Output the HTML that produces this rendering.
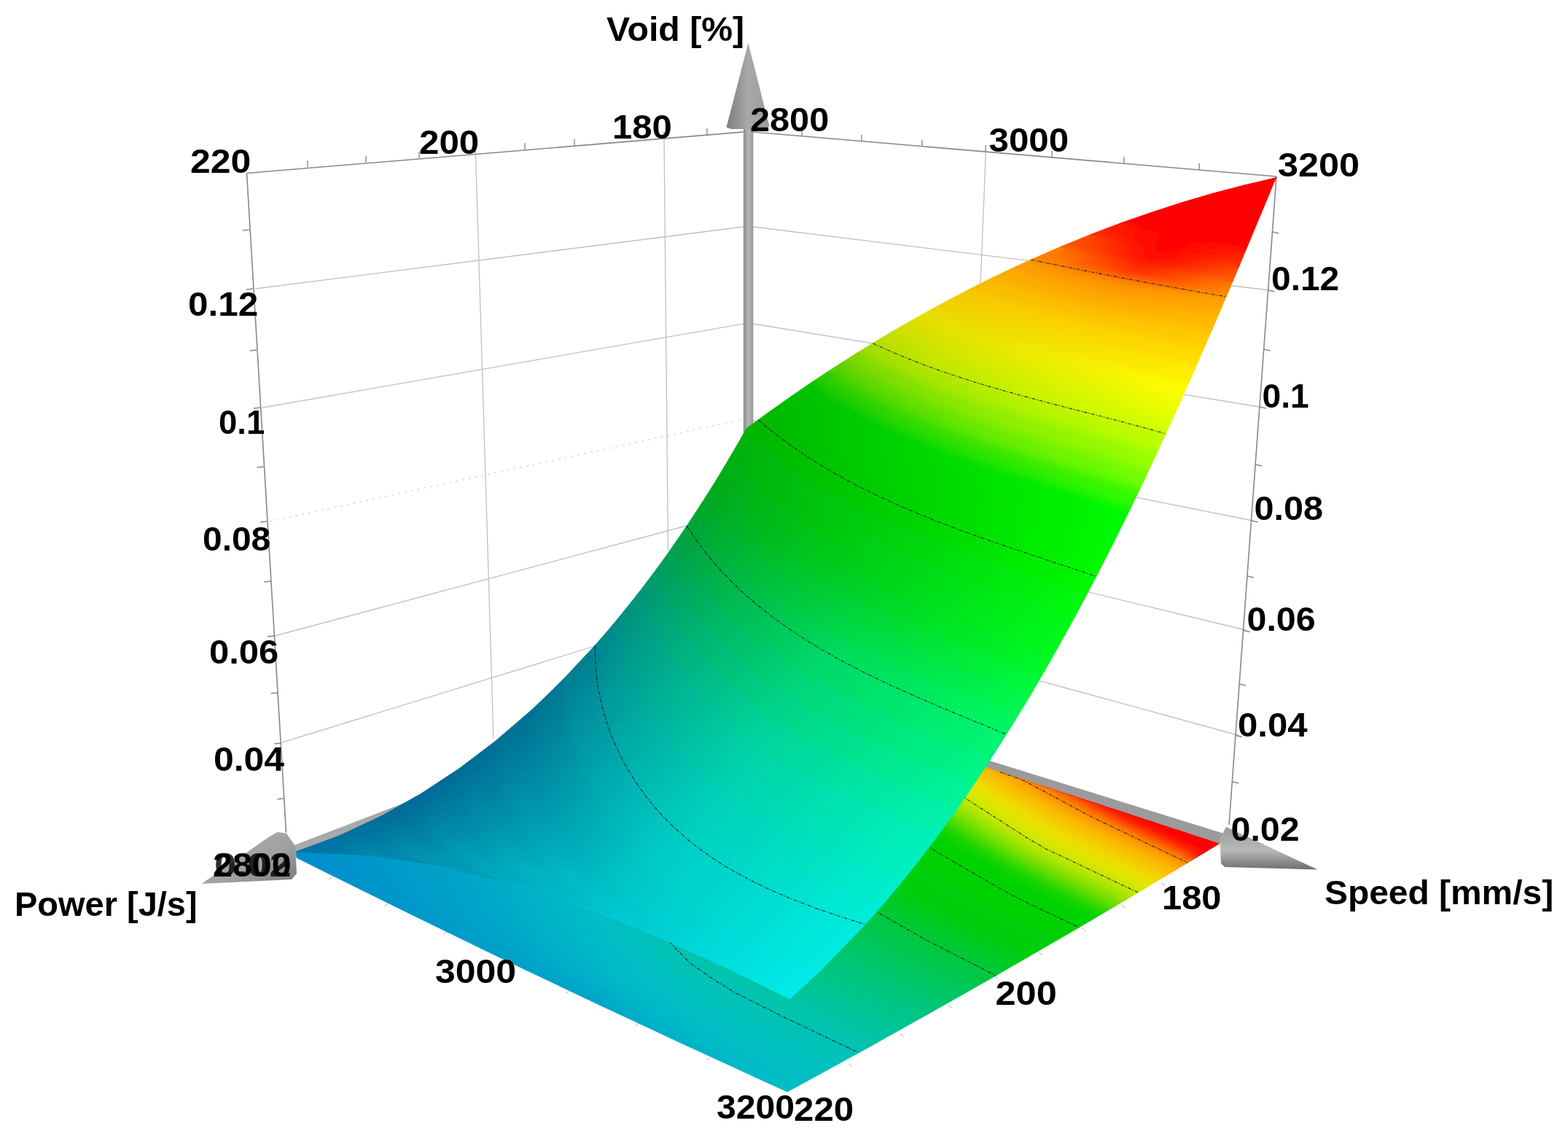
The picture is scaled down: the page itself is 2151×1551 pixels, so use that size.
<!DOCTYPE html>
<html lang="en"><head><meta charset="utf-8"><title>Void surface plot</title>
<style>html,body{margin:0;padding:0;background:#fff;overflow:hidden}svg{display:block}</style></head>
<body>
<svg width="2151" height="1551" viewBox="0 0 2151 1551">
<defs>
<linearGradient id="gsh" x1="0" x2="1" y1="0" y2="0"><stop offset="0" stop-color="#8c8c8c"/><stop offset="0.5" stop-color="#b4b4b4"/><stop offset="1" stop-color="#9a9a9a"/></linearGradient>
<linearGradient id="gcz" x1="0" x2="1" y1="0" y2="0"><stop offset="0" stop-color="#7d7d7d"/><stop offset="0.5" stop-color="#a8a8a8"/><stop offset="1" stop-color="#9c9c9c"/></linearGradient>
<linearGradient id="gcr" x1="0" x2="0" y1="0" y2="1"><stop offset="0" stop-color="#9a9a9a"/><stop offset="0.55" stop-color="#b8b8b8"/><stop offset="1" stop-color="#6e6e6e"/></linearGradient>
<linearGradient id="gcl" x1="0" x2="1" y1="0" y2="1"><stop offset="0" stop-color="#b4b4b4"/><stop offset="0.6" stop-color="#a0a0a0"/><stop offset="1" stop-color="#7a7a7a"/></linearGradient>
<filter id="bl" x="-5%" y="-5%" width="110%" height="110%"><feGaussianBlur stdDeviation="7"/></filter>
<clipPath id="cs"><polygon points="407.0,1168.0 410.9,1166.7 414.8,1165.4 418.6,1164.1 422.5,1162.7 426.3,1161.3 430.2,1160.0 434.0,1158.6 437.8,1157.1 441.6,1155.7 445.4,1154.2 449.2,1152.8 453.0,1151.3 456.8,1149.7 460.5,1148.2 464.3,1146.7 468.0,1145.1 471.7,1143.5 475.4,1141.9 479.1,1140.3 482.8,1138.6 486.5,1137.0 490.2,1135.3 493.8,1133.6 497.5,1131.9 501.1,1130.2 504.8,1128.4 508.4,1126.7 512.0,1124.9 515.6,1123.1 519.2,1121.3 522.8,1119.5 526.4,1117.6 529.9,1115.7 533.5,1113.9 537.0,1112.0 540.5,1110.1 544.1,1108.1 547.6,1106.2 551.1,1104.2 554.6,1102.3 558.0,1100.3 561.5,1098.3 565.0,1096.2 568.4,1094.2 571.9,1092.2 575.3,1090.1 578.7,1088.0 582.1,1085.9 585.5,1083.8 588.9,1081.7 592.3,1079.5 595.7,1077.4 599.1,1075.2 602.4,1073.0 605.7,1070.8 609.1,1068.6 612.4,1066.4 615.7,1064.1 619.0,1061.9 622.3,1059.6 625.6,1057.3 628.9,1055.0 632.1,1052.7 635.4,1050.3 638.7,1048.0 641.9,1045.6 645.1,1043.3 648.3,1040.9 651.5,1038.5 654.7,1036.1 657.9,1033.6 661.1,1031.2 664.3,1028.8 667.4,1026.3 670.6,1023.8 673.7,1021.3 676.9,1018.8 680.0,1016.3 683.1,1013.8 686.2,1011.2 689.3,1008.7 692.4,1006.1 695.5,1003.5 698.5,1000.9 701.6,998.3 704.6,995.7 707.7,993.1 710.7,990.5 713.7,987.8 716.7,985.2 719.7,982.5 722.7,979.8 725.7,977.1 728.7,974.4 731.6,971.7 734.6,968.9 737.5,966.2 740.5,963.4 743.4,960.7 746.3,957.9 749.2,955.1 752.1,952.3 755.0,949.5 757.9,946.7 760.8,943.9 763.6,941.0 766.5,938.2 769.3,935.3 772.2,932.5 775.0,929.6 777.8,926.7 780.6,923.8 783.4,920.9 786.2,918.0 789.0,915.0 791.8,912.1 794.5,909.2 797.3,906.2 800.0,903.2 802.8,900.3 805.5,897.3 808.2,894.3 810.9,891.3 813.6,888.3 816.3,885.3 819.0,882.2 821.7,879.2 824.3,876.1 827.0,873.1 829.6,870.0 832.3,867.0 834.9,863.9 837.5,860.8 840.1,857.7 842.8,854.6 845.3,851.5 847.9,848.4 850.5,845.2 853.1,842.1 855.6,839.0 858.2,835.8 860.7,832.7 863.3,829.5 865.8,826.3 868.3,823.1 870.8,820.0 873.3,816.8 875.8,813.6 878.3,810.4 880.8,807.2 883.2,803.9 885.7,800.7 888.2,797.5 890.6,794.2 893.0,791.0 895.5,787.7 897.9,784.5 900.3,781.2 902.7,778.0 905.1,774.7 907.5,771.4 909.8,768.1 912.2,764.8 914.5,761.5 916.9,758.2 919.2,754.9 921.6,751.6 923.9,748.3 926.2,745.0 928.5,741.6 930.8,738.3 933.1,735.0 935.4,731.6 937.7,728.3 939.9,724.9 942.2,721.6 944.4,718.2 946.7,714.8 948.9,711.5 951.1,708.1 953.4,704.7 955.6,701.3 957.8,697.9 960.0,694.6 962.1,691.2 964.3,687.8 966.5,684.4 968.6,681.0 970.8,677.6 972.9,674.1 975.1,670.7 977.2,667.3 979.3,663.9 981.4,660.5 983.6,657.0 985.6,653.6 987.7,650.2 989.8,646.7 991.9,643.3 994.0,639.9 996.0,636.4 998.1,633.0 1000.1,629.5 1002.1,626.1 1004.2,622.6 1006.2,619.2 1008.2,615.7 1010.2,612.3 1012.2,608.8 1014.2,605.3 1016.2,601.9 1018.1,598.4 1020.1,594.9 1022.1,591.5 1024.0,588.0 1027.2,585.6 1030.5,583.2 1033.7,580.8 1036.9,578.4 1040.2,576.1 1043.4,573.7 1046.7,571.3 1049.9,568.9 1053.2,566.6 1056.5,564.2 1059.7,561.9 1063.0,559.6 1066.3,557.2 1069.6,554.9 1072.9,552.6 1076.2,550.3 1079.5,547.9 1082.8,545.6 1086.1,543.3 1089.4,541.0 1092.7,538.8 1096.0,536.5 1099.3,534.2 1102.7,531.9 1106.0,529.7 1109.3,527.4 1112.7,525.2 1116.0,522.9 1119.3,520.7 1122.7,518.4 1126.1,516.2 1129.4,514.0 1132.8,511.8 1136.1,509.6 1139.5,507.4 1142.9,505.2 1146.3,503.0 1149.7,500.8 1153.0,498.6 1156.4,496.4 1159.8,494.3 1163.2,492.1 1166.6,489.9 1170.0,487.8 1173.5,485.7 1176.9,483.5 1180.3,481.4 1183.7,479.3 1187.1,477.2 1190.6,475.0 1194.0,472.9 1197.5,470.8 1200.9,468.8 1204.3,466.7 1207.8,464.6 1211.3,462.5 1214.7,460.5 1218.2,458.4 1221.6,456.4 1225.1,454.3 1228.6,452.3 1232.1,450.3 1235.6,448.2 1239.0,446.2 1242.5,444.2 1246.0,442.2 1249.5,440.2 1253.0,438.2 1256.5,436.2 1260.0,434.3 1263.6,432.3 1267.1,430.3 1270.6,428.4 1274.1,426.4 1277.7,424.5 1281.2,422.6 1284.7,420.6 1288.3,418.7 1291.8,416.8 1295.4,414.9 1298.9,413.0 1302.5,411.1 1306.0,409.2 1309.6,407.4 1313.2,405.5 1316.7,403.6 1320.3,401.8 1323.9,399.9 1327.5,398.1 1331.0,396.3 1334.6,394.4 1338.2,392.6 1341.8,390.8 1345.4,389.0 1349.0,387.2 1352.6,385.4 1356.2,383.6 1359.9,381.9 1363.5,380.1 1367.1,378.4 1370.7,376.6 1374.4,374.9 1378.0,373.1 1381.6,371.4 1385.3,369.7 1388.9,368.0 1392.6,366.3 1396.2,364.6 1399.9,362.9 1403.5,361.2 1407.2,359.5 1410.8,357.9 1414.5,356.2 1418.2,354.6 1421.9,352.9 1425.5,351.3 1429.2,349.7 1432.9,348.1 1436.6,346.4 1440.3,344.8 1444.0,343.3 1447.7,341.7 1451.4,340.1 1455.1,338.5 1458.8,337.0 1462.5,335.4 1466.2,333.9 1469.9,332.3 1473.7,330.8 1477.4,329.3 1481.1,327.8 1484.8,326.3 1488.6,324.8 1492.3,323.3 1496.1,321.8 1499.8,320.4 1503.6,318.9 1507.3,317.4 1511.1,316.0 1514.8,314.6 1518.6,313.1 1522.4,311.7 1526.1,310.3 1529.9,308.9 1533.7,307.5 1537.4,306.1 1541.2,304.8 1545.0,303.4 1548.8,302.0 1552.6,300.7 1556.4,299.4 1560.2,298.0 1564.0,296.7 1567.8,295.4 1571.6,294.1 1575.4,292.8 1579.2,291.5 1583.0,290.2 1586.9,289.0 1590.7,287.7 1594.5,286.4 1598.3,285.2 1602.2,284.0 1606.0,282.7 1609.8,281.5 1613.7,280.3 1617.5,279.1 1621.4,277.9 1625.2,276.8 1629.1,275.6 1632.9,274.4 1636.8,273.3 1640.7,272.1 1644.5,271.0 1648.4,269.9 1652.3,268.8 1656.1,267.7 1660.0,266.6 1663.9,265.5 1667.8,264.4 1671.7,263.3 1675.6,262.3 1679.4,261.2 1683.3,260.2 1687.2,259.2 1691.1,258.1 1695.0,257.1 1699.0,256.1 1702.9,255.1 1706.8,254.2 1710.7,253.2 1714.6,252.2 1718.5,251.3 1722.5,250.3 1726.4,249.4 1730.3,248.5 1734.2,247.6 1738.2,246.7 1742.1,245.8 1746.1,244.9 1750.0,244.0 1750.0,244.0 1748.5,247.7 1746.9,251.4 1745.4,255.1 1743.9,258.8 1742.4,262.5 1740.8,266.2 1739.3,269.9 1737.8,273.6 1736.2,277.3 1734.7,281.0 1733.2,284.7 1731.6,288.4 1730.1,292.1 1728.5,295.8 1727.0,299.5 1725.5,303.2 1723.9,306.9 1722.4,310.6 1720.8,314.3 1719.3,318.0 1717.7,321.7 1716.2,325.4 1714.7,329.1 1713.1,332.8 1711.6,336.5 1710.0,340.2 1708.4,343.9 1706.9,347.6 1705.3,351.3 1703.8,355.0 1702.2,358.7 1700.7,362.4 1699.1,366.1 1697.6,369.8 1696.0,373.5 1694.4,377.2 1692.9,380.9 1691.3,384.6 1689.7,388.3 1688.2,392.0 1686.6,395.7 1685.0,399.4 1683.4,403.1 1681.9,406.8 1680.3,410.5 1678.7,414.2 1677.1,417.9 1675.5,421.6 1674.0,425.3 1672.4,429.0 1670.8,432.7 1669.2,436.4 1667.6,440.1 1666.0,443.8 1664.4,447.5 1662.8,451.2 1661.2,454.9 1659.6,458.5 1658.0,462.2 1656.4,465.9 1654.8,469.6 1653.2,473.3 1651.6,477.0 1650.0,480.7 1648.4,484.4 1646.8,488.1 1645.1,491.8 1643.5,495.5 1641.9,499.2 1640.3,502.8 1638.7,506.5 1637.0,510.2 1635.4,513.9 1633.8,517.6 1632.1,521.3 1630.5,525.0 1628.9,528.6 1627.2,532.3 1625.6,536.0 1623.9,539.7 1622.3,543.4 1620.6,547.0 1619.0,550.7 1617.3,554.4 1615.7,558.1 1614.0,561.7 1612.3,565.4 1610.7,569.1 1609.0,572.8 1607.3,576.4 1605.7,580.1 1604.0,583.8 1602.3,587.4 1600.6,591.1 1599.0,594.8 1597.3,598.4 1595.6,602.1 1593.9,605.7 1592.2,609.4 1590.5,613.1 1588.8,616.7 1587.1,620.4 1585.4,624.0 1583.7,627.7 1582.0,631.3 1580.3,635.0 1578.6,638.6 1576.8,642.3 1575.1,645.9 1573.4,649.6 1571.7,653.2 1569.9,656.9 1568.2,660.5 1566.5,664.1 1564.7,667.8 1563.0,671.4 1561.2,675.0 1559.5,678.7 1557.7,682.3 1556.0,685.9 1554.2,689.6 1552.5,693.2 1550.7,696.8 1548.9,700.4 1547.2,704.1 1545.4,707.7 1543.6,711.3 1541.8,714.9 1540.0,718.5 1538.3,722.1 1536.5,725.7 1534.7,729.4 1532.9,733.0 1531.1,736.6 1529.3,740.2 1527.5,743.8 1525.6,747.4 1523.8,751.0 1522.0,754.6 1520.2,758.2 1518.4,761.7 1516.5,765.3 1514.7,768.9 1512.9,772.5 1511.0,776.1 1509.2,779.7 1507.3,783.2 1505.5,786.8 1503.6,790.4 1501.8,794.0 1499.9,797.5 1498.0,801.1 1496.2,804.7 1494.3,808.2 1492.4,811.8 1490.5,815.4 1488.6,818.9 1486.7,822.5 1484.8,826.0 1482.9,829.6 1481.0,833.1 1479.1,836.7 1477.2,840.2 1475.3,843.7 1473.4,847.3 1471.5,850.8 1469.5,854.3 1467.6,857.9 1465.7,861.4 1463.7,864.9 1461.8,868.5 1459.8,872.0 1457.9,875.5 1455.9,879.0 1454.0,882.5 1452.0,886.0 1450.0,889.5 1448.1,893.0 1446.1,896.5 1444.1,900.0 1442.1,903.5 1440.1,907.0 1438.1,910.5 1436.1,914.0 1434.1,917.5 1432.1,921.0 1430.1,924.4 1428.1,927.9 1426.1,931.4 1424.0,934.9 1422.0,938.3 1420.0,941.8 1417.9,945.3 1415.9,948.7 1413.8,952.2 1411.8,955.6 1409.7,959.1 1407.6,962.5 1405.6,966.0 1403.5,969.4 1401.4,972.8 1399.3,976.3 1397.2,979.7 1395.1,983.1 1393.0,986.6 1390.9,990.0 1388.8,993.4 1386.7,996.8 1384.6,1000.2 1382.4,1003.6 1380.3,1007.0 1378.2,1010.4 1376.0,1013.8 1373.9,1017.2 1371.7,1020.6 1369.6,1024.0 1367.4,1027.4 1365.3,1030.8 1363.1,1034.2 1360.9,1037.5 1358.7,1040.9 1356.5,1044.3 1354.3,1047.6 1352.1,1051.0 1349.9,1054.4 1347.7,1057.7 1345.5,1061.1 1343.3,1064.4 1341.0,1067.7 1338.8,1071.1 1336.6,1074.4 1334.3,1077.7 1332.1,1081.0 1329.8,1084.4 1327.5,1087.7 1325.3,1091.0 1323.0,1094.3 1320.7,1097.6 1318.4,1100.9 1316.1,1104.2 1313.8,1107.5 1311.5,1110.7 1309.2,1114.0 1306.9,1117.3 1304.5,1120.5 1302.2,1123.8 1299.9,1127.1 1297.5,1130.3 1295.1,1133.6 1292.8,1136.8 1290.4,1140.0 1288.0,1143.3 1285.7,1146.5 1283.3,1149.7 1280.9,1152.9 1278.5,1156.1 1276.0,1159.3 1273.6,1162.5 1271.2,1165.7 1268.8,1168.9 1266.3,1172.1 1263.9,1175.2 1261.4,1178.4 1258.9,1181.6 1256.5,1184.7 1254.0,1187.9 1251.5,1191.0 1249.0,1194.2 1246.5,1197.3 1244.0,1200.4 1241.5,1203.5 1239.0,1206.7 1236.4,1209.8 1233.9,1212.9 1231.3,1216.0 1228.8,1219.1 1226.2,1222.1 1223.6,1225.2 1221.0,1228.3 1218.5,1231.3 1215.9,1234.4 1213.2,1237.4 1210.6,1240.5 1208.0,1243.5 1205.4,1246.5 1202.7,1249.6 1200.1,1252.6 1197.4,1255.6 1194.8,1258.6 1192.1,1261.6 1189.4,1264.6 1186.7,1267.5 1184.0,1270.5 1181.3,1273.5 1178.6,1276.4 1175.8,1279.4 1173.1,1282.3 1170.4,1285.3 1167.6,1288.2 1164.8,1291.1 1162.1,1294.0 1159.3,1296.9 1156.5,1299.8 1153.7,1302.7 1150.9,1305.6 1148.0,1308.4 1145.2,1311.3 1142.4,1314.2 1139.5,1317.0 1136.7,1319.8 1133.8,1322.7 1130.9,1325.5 1128.0,1328.3 1125.1,1331.1 1122.2,1333.9 1119.3,1336.7 1116.4,1339.5 1113.4,1342.3 1110.5,1345.0 1107.5,1347.8 1104.6,1350.5 1101.6,1353.3 1098.6,1356.0 1095.6,1358.7 1092.6,1361.4 1089.6,1364.1 1086.5,1366.8 1083.5,1369.5 1079.9,1367.7 1076.4,1365.9 1072.8,1364.1 1069.2,1362.3 1065.7,1360.5 1062.1,1358.7 1058.5,1356.9 1054.9,1355.1 1051.3,1353.3 1047.7,1351.5 1044.2,1349.7 1040.6,1347.9 1037.0,1346.1 1033.4,1344.3 1029.8,1342.5 1026.2,1340.7 1022.5,1339.0 1018.9,1337.2 1015.3,1335.4 1011.7,1333.7 1008.1,1331.9 1004.5,1330.1 1000.8,1328.4 997.2,1326.6 993.6,1324.9 989.9,1323.1 986.3,1321.4 982.6,1319.6 979.0,1317.9 975.4,1316.2 971.7,1314.4 968.1,1312.7 964.4,1311.0 960.7,1309.3 957.1,1307.6 953.4,1305.9 949.7,1304.2 946.1,1302.5 942.4,1300.8 938.7,1299.1 935.0,1297.4 931.4,1295.8 927.7,1294.1 924.0,1292.4 920.3,1290.8 916.6,1289.1 912.9,1287.5 909.2,1285.9 905.5,1284.2 901.8,1282.6 898.1,1281.0 894.4,1279.4 890.6,1277.8 886.9,1276.2 883.2,1274.6 879.5,1273.0 875.8,1271.4 872.0,1269.9 868.3,1268.3 864.6,1266.8 860.8,1265.2 857.1,1263.7 853.3,1262.1 849.6,1260.6 845.8,1259.1 842.1,1257.6 838.3,1256.1 834.6,1254.6 830.8,1253.1 827.0,1251.7 823.3,1250.2 819.5,1248.8 815.7,1247.3 811.9,1245.9 808.2,1244.5 804.4,1243.0 800.6,1241.6 796.8,1240.2 793.0,1238.8 789.2,1237.5 785.4,1236.1 781.6,1234.7 777.8,1233.4 774.0,1232.1 770.2,1230.7 766.4,1229.4 762.6,1228.1 758.7,1226.8 754.9,1225.5 751.1,1224.3 747.3,1223.0 743.4,1221.8 739.6,1220.5 735.8,1219.3 731.9,1218.1 728.1,1216.9 724.2,1215.7 720.4,1214.5 716.5,1213.3 712.7,1212.2 708.8,1211.0 705.0,1209.9 701.1,1208.8 697.2,1207.7 693.4,1206.6 689.5,1205.5 685.6,1204.4 681.7,1203.4 677.9,1202.3 674.0,1201.3 670.1,1200.3 666.2,1199.3 662.3,1198.3 658.4,1197.3 654.5,1196.3 650.6,1195.4 646.7,1194.4 642.8,1193.5 638.9,1192.6 635.0,1191.7 631.1,1190.8 627.1,1190.0 623.2,1189.1 619.3,1188.3 615.4,1187.5 611.4,1186.7 607.5,1185.9 603.6,1185.1 599.6,1184.3 595.7,1183.6 591.7,1182.9 587.8,1182.2 583.8,1181.5 579.9,1180.8 575.9,1180.1 572.0,1179.5 568.0,1178.8 564.0,1178.2 560.1,1177.6 556.1,1177.0 552.1,1176.5 548.1,1175.9 544.1,1175.4 540.2,1174.8 536.2,1174.3 532.2,1173.9 528.2,1173.4 524.2,1172.9 520.2,1172.5 516.2,1172.1 512.2,1171.7 508.2,1171.3 504.2,1171.0 500.2,1170.6 496.1,1170.3 492.1,1170.0 488.1,1169.7 484.1,1169.4 480.0,1169.2 476.0,1169.0 472.0,1168.7 467.9,1168.6 463.9,1168.4 459.8,1168.2 455.8,1168.1 451.7,1168.0 447.7,1167.9 443.6,1167.8 439.6,1167.7 435.5,1167.7 431.5,1167.7 427.4,1167.7 423.3,1167.7 419.2,1167.8 415.2,1167.8 411.1,1167.9 407.0,1168.0"/></clipPath>
<clipPath id="cf"><polygon points="407.0,1168.0 815.0,1020.0 941.0,975.0 1025.0,946.0 1038.0,950.0 1179.0,996.0 1372.0,1059.0 1672.0,1157.0 1672.0,1157.0 1629.0,1183.0 1561.0,1223.8 1480.0,1271.7 1366.0,1337.7 1272.0,1391.1 1178.0,1443.5 1080.0,1497.0 945.4,1435.4 810.8,1372.4 676.2,1308.2 541.6,1242.8 407.0,1176.0"/></clipPath>
</defs>
<rect width="2151" height="1551" fill="#fff"/>
<g fill="none"><line x1="350.0" y1="396.0" x2="1020.0" y2="311.0" stroke="#c0c0c0" stroke-width="1.30" /><line x1="360.0" y1="559.0" x2="1020.0" y2="444.0" stroke="#c0c0c0" stroke-width="1.30" /><line x1="370.0" y1="715.0" x2="1020.0" y2="575.0" stroke="#dedede" stroke-width="1.60" stroke-dasharray="3 6"/><line x1="377.0" y1="872.0" x2="942.0" y2="721.0" stroke="#c0c0c0" stroke-width="1.30" /><line x1="384.0" y1="1019.0" x2="816.0" y2="886.0" stroke="#c0c0c0" stroke-width="1.30" /><line x1="652.5" y1="212.0" x2="677.0" y2="1013.0" stroke="#c0c0c0" stroke-width="1.30" /><line x1="911.0" y1="190.0" x2="916.5" y2="755.0" stroke="#c0c0c0" stroke-width="1.30" /><line x1="1033.0" y1="311.0" x2="1741.0" y2="398.0" stroke="#c0c0c0" stroke-width="1.30" /><line x1="1033.0" y1="444.0" x2="1728.0" y2="558.0" stroke="#c0c0c0" stroke-width="1.30" /><line x1="1033.0" y1="577.0" x2="1718.0" y2="714.0" stroke="#c0c0c0" stroke-width="1.30" /><line x1="1033.0" y1="700.5" x2="1710.5" y2="864.5" stroke="#c0c0c0" stroke-width="1.30" /><line x1="1033.0" y1="826.0" x2="1699.5" y2="1008.5" stroke="#c0c0c0" stroke-width="1.30" /><line x1="1352.5" y1="205.0" x2="1345.0" y2="390.0" stroke="#c0c0c0" stroke-width="1.30" /><line x1="338.5" y1="237.5" x2="1020.0" y2="181.0" stroke="#888888" stroke-width="1.60" /><line x1="1033.0" y1="181.0" x2="1751.0" y2="242.0" stroke="#888888" stroke-width="1.60" /><line x1="338.5" y1="237.5" x2="392.5" y2="1142.0" stroke="#888888" stroke-width="1.60" /><line x1="1751.0" y1="242.0" x2="1686.0" y2="1131.0" stroke="#888888" stroke-width="1.60" /><line x1="422.0" y1="229.2" x2="422.0" y2="220.2" stroke="#888888" stroke-width="1.40" /><line x1="502.0" y1="222.7" x2="502.0" y2="213.7" stroke="#888888" stroke-width="1.40" /><line x1="575.0" y1="216.8" x2="575.0" y2="207.8" stroke="#888888" stroke-width="1.40" /><line x1="652.0" y1="210.6" x2="652.0" y2="201.6" stroke="#888888" stroke-width="1.40" /><line x1="720.0" y1="205.2" x2="720.0" y2="196.2" stroke="#888888" stroke-width="1.40" /><line x1="788.0" y1="199.7" x2="788.0" y2="190.7" stroke="#888888" stroke-width="1.40" /><line x1="911.0" y1="189.8" x2="911.0" y2="180.8" stroke="#888888" stroke-width="1.40" /><line x1="970.0" y1="185.0" x2="970.0" y2="176.0" stroke="#888888" stroke-width="1.40" /><line x1="1100.0" y1="186.7" x2="1100.0" y2="177.7" stroke="#888888" stroke-width="1.40" /><line x1="1182.0" y1="193.7" x2="1182.0" y2="184.7" stroke="#888888" stroke-width="1.40" /><line x1="1265.0" y1="200.7" x2="1265.0" y2="191.7" stroke="#888888" stroke-width="1.40" /><line x1="1352.0" y1="208.1" x2="1352.0" y2="199.1" stroke="#888888" stroke-width="1.40" /><line x1="1443.0" y1="215.8" x2="1443.0" y2="206.8" stroke="#888888" stroke-width="1.40" /><line x1="1542.0" y1="224.2" x2="1542.0" y2="215.2" stroke="#888888" stroke-width="1.40" /><line x1="1645.0" y1="233.0" x2="1645.0" y2="224.0" stroke="#888888" stroke-width="1.40" /><line x1="341.8" y1="315.0" x2="332.8" y2="316.0" stroke="#888888" stroke-width="1.40" /><line x1="346.8" y1="396.0" x2="337.8" y2="397.0" stroke="#888888" stroke-width="1.40" /><line x1="351.9" y1="480.0" x2="342.9" y2="481.0" stroke="#888888" stroke-width="1.40" /><line x1="356.8" y1="559.0" x2="347.8" y2="560.0" stroke="#888888" stroke-width="1.40" /><line x1="361.7" y1="640.0" x2="352.7" y2="641.0" stroke="#888888" stroke-width="1.40" /><line x1="366.3" y1="715.0" x2="357.3" y2="716.0" stroke="#888888" stroke-width="1.40" /><line x1="371.4" y1="797.0" x2="362.4" y2="798.0" stroke="#888888" stroke-width="1.40" /><line x1="376.0" y1="872.0" x2="367.0" y2="873.0" stroke="#888888" stroke-width="1.40" /><line x1="380.7" y1="950.0" x2="371.7" y2="951.0" stroke="#888888" stroke-width="1.40" /><line x1="385.0" y1="1019.0" x2="376.0" y2="1020.0" stroke="#888888" stroke-width="1.40" /><line x1="389.6" y1="1095.0" x2="380.6" y2="1096.0" stroke="#888888" stroke-width="1.40" /><line x1="1745.4" y1="318.0" x2="1754.4" y2="320.0" stroke="#888888" stroke-width="1.40" /><line x1="1739.6" y1="398.0" x2="1748.6" y2="400.0" stroke="#888888" stroke-width="1.40" /><line x1="1733.7" y1="479.0" x2="1742.7" y2="481.0" stroke="#888888" stroke-width="1.40" /><line x1="1727.9" y1="558.0" x2="1736.9" y2="560.0" stroke="#888888" stroke-width="1.40" /><line x1="1722.1" y1="637.0" x2="1731.1" y2="639.0" stroke="#888888" stroke-width="1.40" /><line x1="1716.5" y1="714.0" x2="1725.5" y2="716.0" stroke="#888888" stroke-width="1.40" /><line x1="1710.9" y1="790.0" x2="1719.9" y2="792.0" stroke="#888888" stroke-width="1.40" /><line x1="1705.5" y1="864.5" x2="1714.5" y2="866.5" stroke="#888888" stroke-width="1.40" /><line x1="1700.1" y1="938.0" x2="1709.1" y2="940.0" stroke="#888888" stroke-width="1.40" /><line x1="1695.0" y1="1008.5" x2="1704.0" y2="1010.5" stroke="#888888" stroke-width="1.40" /><line x1="1690.3" y1="1072.0" x2="1699.3" y2="1074.0" stroke="#888888" stroke-width="1.40" /></g>
<rect x="1019.8" y="170" width="13.6" height="440" fill="url(#gsh)"/>
<polygon points="1026.4,59 1055.5,173 1050,177 1003,177 996.5,174.5" fill="url(#gcz)"/>
<polygon points="1025,940 1682,1144 1682,1150 1672,1158 1025,953" fill="#9b9b9b"/>
<polygon points="1025,920 1025,940 400,1176 396,1162" fill="#a9a9a9"/>
<g id="fl" stroke-width="1.2" stroke-linejoin="round">
<polygon points="407.0,1168.0 407.0,1168.5 407.0,1169.0 407.0,1169.5 407.0,1170.0 407.0,1170.5 407.0,1171.0 407.0,1171.5 407.0,1172.0 407.0,1172.5 407.0,1173.0 407.0,1173.5 407.0,1174.0 407.0,1174.5 407.0,1175.0 407.0,1175.5 407.0,1176.0 459.2,1201.9 456.8,1199.8 454.5,1197.8 452.1,1195.8 449.8,1193.7 447.4,1191.6 445.2,1189.3 443.0,1187.0 441.1,1184.2 439.5,1181.3 438.1,1178.3 436.7,1175.2 435.5,1172.0 434.8,1168.7 434.0,1165.4 433.3,1162.1 432.5,1158.8" fill="#008ecd" stroke="#008ecd"/>
<polygon points="432.5,1158.8 433.3,1162.1 434.0,1165.4 434.8,1168.7 435.5,1172.0 436.7,1175.2 438.1,1178.3 439.5,1181.3 441.1,1184.2 443.0,1187.0 445.2,1189.3 447.4,1191.6 449.8,1193.7 452.1,1195.8 454.5,1197.8 456.8,1199.8 459.2,1201.9 511.4,1227.8 506.7,1224.2 501.9,1220.6 497.2,1217.0 492.5,1213.3 487.8,1209.7 483.3,1205.7 479.0,1201.4 475.3,1196.5 472.1,1191.1 469.2,1185.5 466.3,1179.9 464.0,1174.1 462.5,1167.9 461.0,1161.8 459.5,1155.6 458.0,1149.5" fill="#0091cc" stroke="#0091cc"/>
<polygon points="458.0,1149.5 459.5,1155.6 461.0,1161.8 462.5,1167.9 464.0,1174.1 466.3,1179.9 469.2,1185.5 472.1,1191.1 475.3,1196.5 479.0,1201.4 483.3,1205.7 487.8,1209.7 492.5,1213.3 497.2,1217.0 501.9,1220.6 506.7,1224.2 511.4,1227.8 563.7,1253.5 556.6,1248.4 549.5,1243.3 542.4,1238.1 535.3,1232.9 528.3,1227.6 521.6,1221.9 515.1,1215.8 509.4,1208.6 504.6,1200.9 500.3,1192.7 496.0,1184.5 492.5,1176.1 490.3,1167.1 488.0,1158.2 485.8,1149.2 483.5,1140.2" fill="#0094cb" stroke="#0094cb"/>
<polygon points="483.5,1140.2 485.8,1149.2 488.0,1158.2 490.3,1167.1 492.5,1176.1 496.0,1184.5 500.3,1192.7 504.6,1200.9 509.4,1208.6 515.1,1215.8 521.6,1221.9 528.3,1227.6 535.3,1232.9 542.4,1238.1 549.5,1243.3 556.6,1248.4 563.7,1253.5 616.0,1279.0 606.6,1272.3 597.1,1265.7 587.6,1259.1 578.2,1252.3 568.9,1245.4 559.9,1237.9 551.2,1230.0 543.7,1220.7 537.2,1210.5 531.5,1199.8 525.8,1189.1 521.1,1178.0 518.1,1166.3 515.0,1154.5 512.0,1142.8 509.0,1131.0" fill="#0097cb" stroke="#0097cb"/>
<polygon points="509.0,1131.0 512.0,1142.8 515.0,1154.5 518.1,1166.3 521.1,1178.0 525.8,1189.1 531.5,1199.8 537.2,1210.5 543.7,1220.7 551.2,1230.0 559.9,1237.9 568.9,1245.4 578.2,1252.3 587.6,1259.1 597.1,1265.7 606.6,1272.3 616.0,1279.0 668.4,1304.5 656.6,1296.3 644.7,1288.1 632.9,1280.0 621.2,1271.6 609.4,1263.2 598.2,1254.0 587.3,1244.2 577.9,1232.7 569.8,1220.2 562.7,1206.9 555.5,1193.7 549.6,1180.0 545.8,1165.4 542.1,1150.9 538.3,1136.3 534.5,1121.8" fill="#009aca" stroke="#009aca"/>
<polygon points="534.5,1121.8 538.3,1136.3 542.1,1150.9 545.8,1165.4 549.6,1180.0 555.5,1193.7 562.7,1206.9 569.8,1220.2 577.9,1232.7 587.3,1244.2 598.2,1254.0 609.4,1263.2 621.2,1271.6 632.9,1280.0 644.7,1288.1 656.6,1296.3 668.4,1304.5 721.0,1329.6 706.7,1319.9 692.5,1310.3 678.3,1300.6 664.2,1290.7 650.1,1280.8 636.6,1269.9 623.5,1258.3 612.2,1244.6 602.5,1229.6 593.9,1213.9 585.3,1198.1 578.2,1181.8 573.7,1164.5 569.1,1147.2 564.6,1129.8 560.0,1112.5" fill="#009dca" stroke="#009dca"/>
<polygon points="560.0,1112.5 564.6,1129.8 569.1,1147.2 573.7,1164.5 578.2,1181.8 585.3,1198.1 593.9,1213.9 602.5,1229.6 612.2,1244.6 623.5,1258.3 636.6,1269.9 650.1,1280.8 664.2,1290.7 678.3,1300.6 692.5,1310.3 706.7,1319.9 721.0,1329.6 773.6,1354.7 756.9,1343.5 740.3,1332.4 723.7,1321.2 707.2,1309.8 690.8,1298.3 675.0,1285.7 659.8,1272.2 646.5,1256.4 635.2,1239.1 625.2,1220.8 615.1,1202.6 606.8,1183.6 601.5,1163.5 596.2,1143.4 590.8,1123.3 585.5,1103.2" fill="#00a0c9" stroke="#00a0c9"/>
<polygon points="585.5,1103.2 590.8,1123.3 596.2,1143.4 601.5,1163.5 606.8,1183.6 615.1,1202.6 625.2,1220.8 635.2,1239.1 646.5,1256.4 659.8,1272.2 675.0,1285.7 690.8,1298.3 707.2,1309.8 723.7,1321.2 740.3,1332.4 756.9,1343.5 773.6,1354.7 826.2,1379.6 807.2,1367.0 788.2,1354.4 769.2,1341.8 750.3,1328.8 731.5,1315.7 713.4,1301.5 696.0,1286.2 680.9,1268.2 667.9,1248.5 656.4,1227.8 644.9,1207.0 635.4,1185.4 629.3,1162.6 623.2,1139.7 617.1,1116.9 611.0,1094.0" fill="#00a3c8" stroke="#00a3c8"/>
<polygon points="611.0,1094.0 617.1,1116.9 623.2,1139.7 629.3,1162.6 635.4,1185.4 644.9,1207.0 656.4,1227.8 667.9,1248.5 680.9,1268.2 696.0,1286.2 713.4,1301.5 731.5,1315.7 750.3,1328.8 769.2,1341.8 788.2,1354.4 807.2,1367.0 826.2,1379.6 879.0,1404.3 857.6,1390.2 836.2,1376.1 814.7,1362.0 793.5,1347.5 772.4,1333.0 752.0,1317.0 732.4,1300.0 715.3,1279.8 700.7,1257.8 687.8,1234.6 674.8,1211.3 664.1,1187.2 657.2,1161.6 650.3,1136.0 643.4,1110.4 636.5,1084.8" fill="#00a7c8" stroke="#00a7c8"/>
<polygon points="636.5,1084.8 643.4,1110.4 650.3,1136.0 657.2,1161.6 664.1,1187.2 674.8,1211.3 687.8,1234.6 700.7,1257.8 715.3,1279.8 732.4,1300.0 752.0,1317.0 772.4,1333.0 793.5,1347.5 814.7,1362.0 836.2,1376.1 857.6,1390.2 879.0,1404.3 931.7,1429.0 907.9,1413.4 884.1,1397.9 860.3,1382.3 836.7,1366.3 813.2,1350.2 790.5,1332.6 768.7,1313.7 749.7,1291.5 733.5,1267.1 719.1,1241.4 704.6,1215.6 692.7,1188.9 685.0,1160.6 677.4,1132.2 669.7,1103.9 662.0,1075.5" fill="#00acc8" stroke="#00acc8"/>
<polygon points="662.0,1075.5 669.7,1103.9 677.4,1132.2 685.0,1160.6 692.7,1188.9 704.6,1215.6 719.1,1241.4 733.5,1267.1 749.7,1291.5 768.7,1313.7 790.5,1332.6 813.2,1350.2 836.7,1366.3 860.3,1382.3 884.1,1397.9 907.9,1413.4 931.7,1429.0 984.7,1453.3 958.4,1436.3 932.2,1419.3 906.0,1402.3 880.0,1384.8 854.1,1367.3 829.2,1348.0 805.1,1327.3 784.2,1303.0 766.4,1276.2 750.4,1248.0 734.5,1219.8 721.4,1190.6 712.9,1159.5 704.5,1128.4 696.0,1097.3 687.5,1066.2" fill="#00b1c8" stroke="#00b1c8"/>
<polygon points="687.5,1066.2 696.0,1097.3 704.5,1128.4 712.9,1159.5 721.4,1190.6 734.5,1219.8 750.4,1248.0 766.4,1276.2 784.2,1303.0 805.1,1327.3 829.2,1348.0 854.1,1367.3 880.0,1384.8 906.0,1402.3 932.2,1419.3 958.4,1436.3 984.7,1453.3 1037.6,1477.6 1009.0,1459.1 980.4,1440.7 951.7,1422.2 923.4,1403.3 895.1,1384.2 867.8,1363.3 841.6,1340.9 818.7,1314.4 799.2,1285.3 781.8,1254.7 764.5,1224.0 750.1,1192.2 740.8,1158.4 731.6,1124.6 722.3,1090.8 713.0,1057.0" fill="#00b6c8" stroke="#00b6c8"/>
<polygon points="713.0,1057.0 722.3,1090.8 731.6,1124.6 740.8,1158.4 750.1,1192.2 764.5,1224.0 781.8,1254.7 799.2,1285.3 818.7,1314.4 841.6,1340.9 867.8,1363.3 895.1,1384.2 923.4,1403.3 951.7,1422.2 980.4,1440.7 1009.0,1459.1 1037.6,1477.6 1080.0,1497.0 1049.4,1477.4 1018.9,1457.8 988.3,1438.2 958.0,1418.0 927.8,1397.8 898.7,1375.5 870.8,1351.7 846.3,1323.5 825.5,1292.6 806.9,1260.0 788.4,1227.4 773.1,1193.5 763.1,1157.5 753.2,1121.6 743.3,1085.6 733.4,1049.6" fill="#00bac8" stroke="#00bac8"/>
<polygon points="733.4,1049.6 743.3,1085.6 753.2,1121.6 763.1,1157.5 773.1,1193.5 788.4,1227.4 806.9,1260.0 825.5,1292.6 846.3,1323.5 870.8,1351.7 898.7,1375.5 927.8,1397.8 958.0,1418.0 988.3,1438.2 1018.9,1457.8 1049.4,1477.4 1080.0,1497.0 1086.1,1493.7 1055.4,1474.3 1024.6,1454.9 993.8,1435.5 963.4,1415.6 932.9,1395.5 903.7,1373.5 875.5,1349.8 851.0,1321.7 830.1,1290.9 811.6,1258.3 793.0,1225.7 777.7,1191.8 767.9,1155.8 758.1,1119.8 748.3,1083.8 738.5,1047.8" fill="#00bcc7" stroke="#00bcc7"/>
<polygon points="738.5,1047.8 748.3,1083.8 758.1,1119.8 767.9,1155.8 777.7,1191.8 793.0,1225.7 811.6,1258.3 830.1,1290.9 851.0,1321.7 875.5,1349.8 903.7,1373.5 932.9,1395.5 963.4,1415.6 993.8,1435.5 1024.6,1454.9 1055.4,1474.3 1086.1,1493.7 1116.8,1476.9 1085.0,1458.7 1053.2,1440.4 1021.4,1422.2 990.0,1403.3 958.5,1384.3 928.4,1363.1 899.4,1340.3 874.3,1312.6 853.2,1282.0 834.6,1249.5 815.9,1217.0 800.8,1183.2 791.6,1147.0 782.4,1110.8 773.2,1074.7 764.0,1038.5" fill="#00bec4" stroke="#00bec4"/>
<polygon points="764.0,1038.5 773.2,1074.7 782.4,1110.8 791.6,1147.0 800.8,1183.2 815.9,1217.0 834.6,1249.5 853.2,1282.0 874.3,1312.6 899.4,1340.3 928.4,1363.1 958.5,1384.3 990.0,1403.3 1021.4,1422.2 1053.2,1440.4 1085.0,1458.7 1116.8,1476.9 1147.4,1460.2 1114.6,1443.1 1081.8,1425.9 1049.0,1408.8 1016.5,1391.0 984.1,1373.1 953.1,1352.8 923.3,1330.7 897.7,1303.6 876.3,1273.2 857.6,1240.8 838.8,1208.4 823.9,1174.6 815.3,1138.2 806.7,1101.9 798.1,1065.6 789.5,1029.2" fill="#00c0bd" stroke="#00c0bd"/>
<polygon points="789.5,1029.2 798.1,1065.6 806.7,1101.9 815.3,1138.2 823.9,1174.6 838.8,1208.4 857.6,1240.8 876.3,1273.2 897.7,1303.6 923.3,1330.7 953.1,1352.8 984.1,1373.1 1016.5,1391.0 1049.0,1408.8 1081.8,1425.9 1114.6,1443.1 1147.4,1460.2 1178.0,1443.5 1144.2,1427.5 1110.4,1411.4 1076.6,1395.4 1043.1,1378.7 1009.7,1361.9 977.8,1342.5 947.2,1321.2 921.0,1294.5 899.4,1264.4 880.6,1232.1 861.8,1199.8 847.0,1165.9 839.0,1129.5 831.0,1093.0 823.0,1056.5 815.0,1020.0" fill="#00c2b7" stroke="#00c2b7"/>
<polygon points="815.0,1020.0 823.0,1056.5 831.0,1093.0 839.0,1129.5 847.0,1165.9 861.8,1199.8 880.6,1232.1 899.4,1264.4 921.0,1294.5 947.2,1321.2 977.8,1342.5 1009.7,1361.9 1043.1,1378.7 1076.6,1395.4 1110.4,1411.4 1144.2,1427.5 1178.0,1443.5 1189.8,1436.9 1156.1,1420.9 1122.4,1404.9 1088.8,1388.8 1055.4,1372.1 1022.2,1355.2 990.4,1335.8 959.9,1314.6 933.5,1288.3 911.6,1258.6 892.6,1226.6 873.6,1194.6 858.3,1161.1 849.5,1125.1 840.6,1089.1 831.7,1053.2 822.9,1017.2" fill="#00c3b1" stroke="#00c3b1"/>
<polygon points="822.9,1017.2 831.7,1053.2 840.6,1089.1 849.5,1125.1 858.3,1161.1 873.6,1194.6 892.6,1226.6 911.6,1258.6 933.5,1288.3 959.9,1314.6 990.4,1335.8 1022.2,1355.2 1055.4,1372.1 1088.8,1388.8 1122.4,1404.9 1156.1,1420.9 1189.8,1436.9 1201.6,1430.4 1168.0,1414.3 1134.5,1398.3 1100.9,1382.2 1067.8,1365.4 1034.7,1348.5 1003.0,1329.1 972.6,1307.9 946.0,1282.0 923.7,1252.8 904.5,1221.1 885.3,1189.3 869.7,1156.2 859.9,1120.7 850.2,1085.3 840.5,1049.8 830.8,1014.4" fill="#00c4ab" stroke="#00c4ab"/>
<polygon points="830.8,1014.4 840.5,1049.8 850.2,1085.3 859.9,1120.7 869.7,1156.2 885.3,1189.3 904.5,1221.1 923.7,1252.8 946.0,1282.0 972.6,1307.9 1003.0,1329.1 1034.7,1348.5 1067.8,1365.4 1100.9,1382.2 1134.5,1398.3 1168.0,1414.3 1201.6,1430.4 1213.3,1423.8 1179.9,1407.8 1146.5,1391.7 1113.1,1375.6 1080.1,1358.8 1047.2,1341.8 1015.6,1322.4 985.3,1301.3 958.5,1275.8 935.9,1247.1 916.5,1215.6 897.1,1184.0 881.0,1151.3 870.4,1116.3 859.8,1081.4 849.2,1046.5 838.6,1011.6" fill="#00c4a4" stroke="#00c4a4"/>
<polygon points="838.6,1011.6 849.2,1046.5 859.8,1081.4 870.4,1116.3 881.0,1151.3 897.1,1184.0 916.5,1215.6 935.9,1247.1 958.5,1275.8 985.3,1301.3 1015.6,1322.4 1047.2,1341.8 1080.1,1358.8 1113.1,1375.6 1146.5,1391.7 1179.9,1407.8 1213.3,1423.8 1225.1,1417.2 1191.8,1401.2 1158.5,1385.1 1125.3,1369.0 1092.4,1352.1 1059.6,1335.1 1028.3,1315.6 998.0,1294.6 971.0,1269.5 948.0,1241.3 928.4,1210.0 908.9,1178.8 892.3,1146.4 880.9,1112.0 869.4,1077.6 858.0,1043.2 846.5,1008.8" fill="#00c49e" stroke="#00c49e"/>
<polygon points="846.5,1008.8 858.0,1043.2 869.4,1077.6 880.9,1112.0 892.3,1146.4 908.9,1178.8 928.4,1210.0 948.0,1241.3 971.0,1269.5 998.0,1294.6 1028.3,1315.6 1059.6,1335.1 1092.4,1352.1 1125.3,1369.0 1158.5,1385.1 1191.8,1401.2 1225.1,1417.2 1236.9,1410.7 1203.7,1394.6 1170.6,1378.5 1137.4,1362.4 1104.7,1345.4 1072.1,1328.4 1040.9,1308.9 1010.7,1288.0 983.5,1263.3 960.2,1235.5 940.4,1204.5 920.7,1173.5 903.7,1141.5 891.4,1107.6 879.0,1073.7 866.7,1039.8 854.4,1005.9" fill="#00c598" stroke="#00c598"/>
<polygon points="854.4,1005.9 866.7,1039.8 879.0,1073.7 891.4,1107.6 903.7,1141.5 920.7,1173.5 940.4,1204.5 960.2,1235.5 983.5,1263.3 1010.7,1288.0 1040.9,1308.9 1072.1,1328.4 1104.7,1345.4 1137.4,1362.4 1170.6,1378.5 1203.7,1394.6 1236.9,1410.7 1248.7,1404.1 1215.6,1388.0 1182.6,1372.0 1149.6,1355.8 1117.1,1338.8 1084.6,1321.7 1053.5,1302.2 1023.4,1281.3 996.0,1257.0 972.3,1229.7 952.4,1199.0 932.4,1168.3 915.0,1136.6 901.8,1103.2 888.6,1069.8 875.4,1036.5 862.2,1003.1" fill="#00c592" stroke="#00c592"/>
<polygon points="862.2,1003.1 875.4,1036.5 888.6,1069.8 901.8,1103.2 915.0,1136.6 932.4,1168.3 952.4,1199.0 972.3,1229.7 996.0,1257.0 1023.4,1281.3 1053.5,1302.2 1084.6,1321.7 1117.1,1338.8 1149.6,1355.8 1182.6,1372.0 1215.6,1388.0 1248.7,1404.1 1260.4,1397.6 1227.5,1381.5 1194.6,1365.4 1161.8,1349.3 1129.4,1332.1 1097.1,1314.9 1066.1,1295.5 1036.1,1274.6 1008.5,1250.8 984.5,1224.0 964.3,1193.5 944.2,1163.0 926.3,1131.7 912.3,1098.8 898.2,1066.0 884.2,1033.2 870.1,1000.3" fill="#00c58b" stroke="#00c58b"/>
<polygon points="870.1,1000.3 884.2,1033.2 898.2,1066.0 912.3,1098.8 926.3,1131.7 944.2,1163.0 964.3,1193.5 984.5,1224.0 1008.5,1250.8 1036.1,1274.6 1066.1,1295.5 1097.1,1314.9 1129.4,1332.1 1161.8,1349.3 1194.6,1365.4 1227.5,1381.5 1260.4,1397.6 1272.2,1391.0 1239.4,1374.9 1206.7,1358.8 1173.9,1342.7 1141.7,1325.5 1109.6,1308.2 1078.7,1288.7 1048.8,1268.0 1021.0,1244.5 996.6,1218.2 976.3,1188.0 956.0,1157.8 937.7,1126.8 922.8,1094.5 907.8,1062.1 892.9,1029.8 878.0,997.5" fill="#00c685" stroke="#00c685"/>
<polygon points="878.0,997.5 892.9,1029.8 907.8,1062.1 922.8,1094.5 937.7,1126.8 956.0,1157.8 976.3,1188.0 996.6,1218.2 1021.0,1244.5 1048.8,1268.0 1078.7,1288.7 1109.6,1308.2 1141.7,1325.5 1173.9,1342.7 1206.7,1358.8 1239.4,1374.9 1272.2,1391.0 1283.9,1384.3 1251.3,1368.2 1218.7,1352.1 1186.1,1336.0 1154.0,1318.8 1122.0,1301.5 1091.3,1282.0 1061.4,1261.3 1033.5,1238.2 1008.8,1212.4 988.2,1182.4 967.7,1152.5 949.0,1121.9 933.2,1090.1 917.4,1058.3 901.7,1026.5 885.9,994.7" fill="#00c67e" stroke="#00c67e"/>
<polygon points="885.9,994.7 901.7,1026.5 917.4,1058.3 933.2,1090.1 949.0,1121.9 967.7,1152.5 988.2,1182.4 1008.8,1212.4 1033.5,1238.2 1061.4,1261.3 1091.3,1282.0 1122.0,1301.5 1154.0,1318.8 1186.1,1336.0 1218.7,1352.1 1251.3,1368.2 1283.9,1384.3 1295.7,1377.7 1263.2,1361.6 1230.6,1345.5 1198.2,1329.3 1166.3,1312.0 1134.4,1294.7 1103.9,1275.2 1074.1,1254.6 1046.0,1231.9 1020.9,1206.6 1000.2,1176.9 979.5,1147.2 960.3,1116.9 943.7,1085.7 927.0,1054.4 910.4,1023.1 893.8,991.9" fill="#00c675" stroke="#00c675"/>
<polygon points="893.8,991.9 910.4,1023.1 927.0,1054.4 943.7,1085.7 960.3,1116.9 979.5,1147.2 1000.2,1176.9 1020.9,1206.6 1046.0,1231.9 1074.1,1254.6 1103.9,1275.2 1134.4,1294.7 1166.3,1312.0 1198.2,1329.3 1230.6,1345.5 1263.2,1361.6 1295.7,1377.7 1307.4,1371.0 1275.0,1354.9 1242.6,1338.8 1210.3,1322.6 1178.6,1305.3 1146.9,1287.9 1116.5,1268.4 1086.8,1247.9 1058.4,1225.6 1033.0,1200.8 1012.1,1171.3 991.3,1141.9 971.6,1112.0 954.1,1081.3 936.6,1050.5 919.1,1019.8 901.6,989.1" fill="#00c76c" stroke="#00c76c"/>
<polygon points="901.6,989.1 919.1,1019.8 936.6,1050.5 954.1,1081.3 971.6,1112.0 991.3,1141.9 1012.1,1171.3 1033.0,1200.8 1058.4,1225.6 1086.8,1247.9 1116.5,1268.4 1146.9,1287.9 1178.6,1305.3 1210.3,1322.6 1242.6,1338.8 1275.0,1354.9 1307.4,1371.0 1319.1,1364.4 1286.9,1348.3 1254.6,1332.2 1222.4,1316.0 1190.9,1298.6 1159.3,1281.2 1129.1,1261.6 1099.4,1241.2 1070.9,1219.4 1045.1,1195.0 1024.1,1165.8 1003.0,1136.6 983.0,1107.1 964.6,1076.9 946.2,1046.7 927.9,1016.5 909.5,986.2" fill="#00c763" stroke="#00c763"/>
<polygon points="909.5,986.2 927.9,1016.5 946.2,1046.7 964.6,1076.9 983.0,1107.1 1003.0,1136.6 1024.1,1165.8 1045.1,1195.0 1070.9,1219.4 1099.4,1241.2 1129.1,1261.6 1159.3,1281.2 1190.9,1298.6 1222.4,1316.0 1254.6,1332.2 1286.9,1348.3 1319.1,1364.4 1330.8,1357.7 1298.7,1341.6 1266.6,1325.5 1234.5,1309.3 1203.1,1291.8 1171.8,1274.4 1141.7,1254.8 1112.1,1234.4 1083.4,1213.1 1057.3,1189.1 1036.0,1160.2 1014.8,1131.4 994.3,1102.2 975.0,1072.5 955.8,1042.8 936.6,1013.1 917.4,983.4" fill="#00c75b" stroke="#00c75b"/>
<polygon points="917.4,983.4 936.6,1013.1 955.8,1042.8 975.0,1072.5 994.3,1102.2 1014.8,1131.4 1036.0,1160.2 1057.3,1189.1 1083.4,1213.1 1112.1,1234.4 1141.7,1254.8 1171.8,1274.4 1203.1,1291.8 1234.5,1309.3 1266.6,1325.5 1298.7,1341.6 1330.8,1357.7 1342.6,1351.1 1310.6,1334.9 1278.6,1318.8 1246.7,1302.6 1215.4,1285.1 1184.2,1267.6 1154.3,1248.0 1124.8,1227.7 1095.8,1206.8 1069.4,1183.3 1048.0,1154.7 1026.5,1126.1 1005.6,1097.2 985.5,1068.1 965.4,1038.9 945.3,1009.8 925.2,980.6" fill="#00c752" stroke="#00c752"/>
<polygon points="925.2,980.6 945.3,1009.8 965.4,1038.9 985.5,1068.1 1005.6,1097.2 1026.5,1126.1 1048.0,1154.7 1069.4,1183.3 1095.8,1206.8 1124.8,1227.7 1154.3,1248.0 1184.2,1267.6 1215.4,1285.1 1246.7,1302.6 1278.6,1318.8 1310.6,1334.9 1342.6,1351.1 1354.3,1344.4 1322.4,1328.3 1290.6,1312.2 1258.8,1295.9 1227.7,1278.4 1196.6,1260.8 1166.8,1241.2 1137.4,1221.0 1108.3,1200.5 1081.5,1177.5 1059.9,1149.2 1038.3,1120.8 1016.9,1092.3 996.0,1063.7 975.0,1035.1 954.1,1006.4 933.1,977.8" fill="#00c849" stroke="#00c849"/>
<polygon points="933.1,977.8 954.1,1006.4 975.0,1035.1 996.0,1063.7 1016.9,1092.3 1038.3,1120.8 1059.9,1149.2 1081.5,1177.5 1108.3,1200.5 1137.4,1221.0 1166.8,1241.2 1196.6,1260.8 1227.7,1278.4 1258.8,1295.9 1290.6,1312.2 1322.4,1328.3 1354.3,1344.4 1366.0,1337.7 1334.3,1321.6 1302.6,1305.5 1270.9,1289.3 1240.0,1271.7 1209.1,1254.1 1179.4,1234.5 1150.1,1214.3 1120.8,1194.2 1093.7,1171.7 1071.8,1143.6 1050.0,1115.5 1028.2,1087.4 1006.4,1059.3 984.6,1031.2 962.8,1003.1 941.0,975.0" fill="#00c840" stroke="#00c840"/>
<polygon points="941.0,975.0 962.8,1003.1 984.6,1031.2 1006.4,1059.3 1028.2,1087.4 1050.0,1115.5 1071.8,1143.6 1093.7,1171.7 1120.8,1194.2 1150.1,1214.3 1179.4,1234.5 1209.1,1254.1 1240.0,1271.7 1270.9,1289.3 1302.6,1305.5 1334.3,1321.6 1366.0,1337.7 1373.1,1333.6 1341.4,1317.5 1309.7,1301.5 1278.1,1285.3 1247.2,1267.7 1216.3,1250.1 1186.6,1230.6 1157.3,1210.5 1128.0,1190.4 1100.7,1168.1 1078.5,1140.6 1056.2,1113.0 1034.3,1085.0 1012.5,1057.0 990.6,1029.0 968.7,1001.0 946.8,973.0" fill="#00c838" stroke="#00c838"/>
<polygon points="946.8,973.0 968.7,1001.0 990.6,1029.0 1012.5,1057.0 1034.3,1085.0 1056.2,1113.0 1078.5,1140.6 1100.7,1168.1 1128.0,1190.4 1157.3,1210.5 1186.6,1230.6 1216.3,1250.1 1247.2,1267.7 1278.1,1285.3 1309.7,1301.5 1341.4,1317.5 1373.1,1333.6 1380.2,1329.5 1348.6,1313.5 1316.9,1297.4 1285.3,1281.3 1254.4,1263.7 1223.6,1246.1 1193.9,1226.7 1164.5,1206.8 1135.2,1186.7 1107.8,1164.6 1085.1,1137.5 1062.4,1110.5 1040.4,1082.6 1018.5,1054.7 996.5,1026.8 974.6,998.9 952.7,971.0" fill="#00c931" stroke="#00c931"/>
<polygon points="952.7,971.0 974.6,998.9 996.5,1026.8 1018.5,1054.7 1040.4,1082.6 1062.4,1110.5 1085.1,1137.5 1107.8,1164.6 1135.2,1186.7 1164.5,1206.8 1193.9,1226.7 1223.6,1246.1 1254.4,1263.7 1285.3,1281.3 1316.9,1297.4 1348.6,1313.5 1380.2,1329.5 1387.4,1325.3 1355.7,1309.4 1324.0,1293.4 1292.4,1277.3 1261.6,1259.7 1230.9,1242.1 1201.1,1222.8 1171.7,1203.0 1142.4,1182.9 1114.9,1161.0 1091.8,1134.5 1068.6,1108.0 1046.5,1080.2 1024.5,1052.4 1002.5,1024.6 980.5,996.8 958.5,969.0" fill="#00ca2a" stroke="#00ca2a"/>
<polygon points="958.5,969.0 980.5,996.8 1002.5,1024.6 1024.5,1052.4 1046.5,1080.2 1068.6,1108.0 1091.8,1134.5 1114.9,1161.0 1142.4,1182.9 1171.7,1203.0 1201.1,1222.8 1230.9,1242.1 1261.6,1259.7 1292.4,1277.3 1324.0,1293.4 1355.7,1309.4 1387.4,1325.3 1394.5,1321.2 1362.8,1305.3 1331.2,1289.4 1299.6,1273.3 1268.9,1255.7 1238.1,1238.0 1208.3,1218.9 1178.9,1199.2 1149.6,1179.2 1122.0,1157.4 1098.4,1131.5 1074.8,1105.5 1052.6,1077.8 1030.5,1050.1 1008.5,1022.4 986.4,994.7 964.3,966.9" fill="#00cb23" stroke="#00cb23"/>
<polygon points="964.3,966.9 986.4,994.7 1008.5,1022.4 1030.5,1050.1 1052.6,1077.8 1074.8,1105.5 1098.4,1131.5 1122.0,1157.4 1149.6,1179.2 1178.9,1199.2 1208.3,1218.9 1238.1,1238.0 1268.9,1255.7 1299.6,1273.3 1331.2,1289.4 1362.8,1305.3 1394.5,1321.2 1401.6,1317.1 1370.0,1301.2 1338.3,1285.4 1306.8,1269.3 1276.1,1251.7 1245.4,1234.0 1215.5,1215.0 1186.1,1195.4 1156.8,1175.4 1129.1,1153.9 1105.0,1128.4 1081.0,1103.0 1058.7,1075.5 1036.6,1047.8 1014.4,1020.2 992.3,992.6 970.2,964.9" fill="#00cc1c" stroke="#00cc1c"/>
<polygon points="970.2,964.9 992.3,992.6 1014.4,1020.2 1036.6,1047.8 1058.7,1075.5 1081.0,1103.0 1105.0,1128.4 1129.1,1153.9 1156.8,1175.4 1186.1,1195.4 1215.5,1215.0 1245.4,1234.0 1276.1,1251.7 1306.8,1269.3 1338.3,1285.4 1370.0,1301.2 1401.6,1317.1 1408.8,1313.0 1377.1,1297.1 1345.5,1281.3 1314.0,1265.3 1283.3,1247.7 1252.6,1230.0 1222.8,1211.1 1193.2,1191.7 1164.0,1171.7 1136.2,1150.3 1111.7,1125.4 1087.1,1100.5 1064.8,1073.1 1042.6,1045.5 1020.4,1018.0 998.2,990.5 976.0,962.9" fill="#00cc15" stroke="#00cc15"/>
<polygon points="976.0,962.9 998.2,990.5 1020.4,1018.0 1042.6,1045.5 1064.8,1073.1 1087.1,1100.5 1111.7,1125.4 1136.2,1150.3 1164.0,1171.7 1193.2,1191.7 1222.8,1211.1 1252.6,1230.0 1283.3,1247.7 1314.0,1265.3 1345.5,1281.3 1377.1,1297.1 1408.8,1313.0 1415.9,1308.8 1384.3,1293.1 1352.6,1277.3 1321.1,1261.3 1290.5,1243.7 1259.9,1226.0 1230.0,1207.3 1200.4,1187.9 1171.2,1168.0 1143.3,1146.7 1118.3,1122.4 1093.3,1098.0 1070.9,1070.7 1048.6,1043.2 1026.4,1015.8 1004.1,988.3 981.8,960.9" fill="#00cd0f" stroke="#00cd0f"/>
<polygon points="981.8,960.9 1004.1,988.3 1026.4,1015.8 1048.6,1043.2 1070.9,1070.7 1093.3,1098.0 1118.3,1122.4 1143.3,1146.7 1171.2,1168.0 1200.4,1187.9 1230.0,1207.3 1259.9,1226.0 1290.5,1243.7 1321.1,1261.3 1352.6,1277.3 1384.3,1293.1 1415.9,1308.8 1423.0,1304.7 1391.4,1289.0 1359.8,1273.3 1328.3,1257.3 1297.7,1239.7 1267.1,1222.0 1237.2,1203.4 1207.6,1184.1 1178.4,1164.2 1150.4,1143.2 1124.9,1119.3 1099.5,1095.5 1077.0,1068.3 1054.7,1040.9 1032.3,1013.6 1010.0,986.2 987.7,958.9" fill="#00ce0d" stroke="#00ce0d"/>
<polygon points="987.7,958.9 1010.0,986.2 1032.3,1013.6 1054.7,1040.9 1077.0,1068.3 1099.5,1095.5 1124.9,1119.3 1150.4,1143.2 1178.4,1164.2 1207.6,1184.1 1237.2,1203.4 1267.1,1222.0 1297.7,1239.7 1328.3,1257.3 1359.8,1273.3 1391.4,1289.0 1423.0,1304.7 1430.1,1300.6 1398.5,1284.9 1366.9,1269.3 1335.5,1253.3 1304.9,1235.7 1274.4,1218.0 1244.4,1199.5 1214.8,1180.3 1185.7,1160.5 1157.4,1139.6 1131.6,1116.3 1105.7,1093.0 1083.1,1065.9 1060.7,1038.6 1038.3,1011.4 1015.9,984.1 993.5,956.9" fill="#00ce0c" stroke="#00ce0c"/>
<polygon points="993.5,956.9 1015.9,984.1 1038.3,1011.4 1060.7,1038.6 1083.1,1065.9 1105.7,1093.0 1131.6,1116.3 1157.4,1139.6 1185.7,1160.5 1214.8,1180.3 1244.4,1199.5 1274.4,1218.0 1304.9,1235.7 1335.5,1253.3 1366.9,1269.3 1398.5,1284.9 1430.1,1300.6 1437.2,1296.4 1405.7,1280.8 1374.1,1265.2 1342.6,1249.3 1312.1,1231.7 1281.7,1214.0 1251.6,1195.6 1222.0,1176.5 1192.9,1156.7 1164.5,1136.0 1138.2,1113.2 1111.9,1090.5 1089.2,1063.5 1066.7,1036.3 1044.3,1009.2 1021.8,982.0 999.3,954.9" fill="#00cf0a" stroke="#00cf0a"/>
<polygon points="999.3,954.9 1021.8,982.0 1044.3,1009.2 1066.7,1036.3 1089.2,1063.5 1111.9,1090.5 1138.2,1113.2 1164.5,1136.0 1192.9,1156.7 1222.0,1176.5 1251.6,1195.6 1281.7,1214.0 1312.1,1231.7 1342.6,1249.3 1374.1,1265.2 1405.7,1280.8 1437.2,1296.4 1444.4,1292.3 1412.8,1276.7 1381.2,1261.2 1349.8,1245.3 1319.4,1227.7 1288.9,1210.0 1258.9,1191.7 1229.2,1172.8 1200.1,1153.0 1171.6,1132.5 1144.8,1110.2 1118.0,1087.9 1095.3,1061.1 1072.8,1034.1 1050.2,1007.0 1027.7,979.9 1005.2,952.8" fill="#00cf09" stroke="#00cf09"/>
<polygon points="1005.2,952.8 1027.7,979.9 1050.2,1007.0 1072.8,1034.1 1095.3,1061.1 1118.0,1087.9 1144.8,1110.2 1171.6,1132.5 1200.1,1153.0 1229.2,1172.8 1258.9,1191.7 1288.9,1210.0 1319.4,1227.7 1349.8,1245.3 1381.2,1261.2 1412.8,1276.7 1444.4,1292.3 1451.5,1288.2 1419.9,1272.7 1388.4,1257.2 1357.0,1241.4 1326.6,1223.7 1296.2,1206.0 1266.1,1187.8 1236.4,1169.0 1207.3,1149.2 1178.7,1128.9 1151.5,1107.2 1124.2,1085.4 1101.4,1058.7 1078.8,1031.8 1056.2,1004.8 1033.6,977.8 1011.0,950.8" fill="#00d007" stroke="#00d007"/>
<polygon points="1011.0,950.8 1033.6,977.8 1056.2,1004.8 1078.8,1031.8 1101.4,1058.7 1124.2,1085.4 1151.5,1107.2 1178.7,1128.9 1207.3,1149.2 1236.4,1169.0 1266.1,1187.8 1296.2,1206.0 1326.6,1223.7 1357.0,1241.4 1388.4,1257.2 1419.9,1272.7 1451.5,1288.2 1458.6,1284.0 1427.1,1268.6 1395.5,1253.1 1364.2,1237.4 1333.8,1219.7 1303.4,1202.0 1273.3,1183.9 1243.6,1165.2 1214.5,1145.5 1185.8,1125.3 1158.1,1104.1 1130.4,1082.9 1107.5,1056.3 1084.8,1029.5 1062.2,1002.6 1039.5,975.7 1016.8,948.8" fill="#00d005" stroke="#00d005"/>
<polygon points="1016.8,948.8 1039.5,975.7 1062.2,1002.6 1084.8,1029.5 1107.5,1056.3 1130.4,1082.9 1158.1,1104.1 1185.8,1125.3 1214.5,1145.5 1243.6,1165.2 1273.3,1183.9 1303.4,1202.0 1333.8,1219.7 1364.2,1237.4 1395.5,1253.1 1427.1,1268.6 1458.6,1284.0 1465.8,1279.9 1434.2,1264.5 1402.7,1249.1 1371.3,1233.4 1341.0,1215.7 1310.7,1198.0 1280.5,1180.0 1250.8,1161.4 1221.7,1141.8 1192.9,1121.8 1164.7,1101.1 1136.6,1080.4 1113.6,1054.0 1090.9,1027.2 1068.1,1000.4 1045.4,973.6 1022.7,946.8" fill="#00d104" stroke="#00d104"/>
<polygon points="1022.7,946.8 1045.4,973.6 1068.1,1000.4 1090.9,1027.2 1113.6,1054.0 1136.6,1080.4 1164.7,1101.1 1192.9,1121.8 1221.7,1141.8 1250.8,1161.4 1280.5,1180.0 1310.7,1198.0 1341.0,1215.7 1371.3,1233.4 1402.7,1249.1 1434.2,1264.5 1465.8,1279.9 1468.6,1278.3 1437.1,1262.9 1405.5,1247.5 1374.2,1231.8 1343.9,1214.1 1313.6,1196.4 1283.4,1178.5 1253.6,1159.9 1224.6,1140.3 1195.7,1120.4 1167.4,1099.9 1139.1,1079.4 1116.0,1053.0 1093.3,1026.3 1070.5,999.5 1047.8,972.8 1025.0,946.0" fill="#00d103" stroke="#00d103"/>
<polygon points="1025.0,946.0 1047.8,972.8 1070.5,999.5 1093.3,1026.3 1116.0,1053.0 1139.1,1079.4 1167.4,1099.9 1195.7,1120.4 1224.6,1140.3 1253.6,1159.9 1283.4,1178.5 1313.6,1196.4 1343.9,1214.1 1374.2,1231.8 1405.5,1247.5 1437.1,1262.9 1468.6,1278.3 1472.9,1275.8 1441.4,1260.6 1410.0,1245.4 1378.8,1229.9 1348.6,1212.4 1318.4,1194.8 1288.3,1177.2 1258.6,1158.8 1229.6,1139.4 1200.7,1119.7 1172.2,1099.8 1143.7,1079.8 1120.7,1053.6 1098.0,1027.1 1075.3,1000.5 1052.6,974.0 1029.9,947.5" fill="#00d102" stroke="#00d102"/>
<polygon points="1029.9,947.5 1052.6,974.0 1075.3,1000.5 1098.0,1027.1 1120.7,1053.6 1143.7,1079.8 1172.2,1099.8 1200.7,1119.7 1229.6,1139.4 1258.6,1158.8 1288.3,1177.2 1318.4,1194.8 1348.6,1212.4 1378.8,1229.9 1410.0,1245.4 1441.4,1260.6 1472.9,1275.8 1480.0,1271.7 1448.7,1256.8 1417.4,1242.0 1386.4,1226.7 1356.4,1209.5 1326.3,1192.2 1296.3,1175.0 1266.8,1157.0 1237.9,1137.9 1209.1,1118.7 1180.3,1099.5 1151.5,1080.4 1128.5,1054.6 1105.9,1028.4 1083.3,1002.3 1060.6,976.1 1038.0,950.0" fill="#00d201" stroke="#00d201"/>
<polygon points="1038.0,950.0 1060.6,976.1 1083.3,1002.3 1105.9,1028.4 1128.5,1054.6 1151.5,1080.4 1180.3,1099.5 1209.1,1118.7 1237.9,1137.9 1266.8,1157.0 1296.3,1175.0 1326.3,1192.2 1356.4,1209.5 1386.4,1226.7 1417.4,1242.0 1448.7,1256.8 1480.0,1271.7 1485.1,1268.7 1454.2,1254.0 1423.3,1239.3 1392.6,1224.3 1362.8,1207.4 1333.1,1190.5 1303.5,1173.4 1274.3,1155.7 1245.8,1136.8 1217.3,1117.9 1188.9,1099.0 1160.4,1080.0 1137.4,1054.9 1114.8,1029.4 1092.1,1003.9 1069.5,978.4 1046.8,952.9" fill="#01d200" stroke="#01d200"/>
<polygon points="1046.8,952.9 1069.5,978.4 1092.1,1003.9 1114.8,1029.4 1137.4,1054.9 1160.4,1080.0 1188.9,1099.0 1217.3,1117.9 1245.8,1136.8 1274.3,1155.7 1303.5,1173.4 1333.1,1190.5 1362.8,1207.4 1392.6,1224.3 1423.3,1239.3 1454.2,1254.0 1485.1,1268.7 1490.1,1265.7 1459.6,1251.2 1429.1,1236.7 1398.7,1221.9 1369.3,1205.3 1339.9,1188.7 1310.7,1171.9 1281.8,1154.3 1253.7,1135.7 1225.6,1117.0 1197.4,1098.4 1169.3,1079.7 1146.3,1055.1 1123.6,1030.3 1101.0,1005.5 1078.3,980.6 1055.6,955.8" fill="#02d200" stroke="#02d200"/>
<polygon points="1055.6,955.8 1078.3,980.6 1101.0,1005.5 1123.6,1030.3 1146.3,1055.1 1169.3,1079.7 1197.4,1098.4 1225.6,1117.0 1253.7,1135.7 1281.8,1154.3 1310.7,1171.9 1339.9,1188.7 1369.3,1205.3 1398.7,1221.9 1429.1,1236.7 1459.6,1251.2 1490.1,1265.7 1495.2,1262.7 1465.1,1248.4 1434.9,1234.1 1404.9,1219.5 1375.8,1203.2 1346.7,1187.0 1317.8,1170.3 1289.4,1153.0 1261.6,1134.6 1233.8,1116.2 1206.0,1097.8 1178.2,1079.3 1155.2,1055.4 1132.5,1031.3 1109.8,1007.0 1087.1,982.8 1064.4,958.6" fill="#04d300" stroke="#04d300"/>
<polygon points="1064.4,958.6 1087.1,982.8 1109.8,1007.0 1132.5,1031.3 1155.2,1055.4 1178.2,1079.3 1206.0,1097.8 1233.8,1116.2 1261.6,1134.6 1289.4,1153.0 1317.8,1170.3 1346.7,1187.0 1375.8,1203.2 1404.9,1219.5 1434.9,1234.1 1465.1,1248.4 1495.2,1262.7 1500.2,1259.7 1470.5,1245.6 1440.7,1231.5 1411.1,1217.1 1382.3,1201.1 1353.5,1185.2 1325.0,1168.8 1296.9,1151.6 1269.5,1133.5 1242.0,1115.3 1214.5,1097.2 1187.1,1078.9 1164.1,1055.7 1141.4,1032.2 1118.7,1008.6 1096.0,985.1 1073.2,961.5" fill="#05d300" stroke="#05d300"/>
<polygon points="1073.2,961.5 1096.0,985.1 1118.7,1008.6 1141.4,1032.2 1164.1,1055.7 1187.1,1078.9 1214.5,1097.2 1242.0,1115.3 1269.5,1133.5 1296.9,1151.6 1325.0,1168.8 1353.5,1185.2 1382.3,1201.1 1411.1,1217.1 1440.7,1231.5 1470.5,1245.6 1500.2,1259.7 1505.3,1256.7 1475.9,1242.8 1446.6,1228.8 1417.3,1214.6 1388.8,1199.0 1360.3,1183.5 1332.2,1167.3 1304.5,1150.2 1277.4,1132.4 1250.2,1114.5 1223.1,1096.6 1196.0,1078.6 1173.0,1056.0 1150.2,1033.1 1127.5,1010.2 1104.8,987.3 1082.1,964.4" fill="#07d300" stroke="#07d300"/>
<polygon points="1082.1,964.4 1104.8,987.3 1127.5,1010.2 1150.2,1033.1 1173.0,1056.0 1196.0,1078.6 1223.1,1096.6 1250.2,1114.5 1277.4,1132.4 1304.5,1150.2 1332.2,1167.3 1360.3,1183.5 1388.8,1199.0 1417.3,1214.6 1446.6,1228.8 1475.9,1242.8 1505.3,1256.7 1510.4,1253.7 1481.4,1240.0 1452.4,1226.2 1423.5,1212.2 1395.3,1197.0 1367.1,1181.7 1339.3,1165.7 1312.0,1148.9 1285.2,1131.3 1258.4,1113.6 1231.6,1096.0 1205.0,1078.2 1181.9,1056.2 1159.1,1034.1 1136.4,1011.8 1113.6,989.5 1090.9,967.2" fill="#09d400" stroke="#09d400"/>
<polygon points="1090.9,967.2 1113.6,989.5 1136.4,1011.8 1159.1,1034.1 1181.9,1056.2 1205.0,1078.2 1231.6,1096.0 1258.4,1113.6 1285.2,1131.3 1312.0,1148.9 1339.3,1165.7 1367.1,1181.7 1395.3,1197.0 1423.5,1212.2 1452.4,1226.2 1481.4,1240.0 1510.4,1253.7 1515.4,1250.7 1486.8,1237.1 1458.2,1223.6 1429.7,1209.8 1401.8,1194.9 1373.9,1180.0 1346.5,1164.2 1319.6,1147.5 1293.1,1130.2 1266.6,1112.8 1240.2,1095.4 1213.9,1077.8 1190.8,1056.5 1168.0,1035.0 1145.2,1013.4 1122.5,991.8 1099.7,970.1" fill="#0cd400" stroke="#0cd400"/>
<polygon points="1099.7,970.1 1122.5,991.8 1145.2,1013.4 1168.0,1035.0 1190.8,1056.5 1213.9,1077.8 1240.2,1095.4 1266.6,1112.8 1293.1,1130.2 1319.6,1147.5 1346.5,1164.2 1373.9,1180.0 1401.8,1194.9 1429.7,1209.8 1458.2,1223.6 1486.8,1237.1 1515.4,1250.7 1520.5,1247.7 1492.3,1234.3 1464.0,1220.9 1435.9,1207.4 1408.3,1192.8 1380.7,1178.2 1353.7,1162.6 1327.1,1146.1 1301.0,1129.0 1274.9,1112.0 1248.8,1094.8 1222.8,1077.5 1199.7,1056.8 1176.9,1035.9 1154.1,1015.0 1131.3,994.0 1108.5,973.0" fill="#23d700" stroke="#23d700"/>
<polygon points="1108.5,973.0 1131.3,994.0 1154.1,1015.0 1176.9,1035.9 1199.7,1056.8 1222.8,1077.5 1248.8,1094.8 1274.9,1112.0 1301.0,1129.0 1327.1,1146.1 1353.7,1162.6 1380.7,1178.2 1408.3,1192.8 1435.9,1207.4 1464.0,1220.9 1492.3,1234.3 1520.5,1247.7 1525.6,1244.7 1497.7,1231.5 1469.9,1218.3 1442.1,1205.0 1414.8,1190.7 1387.5,1176.4 1360.8,1161.1 1334.7,1144.8 1308.9,1127.9 1283.1,1111.1 1257.3,1094.2 1231.7,1077.1 1208.6,1057.1 1185.7,1036.9 1162.9,1016.6 1140.1,996.2 1117.3,975.9" fill="#3ada00" stroke="#3ada00"/>
<polygon points="1117.3,975.9 1140.1,996.2 1162.9,1016.6 1185.7,1036.9 1208.6,1057.1 1231.7,1077.1 1257.3,1094.2 1283.1,1111.1 1308.9,1127.9 1334.7,1144.8 1360.8,1161.1 1387.5,1176.4 1414.8,1190.7 1442.1,1205.0 1469.9,1218.3 1497.7,1231.5 1525.6,1244.7 1530.6,1241.7 1503.2,1228.7 1475.7,1215.7 1448.3,1202.5 1421.3,1188.6 1394.3,1174.7 1368.0,1159.5 1342.2,1143.4 1316.8,1126.8 1291.3,1110.3 1265.9,1093.6 1240.6,1076.7 1217.5,1057.3 1194.6,1037.8 1171.8,1018.1 1148.9,998.4 1126.1,978.8" fill="#51dc00" stroke="#51dc00"/>
<polygon points="1126.1,978.8 1148.9,998.4 1171.8,1018.1 1194.6,1037.8 1217.5,1057.3 1240.6,1076.7 1265.9,1093.6 1291.3,1110.3 1316.8,1126.8 1342.2,1143.4 1368.0,1159.5 1394.3,1174.7 1421.3,1188.6 1448.3,1202.5 1475.7,1215.7 1503.2,1228.7 1530.6,1241.7 1535.7,1238.8 1508.6,1225.9 1481.5,1213.1 1454.5,1200.1 1427.8,1186.5 1401.1,1172.9 1375.2,1158.0 1349.8,1142.1 1324.6,1125.7 1299.5,1109.4 1274.4,1093.0 1249.5,1076.4 1226.4,1057.6 1203.5,1038.8 1180.6,1019.7 1157.8,1000.7 1134.9,981.6" fill="#68df00" stroke="#68df00"/>
<polygon points="1134.9,981.6 1157.8,1000.7 1180.6,1019.7 1203.5,1038.8 1226.4,1057.6 1249.5,1076.4 1274.4,1093.0 1299.5,1109.4 1324.6,1125.7 1349.8,1142.1 1375.2,1158.0 1401.1,1172.9 1427.8,1186.5 1454.5,1200.1 1481.5,1213.1 1508.6,1225.9 1535.7,1238.8 1540.8,1235.8 1514.0,1223.1 1487.3,1210.4 1460.7,1197.7 1434.3,1184.4 1407.9,1171.2 1382.3,1156.4 1357.3,1140.7 1332.5,1124.6 1307.7,1108.6 1283.0,1092.4 1258.4,1076.0 1235.3,1057.9 1212.3,1039.7 1189.5,1021.3 1166.6,1002.9 1143.8,984.5" fill="#7de100" stroke="#7de100"/>
<polygon points="1143.8,984.5 1166.6,1002.9 1189.5,1021.3 1212.3,1039.7 1235.3,1057.9 1258.4,1076.0 1283.0,1092.4 1307.7,1108.6 1332.5,1124.6 1357.3,1140.7 1382.3,1156.4 1407.9,1171.2 1434.3,1184.4 1460.7,1197.7 1487.3,1210.4 1514.0,1223.1 1540.8,1235.8 1545.8,1232.8 1519.5,1220.3 1493.2,1207.8 1466.9,1195.3 1440.8,1182.4 1414.7,1169.4 1389.5,1154.9 1364.9,1139.3 1340.4,1123.5 1315.9,1107.7 1291.5,1091.8 1267.3,1075.6 1244.2,1058.2 1221.2,1040.6 1198.3,1022.9 1175.4,1005.1 1152.6,987.4" fill="#8ee300" stroke="#8ee300"/>
<polygon points="1152.6,987.4 1175.4,1005.1 1198.3,1022.9 1221.2,1040.6 1244.2,1058.2 1267.3,1075.6 1291.5,1091.8 1315.9,1107.7 1340.4,1123.5 1364.9,1139.3 1389.5,1154.9 1414.7,1169.4 1440.8,1182.4 1466.9,1195.3 1493.2,1207.8 1519.5,1220.3 1545.8,1232.8 1550.9,1229.8 1524.9,1217.5 1499.0,1205.2 1473.1,1192.9 1447.3,1180.3 1421.5,1167.7 1396.7,1153.3 1372.4,1138.0 1348.3,1122.4 1324.2,1106.9 1300.1,1091.2 1276.3,1075.3 1253.1,1058.5 1230.1,1041.6 1207.2,1024.5 1184.3,1007.4 1161.4,990.2" fill="#9ee400" stroke="#9ee400"/>
<polygon points="1161.4,990.2 1184.3,1007.4 1207.2,1024.5 1230.1,1041.6 1253.1,1058.5 1276.3,1075.3 1300.1,1091.2 1324.2,1106.9 1348.3,1122.4 1372.4,1138.0 1396.7,1153.3 1421.5,1167.7 1447.3,1180.3 1473.1,1192.9 1499.0,1205.2 1524.9,1217.5 1550.9,1229.8 1555.9,1226.8 1530.4,1214.7 1504.8,1202.6 1479.3,1190.4 1453.8,1178.2 1428.3,1165.9 1403.8,1151.8 1380.0,1136.6 1356.2,1121.3 1332.4,1106.0 1308.7,1090.6 1285.2,1074.9 1262.0,1058.7 1238.9,1042.5 1216.0,1026.1 1193.1,1009.6 1170.2,993.1" fill="#afe600" stroke="#afe600"/>
<polygon points="1170.2,993.1 1193.1,1009.6 1216.0,1026.1 1238.9,1042.5 1262.0,1058.7 1285.2,1074.9 1308.7,1090.6 1332.4,1106.0 1356.2,1121.3 1380.0,1136.6 1403.8,1151.8 1428.3,1165.9 1453.8,1178.2 1479.3,1190.4 1504.8,1202.6 1530.4,1214.7 1555.9,1226.8 1561.0,1223.8 1535.8,1211.9 1510.6,1199.9 1485.4,1188.0 1460.3,1176.1 1435.1,1164.2 1411.0,1150.3 1387.5,1135.2 1364.1,1120.2 1340.6,1105.2 1317.2,1090.0 1294.1,1074.5 1270.9,1059.0 1247.8,1043.5 1224.9,1027.6 1201.9,1011.8 1179.0,996.0" fill="#c0e700" stroke="#c0e700"/>
<polygon points="1179.0,996.0 1201.9,1011.8 1224.9,1027.6 1247.8,1043.5 1270.9,1059.0 1294.1,1074.5 1317.2,1090.0 1340.6,1105.2 1364.1,1120.2 1387.5,1135.2 1411.0,1150.3 1435.1,1164.2 1460.3,1176.1 1485.4,1188.0 1510.6,1199.9 1535.8,1211.9 1561.0,1223.8 1565.2,1221.2 1540.6,1209.6 1516.0,1197.9 1491.4,1186.3 1466.8,1174.6 1442.2,1162.9 1418.6,1149.4 1395.6,1134.9 1372.6,1120.3 1349.6,1105.7 1326.7,1091.0 1304.0,1075.9 1281.3,1060.8 1258.7,1045.7 1236.2,1030.3 1213.6,1015.1 1191.1,999.9" fill="#cce800" stroke="#cce800"/>
<polygon points="1191.1,999.9 1213.6,1015.1 1236.2,1030.3 1258.7,1045.7 1281.3,1060.8 1304.0,1075.9 1326.7,1091.0 1349.6,1105.7 1372.6,1120.3 1395.6,1134.9 1418.6,1149.4 1442.2,1162.9 1466.8,1174.6 1491.4,1186.3 1516.0,1197.9 1540.6,1209.6 1565.2,1221.2 1569.5,1218.7 1545.4,1207.3 1521.4,1195.9 1497.3,1184.5 1473.3,1173.1 1449.2,1161.7 1426.2,1148.6 1403.6,1134.5 1381.1,1120.4 1358.6,1106.2 1336.1,1091.9 1313.9,1077.2 1291.7,1062.6 1269.5,1048.0 1247.5,1033.1 1225.3,1018.4 1203.1,1003.9" fill="#d3e700" stroke="#d3e700"/>
<polygon points="1203.1,1003.9 1225.3,1018.4 1247.5,1033.1 1269.5,1048.0 1291.7,1062.6 1313.9,1077.2 1336.1,1091.9 1358.6,1106.2 1381.1,1120.4 1403.6,1134.5 1426.2,1148.6 1449.2,1161.7 1473.3,1173.1 1497.3,1184.5 1521.4,1195.9 1545.4,1207.3 1569.5,1218.7 1573.8,1216.2 1550.3,1205.0 1526.8,1193.9 1503.3,1182.8 1479.8,1171.6 1456.3,1160.5 1433.7,1147.8 1411.7,1134.1 1389.6,1120.5 1367.5,1106.7 1345.6,1092.8 1323.8,1078.6 1302.1,1064.4 1280.3,1050.2 1258.8,1035.8 1237.0,1021.7 1215.2,1007.8" fill="#dae600" stroke="#dae600"/>
<polygon points="1215.2,1007.8 1237.0,1021.7 1258.8,1035.8 1280.3,1050.2 1302.1,1064.4 1323.8,1078.6 1345.6,1092.8 1367.5,1106.7 1389.6,1120.5 1411.7,1134.1 1433.7,1147.8 1456.3,1160.5 1479.8,1171.6 1503.3,1182.8 1526.8,1193.9 1550.3,1205.0 1573.8,1216.2 1578.0,1213.6 1555.1,1202.7 1532.2,1191.9 1509.2,1181.0 1486.3,1170.1 1463.4,1159.3 1441.3,1146.9 1419.7,1133.7 1398.1,1120.5 1376.5,1107.2 1355.0,1093.7 1333.8,1080.0 1312.5,1066.2 1291.2,1052.4 1270.1,1038.5 1248.7,1025.0 1227.2,1011.8" fill="#e2e500" stroke="#e2e500"/>
<polygon points="1227.2,1011.8 1248.7,1025.0 1270.1,1038.5 1291.2,1052.4 1312.5,1066.2 1333.8,1080.0 1355.0,1093.7 1376.5,1107.2 1398.1,1120.5 1419.7,1133.7 1441.3,1146.9 1463.4,1159.3 1486.3,1170.1 1509.2,1181.0 1532.2,1191.9 1555.1,1202.7 1578.0,1213.6 1582.2,1211.1 1559.9,1200.5 1537.5,1189.9 1515.2,1179.3 1492.8,1168.6 1470.5,1158.0 1448.9,1146.1 1427.7,1133.3 1406.6,1120.6 1385.5,1107.7 1364.5,1094.6 1343.7,1081.3 1322.9,1068.0 1302.0,1054.7 1281.4,1041.2 1260.4,1028.3 1239.3,1015.7" fill="#e9e400" stroke="#e9e400"/>
<polygon points="1239.3,1015.7 1260.4,1028.3 1281.4,1041.2 1302.0,1054.7 1322.9,1068.0 1343.7,1081.3 1364.5,1094.6 1385.5,1107.7 1406.6,1120.6 1427.7,1133.3 1448.9,1146.1 1470.5,1158.0 1492.8,1168.6 1515.2,1179.3 1537.5,1189.9 1559.9,1200.5 1582.2,1211.1 1586.5,1208.5 1564.7,1198.2 1542.9,1187.8 1521.1,1177.5 1499.4,1167.2 1477.6,1156.8 1456.5,1145.2 1435.8,1133.0 1415.1,1120.7 1394.5,1108.2 1374.0,1095.6 1353.6,1082.7 1333.2,1069.8 1312.9,1056.9 1292.6,1043.9 1272.1,1031.6 1251.4,1019.6" fill="#ede000" stroke="#ede000"/>
<polygon points="1251.4,1019.6 1272.1,1031.6 1292.6,1043.9 1312.9,1056.9 1333.2,1069.8 1353.6,1082.7 1374.0,1095.6 1394.5,1108.2 1415.1,1120.7 1435.8,1133.0 1456.5,1145.2 1477.6,1156.8 1499.4,1167.2 1521.1,1177.5 1542.9,1187.8 1564.7,1198.2 1586.5,1208.5 1590.8,1206.0 1569.5,1195.9 1548.3,1185.8 1527.1,1175.7 1505.9,1165.7 1484.7,1155.6 1464.1,1144.4 1443.8,1132.6 1423.6,1120.8 1403.5,1108.7 1383.4,1096.5 1363.5,1084.1 1343.6,1071.6 1323.7,1059.2 1303.9,1046.6 1283.8,1034.9 1263.4,1023.6" fill="#efda00" stroke="#efda00"/>
<polygon points="1263.4,1023.6 1283.8,1034.9 1303.9,1046.6 1323.7,1059.2 1343.6,1071.6 1363.5,1084.1 1383.4,1096.5 1403.5,1108.7 1423.6,1120.8 1443.8,1132.6 1464.1,1144.4 1484.7,1155.6 1505.9,1165.7 1527.1,1175.7 1548.3,1185.8 1569.5,1195.9 1590.8,1206.0 1595.0,1203.4 1574.3,1193.6 1553.7,1183.8 1533.0,1174.0 1512.4,1164.2 1491.7,1154.4 1471.6,1143.6 1451.9,1132.2 1432.1,1120.9 1412.4,1109.2 1392.9,1097.4 1373.4,1085.4 1354.0,1073.4 1334.6,1061.4 1315.2,1049.3 1295.5,1038.2 1275.5,1027.5" fill="#f1d400" stroke="#f1d400"/>
<polygon points="1275.5,1027.5 1295.5,1038.2 1315.2,1049.3 1334.6,1061.4 1354.0,1073.4 1373.4,1085.4 1392.9,1097.4 1412.4,1109.2 1432.1,1120.9 1451.9,1132.2 1471.6,1143.6 1491.7,1154.4 1512.4,1164.2 1533.0,1174.0 1553.7,1183.8 1574.3,1193.6 1595.0,1203.4 1599.2,1200.9 1579.2,1191.3 1559.1,1181.8 1539.0,1172.2 1518.9,1162.7 1498.8,1153.2 1479.2,1142.7 1459.9,1131.8 1440.6,1120.9 1421.4,1109.7 1402.3,1098.3 1383.4,1086.8 1364.4,1075.2 1345.4,1063.7 1326.5,1052.0 1307.1,1041.5 1287.6,1031.4" fill="#f4ce00" stroke="#f4ce00"/>
<polygon points="1287.6,1031.4 1307.1,1041.5 1326.5,1052.0 1345.4,1063.7 1364.4,1075.2 1383.4,1086.8 1402.3,1098.3 1421.4,1109.7 1440.6,1120.9 1459.9,1131.8 1479.2,1142.7 1498.8,1153.2 1518.9,1162.7 1539.0,1172.2 1559.1,1181.8 1579.2,1191.3 1599.2,1200.9 1603.5,1198.3 1584.0,1189.0 1564.5,1179.8 1544.9,1170.5 1525.4,1161.2 1505.9,1151.9 1486.8,1141.9 1467.9,1131.5 1449.1,1121.0 1430.4,1110.2 1411.8,1099.2 1393.3,1088.1 1374.8,1077.0 1356.3,1065.9 1337.8,1054.7 1318.8,1044.8 1299.6,1035.4" fill="#f6c800" stroke="#f6c800"/>
<polygon points="1299.6,1035.4 1318.8,1044.8 1337.8,1054.7 1356.3,1065.9 1374.8,1077.0 1393.3,1088.1 1411.8,1099.2 1430.4,1110.2 1449.1,1121.0 1467.9,1131.5 1486.8,1141.9 1505.9,1151.9 1525.4,1161.2 1544.9,1170.5 1564.5,1179.8 1584.0,1189.0 1603.5,1198.3 1607.8,1195.8 1588.8,1186.8 1569.8,1177.7 1550.9,1168.7 1531.9,1159.7 1513.0,1150.7 1494.4,1141.1 1476.0,1131.1 1457.6,1121.1 1439.4,1110.7 1421.2,1100.2 1403.2,1089.5 1385.2,1078.9 1367.1,1068.2 1349.1,1057.4 1330.5,1048.1 1311.7,1039.3" fill="#f8c200" stroke="#f8c200"/>
<polygon points="1311.7,1039.3 1330.5,1048.1 1349.1,1057.4 1367.1,1068.2 1385.2,1078.9 1403.2,1089.5 1421.2,1100.2 1439.4,1110.7 1457.6,1121.1 1476.0,1131.1 1494.4,1141.1 1513.0,1150.7 1531.9,1159.7 1550.9,1168.7 1569.8,1177.7 1588.8,1186.8 1607.8,1195.8 1612.0,1193.2 1593.6,1184.5 1575.2,1175.7 1556.8,1167.0 1538.5,1158.2 1520.1,1149.5 1502.0,1140.2 1484.0,1130.7 1466.1,1121.2 1448.3,1111.2 1430.7,1101.1 1413.1,1090.9 1395.5,1080.7 1378.0,1070.4 1360.4,1060.2 1342.2,1051.4 1323.8,1043.2" fill="#fabc00" stroke="#fabc00"/>
<polygon points="1323.8,1043.2 1342.2,1051.4 1360.4,1060.2 1378.0,1070.4 1395.5,1080.7 1413.1,1090.9 1430.7,1101.1 1448.3,1111.2 1466.1,1121.2 1484.0,1130.7 1502.0,1140.2 1520.1,1149.5 1538.5,1158.2 1556.8,1167.0 1575.2,1175.7 1593.6,1184.5 1612.0,1193.2 1616.2,1190.7 1598.4,1182.2 1580.6,1173.7 1562.8,1165.2 1545.0,1156.7 1527.2,1148.3 1509.6,1139.4 1492.1,1130.3 1474.6,1121.3 1457.3,1111.7 1440.2,1102.0 1423.0,1092.2 1405.9,1082.5 1388.8,1072.7 1371.7,1062.9 1353.9,1054.7 1335.8,1047.2" fill="#fbb300" stroke="#fbb300"/>
<polygon points="1335.8,1047.2 1353.9,1054.7 1371.7,1062.9 1388.8,1072.7 1405.9,1082.5 1423.0,1092.2 1440.2,1102.0 1457.3,1111.7 1474.6,1121.3 1492.1,1130.3 1509.6,1139.4 1527.2,1148.3 1545.0,1156.7 1562.8,1165.2 1580.6,1173.7 1598.4,1182.2 1616.2,1190.7 1620.5,1188.1 1603.2,1179.9 1586.0,1171.7 1568.7,1163.5 1551.5,1155.3 1534.2,1147.0 1517.1,1138.6 1500.1,1130.0 1483.1,1121.3 1466.3,1112.2 1449.6,1102.9 1433.0,1093.6 1416.3,1084.3 1399.6,1074.9 1383.0,1065.6 1365.6,1058.0 1347.9,1051.1" fill="#fcab00" stroke="#fcab00"/>
<polygon points="1347.9,1051.1 1365.6,1058.0 1383.0,1065.6 1399.6,1074.9 1416.3,1084.3 1433.0,1093.6 1449.6,1102.9 1466.3,1112.2 1483.1,1121.3 1500.1,1130.0 1517.1,1138.6 1534.2,1147.0 1551.5,1155.3 1568.7,1163.5 1586.0,1171.7 1603.2,1179.9 1620.5,1188.1 1624.8,1185.6 1608.1,1177.6 1591.4,1169.7 1574.7,1161.7 1558.0,1153.8 1541.3,1145.8 1524.7,1137.7 1508.1,1129.6 1491.6,1121.4 1475.3,1112.7 1459.1,1103.8 1442.9,1095.0 1426.7,1086.1 1410.5,1077.2 1394.3,1068.3 1377.3,1061.3 1359.9,1055.1" fill="#fda200" stroke="#fda200"/>
<polygon points="1359.9,1055.1 1377.3,1061.3 1394.3,1068.3 1410.5,1077.2 1426.7,1086.1 1442.9,1095.0 1459.1,1103.8 1475.3,1112.7 1491.6,1121.4 1508.1,1129.6 1524.7,1137.7 1541.3,1145.8 1558.0,1153.8 1574.7,1161.7 1591.4,1169.7 1608.1,1177.6 1624.8,1185.6 1629.0,1183.0 1612.9,1175.4 1596.8,1167.7 1580.6,1160.0 1564.5,1152.3 1548.4,1144.6 1532.3,1136.9 1516.2,1129.2 1500.1,1121.5 1484.3,1113.2 1468.5,1104.8 1452.8,1096.3 1437.1,1087.9 1421.3,1079.4 1405.6,1071.0 1389.0,1064.6 1372.0,1059.0" fill="#fe9a00" stroke="#fe9a00"/>
<polygon points="1372.0,1059.0 1389.0,1064.6 1405.6,1071.0 1421.3,1079.4 1437.1,1087.9 1452.8,1096.3 1468.5,1104.8 1484.3,1113.2 1500.1,1121.5 1516.2,1129.2 1532.3,1136.9 1548.4,1144.6 1564.5,1152.3 1580.6,1160.0 1596.8,1167.7 1612.9,1175.4 1629.0,1183.0 1631.7,1181.4 1616.6,1174.2 1601.5,1167.0 1586.4,1159.8 1571.2,1152.6 1556.1,1145.4 1541.0,1138.1 1525.9,1130.9 1510.8,1123.7 1496.0,1115.9 1481.2,1108.0 1466.5,1100.1 1451.8,1092.2 1437.0,1084.3 1422.3,1076.4 1406.7,1070.4 1390.8,1065.1" fill="#ff8b00" stroke="#ff8b00"/>
<polygon points="1390.8,1065.1 1406.7,1070.4 1422.3,1076.4 1437.0,1084.3 1451.8,1092.2 1466.5,1100.1 1481.2,1108.0 1496.0,1115.9 1510.8,1123.7 1525.9,1130.9 1541.0,1138.1 1556.1,1145.4 1571.2,1152.6 1586.4,1159.8 1601.5,1167.0 1616.6,1174.2 1631.7,1181.4 1634.4,1179.8 1620.3,1173.1 1606.2,1166.3 1592.1,1159.6 1578.0,1152.9 1563.9,1146.1 1549.8,1139.4 1535.7,1132.7 1521.6,1125.9 1507.7,1118.7 1494.0,1111.3 1480.2,1103.9 1466.4,1096.5 1452.7,1089.1 1438.9,1081.7 1424.3,1076.2 1409.5,1071.2" fill="#ff7500" stroke="#ff7500"/>
<polygon points="1409.5,1071.2 1424.3,1076.2 1438.9,1081.7 1452.7,1089.1 1466.4,1096.5 1480.2,1103.9 1494.0,1111.3 1507.7,1118.7 1521.6,1125.9 1535.7,1132.7 1549.8,1139.4 1563.9,1146.1 1578.0,1152.9 1592.1,1159.6 1606.2,1166.3 1620.3,1173.1 1634.4,1179.8 1637.1,1178.2 1624.0,1171.9 1610.9,1165.7 1597.8,1159.4 1584.7,1153.2 1571.6,1146.9 1558.5,1140.7 1545.4,1134.4 1532.3,1128.2 1519.5,1121.4 1506.7,1114.6 1493.9,1107.7 1481.1,1100.8 1468.3,1094.0 1455.6,1087.1 1442.0,1081.9 1428.2,1077.4" fill="#ff5f00" stroke="#ff5f00"/>
<polygon points="1428.2,1077.4 1442.0,1081.9 1455.6,1087.1 1468.3,1094.0 1481.1,1100.8 1493.9,1107.7 1506.7,1114.6 1519.5,1121.4 1532.3,1128.2 1545.4,1134.4 1558.5,1140.7 1571.6,1146.9 1584.7,1153.2 1597.8,1159.4 1610.9,1165.7 1624.0,1171.9 1637.1,1178.2 1639.8,1176.5 1627.7,1170.8 1615.6,1165.0 1603.5,1159.2 1591.4,1153.5 1579.3,1147.7 1567.2,1141.9 1555.1,1136.1 1543.0,1130.4 1531.2,1124.2 1519.4,1117.8 1507.6,1111.5 1495.8,1105.2 1484.0,1098.8 1472.2,1092.5 1459.7,1087.7 1447.0,1083.5" fill="#ff4900" stroke="#ff4900"/>
<polygon points="1447.0,1083.5 1459.7,1087.7 1472.2,1092.5 1484.0,1098.8 1495.8,1105.2 1507.6,1111.5 1519.4,1117.8 1531.2,1124.2 1543.0,1130.4 1555.1,1136.1 1567.2,1141.9 1579.3,1147.7 1591.4,1153.5 1603.5,1159.2 1615.6,1165.0 1627.7,1170.8 1639.8,1176.5 1642.4,1174.9 1631.4,1169.6 1620.3,1164.3 1609.2,1159.0 1598.1,1153.8 1587.0,1148.5 1576.0,1143.2 1564.9,1137.9 1553.8,1132.6 1542.9,1126.9 1532.1,1121.1 1521.3,1115.3 1510.5,1109.5 1499.7,1103.7 1488.9,1097.9 1477.4,1093.5 1465.8,1089.6" fill="#ff3400" stroke="#ff3400"/>
<polygon points="1465.8,1089.6 1477.4,1093.5 1488.9,1097.9 1499.7,1103.7 1510.5,1109.5 1521.3,1115.3 1532.1,1121.1 1542.9,1126.9 1553.8,1132.6 1564.9,1137.9 1576.0,1143.2 1587.0,1148.5 1598.1,1153.8 1609.2,1159.0 1620.3,1164.3 1631.4,1169.6 1642.4,1174.9 1645.1,1173.3 1635.1,1168.5 1625.0,1163.7 1614.9,1158.9 1604.8,1154.0 1594.8,1149.2 1584.7,1144.4 1574.6,1139.6 1564.5,1134.8 1554.7,1129.6 1544.8,1124.4 1535.0,1119.1 1525.2,1113.8 1515.3,1108.5 1505.5,1103.2 1495.1,1099.3 1484.5,1095.8" fill="#ff1e00" stroke="#ff1e00"/>
<polygon points="1484.5,1095.8 1495.1,1099.3 1505.5,1103.2 1515.3,1108.5 1525.2,1113.8 1535.0,1119.1 1544.8,1124.4 1554.7,1129.6 1564.5,1134.8 1574.6,1139.6 1584.7,1144.4 1594.8,1149.2 1604.8,1154.0 1614.9,1158.9 1625.0,1163.7 1635.1,1168.5 1645.1,1173.3 1647.8,1171.6 1638.7,1167.3 1629.7,1163.0 1620.6,1158.7 1611.5,1154.3 1602.5,1150.0 1593.4,1145.7 1584.4,1141.4 1575.3,1137.0 1566.4,1132.4 1557.5,1127.6 1548.7,1122.9 1539.9,1118.1 1531.0,1113.4 1522.2,1108.6 1512.8,1105.0 1503.2,1101.9" fill="#ff0a00" stroke="#ff0a00"/>
<polygon points="1503.2,1101.9 1512.8,1105.0 1522.2,1108.6 1531.0,1113.4 1539.9,1118.1 1548.7,1122.9 1557.5,1127.6 1566.4,1132.4 1575.3,1137.0 1584.4,1141.4 1593.4,1145.7 1602.5,1150.0 1611.5,1154.3 1620.6,1158.7 1629.7,1163.0 1638.7,1167.3 1647.8,1171.6 1650.5,1170.0 1642.4,1166.2 1634.4,1162.3 1626.3,1158.5 1618.3,1154.6 1610.2,1150.8 1602.1,1146.9 1594.1,1143.1 1586.0,1139.3 1578.1,1135.1 1570.3,1130.9 1562.4,1126.7 1554.5,1122.4 1546.7,1118.2 1538.8,1114.0 1530.5,1110.8 1522.0,1108.0" fill="#ff0900" stroke="#ff0900"/>
<polygon points="1522.0,1108.0 1530.5,1110.8 1538.8,1114.0 1546.7,1118.2 1554.5,1122.4 1562.4,1126.7 1570.3,1130.9 1578.1,1135.1 1586.0,1139.3 1594.1,1143.1 1602.1,1146.9 1610.2,1150.8 1618.3,1154.6 1626.3,1158.5 1634.4,1162.3 1642.4,1166.2 1650.5,1170.0 1653.2,1168.4 1646.1,1165.0 1639.1,1161.7 1632.0,1158.3 1625.0,1154.9 1617.9,1151.6 1610.9,1148.2 1603.8,1144.8 1596.8,1141.5 1589.9,1137.8 1583.0,1134.1 1576.1,1130.5 1569.2,1126.8 1562.3,1123.1 1555.5,1119.4 1548.2,1116.6 1540.8,1114.1" fill="#ff0800" stroke="#ff0800"/>
<polygon points="1540.8,1114.1 1548.2,1116.6 1555.5,1119.4 1562.3,1123.1 1569.2,1126.8 1576.1,1130.5 1583.0,1134.1 1589.9,1137.8 1596.8,1141.5 1603.8,1144.8 1610.9,1148.2 1617.9,1151.6 1625.0,1154.9 1632.0,1158.3 1639.1,1161.7 1646.1,1165.0 1653.2,1168.4 1655.9,1166.8 1649.8,1163.9 1643.8,1161.0 1637.7,1158.1 1631.7,1155.2 1625.7,1152.3 1619.6,1149.5 1613.6,1146.6 1607.5,1143.7 1601.6,1140.6 1595.7,1137.4 1589.8,1134.2 1583.9,1131.1 1578.0,1127.9 1572.1,1124.7 1565.9,1122.4 1559.5,1120.2" fill="#ff0700" stroke="#ff0700"/>
<polygon points="1559.5,1120.2 1565.9,1122.4 1572.1,1124.7 1578.0,1127.9 1583.9,1131.1 1589.8,1134.2 1595.7,1137.4 1601.6,1140.6 1607.5,1143.7 1613.6,1146.6 1619.6,1149.5 1625.7,1152.3 1631.7,1155.2 1637.7,1158.1 1643.8,1161.0 1649.8,1163.9 1655.9,1166.8 1658.6,1165.1 1653.5,1162.7 1648.5,1160.3 1643.5,1157.9 1638.4,1155.5 1633.4,1153.1 1628.3,1150.7 1623.3,1148.3 1618.3,1145.9 1613.3,1143.3 1608.4,1140.7 1603.5,1138.0 1598.6,1135.4 1593.7,1132.8 1588.8,1130.1 1583.6,1128.1 1578.2,1126.4" fill="#ff0600" stroke="#ff0600"/>
<polygon points="1578.2,1126.4 1583.6,1128.1 1588.8,1130.1 1593.7,1132.8 1598.6,1135.4 1603.5,1138.0 1608.4,1140.7 1613.3,1143.3 1618.3,1145.9 1623.3,1148.3 1628.3,1150.7 1633.4,1153.1 1638.4,1155.5 1643.5,1157.9 1648.5,1160.3 1653.5,1162.7 1658.6,1165.1 1661.2,1163.5 1657.2,1161.6 1653.2,1159.7 1649.2,1157.7 1645.1,1155.8 1641.1,1153.9 1637.1,1152.0 1633.0,1150.0 1629.0,1148.1 1625.1,1146.1 1621.1,1143.9 1617.2,1141.8 1613.3,1139.7 1609.3,1137.6 1605.4,1135.5 1601.2,1133.9 1597.0,1132.5" fill="#ff0500" stroke="#ff0500"/>
<polygon points="1597.0,1132.5 1601.2,1133.9 1605.4,1135.5 1609.3,1137.6 1613.3,1139.7 1617.2,1141.8 1621.1,1143.9 1625.1,1146.1 1629.0,1148.1 1633.0,1150.0 1637.1,1152.0 1641.1,1153.9 1645.1,1155.8 1649.2,1157.7 1653.2,1159.7 1657.2,1161.6 1661.2,1163.5 1663.9,1161.9 1660.9,1160.4 1657.9,1159.0 1654.9,1157.6 1651.8,1156.1 1648.8,1154.7 1645.8,1153.2 1642.8,1151.8 1639.8,1150.3 1636.8,1148.8 1633.8,1147.2 1630.9,1145.6 1628.0,1144.0 1625.0,1142.5 1622.1,1140.9 1618.9,1139.7 1615.8,1138.6" fill="#ff0400" stroke="#ff0400"/>
<polygon points="1615.8,1138.6 1618.9,1139.7 1622.1,1140.9 1625.0,1142.5 1628.0,1144.0 1630.9,1145.6 1633.8,1147.2 1636.8,1148.8 1639.8,1150.3 1642.8,1151.8 1645.8,1153.2 1648.8,1154.7 1651.8,1156.1 1654.9,1157.6 1657.9,1159.0 1660.9,1160.4 1663.9,1161.9 1666.6,1160.3 1664.6,1159.3 1662.6,1158.3 1660.6,1157.4 1658.6,1156.4 1656.6,1155.4 1654.5,1154.5 1652.5,1153.5 1650.5,1152.6 1648.5,1151.5 1646.6,1150.5 1644.6,1149.4 1642.6,1148.4 1640.7,1147.3 1638.7,1146.2 1636.6,1145.5 1634.5,1144.8" fill="#ff0300" stroke="#ff0300"/>
<polygon points="1634.5,1144.8 1636.6,1145.5 1638.7,1146.2 1640.7,1147.3 1642.6,1148.4 1644.6,1149.4 1646.6,1150.5 1648.5,1151.5 1650.5,1152.6 1652.5,1153.5 1654.5,1154.5 1656.6,1155.4 1658.6,1156.4 1660.6,1157.4 1662.6,1158.3 1664.6,1159.3 1666.6,1160.3 1669.3,1158.6 1668.3,1158.1 1667.3,1157.7 1666.3,1157.2 1665.3,1156.7 1664.3,1156.2 1663.3,1155.7 1662.3,1155.3 1661.3,1154.8 1660.3,1154.3 1659.3,1153.7 1658.3,1153.2 1657.3,1152.7 1656.3,1152.2 1655.4,1151.6 1654.3,1151.2 1653.2,1150.9" fill="#ff0200" stroke="#ff0200"/>
<polygon points="1653.2,1150.9 1654.3,1151.2 1655.4,1151.6 1656.3,1152.2 1657.3,1152.7 1658.3,1153.2 1659.3,1153.7 1660.3,1154.3 1661.3,1154.8 1662.3,1155.3 1663.3,1155.7 1664.3,1156.2 1665.3,1156.7 1666.3,1157.2 1667.3,1157.7 1668.3,1158.1 1669.3,1158.6 1672.0,1157.0 1672.0,1157.0 1672.0,1157.0 1672.0,1157.0 1672.0,1157.0 1672.0,1157.0 1672.0,1157.0 1672.0,1157.0 1672.0,1157.0 1672.0,1157.0 1672.0,1157.0 1672.0,1157.0 1672.0,1157.0 1672.0,1157.0 1672.0,1157.0 1672.0,1157.0 1672.0,1157.0" fill="#ff0100" stroke="#ff0100"/>
</g>
<g clip-path="url(#cf)"><use href="#fl" filter="url(#bl)"/></g>
<g fill="none" stroke="#101010" stroke-opacity="0.85" stroke-width="1.1" stroke-dasharray="5 2 1.5 2">
<path d="M815.0,1020.0 L823.0,1056.5 L831.0,1093.0 L839.0,1129.5 L847.0,1165.9 L861.8,1199.8 L880.6,1232.1 L899.4,1264.4 L921.0,1294.5 L947.2,1321.2 L977.8,1342.5 L1009.7,1361.9 L1043.1,1378.7 L1076.6,1395.4 L1110.4,1411.4 L1144.2,1427.5 L1178.0,1443.5"/>
<path d="M941.0,975.0 L962.8,1003.1 L984.6,1031.2 L1006.4,1059.3 L1028.2,1087.4 L1050.0,1115.5 L1071.8,1143.6 L1093.7,1171.7 L1120.8,1194.2 L1150.1,1214.3 L1179.4,1234.5 L1209.1,1254.1 L1240.0,1271.7 L1270.9,1289.3 L1302.6,1305.5 L1334.3,1321.6 L1366.0,1337.7"/>
<path d="M1038.0,950.0 L1060.6,976.1 L1083.3,1002.3 L1105.9,1028.4 L1128.5,1054.6 L1151.5,1080.4 L1180.3,1099.5 L1209.1,1118.7 L1237.9,1137.9 L1266.8,1157.0 L1296.3,1175.0 L1326.3,1192.2 L1356.4,1209.5 L1386.4,1226.7 L1417.4,1242.0 L1448.7,1256.8 L1480.0,1271.7"/>
<path d="M1179.0,996.0 L1201.9,1011.8 L1224.9,1027.6 L1247.8,1043.5 L1270.9,1059.0 L1294.1,1074.5 L1317.2,1090.0 L1340.6,1105.2 L1364.1,1120.2 L1387.5,1135.2 L1411.0,1150.3 L1435.1,1164.2 L1460.3,1176.1 L1485.4,1188.0 L1510.6,1199.9 L1535.8,1211.9 L1561.0,1223.8"/>
<path d="M1372.0,1059.0 L1389.0,1064.6 L1405.6,1071.0 L1421.3,1079.4 L1437.1,1087.9 L1452.8,1096.3 L1468.5,1104.8 L1484.3,1113.2 L1500.1,1121.5 L1516.2,1129.2 L1532.3,1136.9 L1548.4,1144.6 L1564.5,1152.3 L1580.6,1160.0 L1596.8,1167.7 L1612.9,1175.4 L1629.0,1183.0"/>
</g>
<g stroke="#8a8a8a" stroke-width="1" stroke-opacity="0.7"><line x1="1163.8" y1="1458.5" x2="1168.8" y2="1462.5"/><line x1="1234.9" y1="1417.7" x2="1239.9" y2="1421.7"/><line x1="1301.3" y1="1378.5" x2="1306.3" y2="1382.5"/><line x1="1364.8" y1="1339.0" x2="1369.8" y2="1343.0"/><line x1="1425.2" y1="1306.0" x2="1430.2" y2="1310.0"/><line x1="1484.2" y1="1272.7" x2="1489.2" y2="1276.7"/><line x1="1538.6" y1="1241.0" x2="1543.6" y2="1245.0"/><line x1="1593.0" y1="1210.7" x2="1598.0" y2="1214.7"/><line x1="456.6" y1="1202.0" x2="451.6" y2="1206.0"/><line x1="532.2" y1="1239.0" x2="527.2" y2="1243.0"/><line x1="612.9" y1="1278.0" x2="607.9" y2="1282.0"/><line x1="697.0" y1="1318.0" x2="692.0" y2="1322.0"/><line x1="780.9" y1="1358.5" x2="775.9" y2="1362.5"/><line x1="876.6" y1="1403.0" x2="871.6" y2="1407.0"/><line x1="974.0" y1="1450.0" x2="969.0" y2="1454.0"/></g>
<g id="sf" stroke-width="1.2" stroke-linejoin="round">
<polygon points="407.0,1168.0 407.0,1168.0 466.2,1147.8 465.9,1146.0" fill="#0071a2" stroke="#0071a2"/>
<polygon points="407.0,1168.0 407.0,1168.0 466.6,1149.6 466.2,1147.8" fill="#0072a2" stroke="#0072a2"/>
<polygon points="407.0,1168.0 407.0,1168.0 467.2,1151.4 466.6,1149.6" fill="#0073a3" stroke="#0073a3"/>
<polygon points="407.0,1168.0 407.0,1168.0 467.9,1153.1 467.2,1151.4" fill="#0073a3" stroke="#0073a3"/>
<polygon points="407.0,1168.0 407.0,1168.0 468.8,1154.8 467.9,1153.1" fill="#0074a4" stroke="#0074a4"/>
<polygon points="407.0,1168.0 407.0,1168.0 469.9,1156.5 468.8,1154.8" fill="#0074a4" stroke="#0074a4"/>
<polygon points="407.0,1168.0 407.0,1168.0 471.1,1158.1 469.9,1156.5" fill="#0075a4" stroke="#0075a4"/>
<polygon points="407.0,1168.0 407.0,1168.0 472.5,1159.7 471.1,1158.1" fill="#0076a5" stroke="#0076a5"/>
<polygon points="407.0,1168.0 407.0,1168.0 474.0,1161.1 472.5,1159.7" fill="#0076a5" stroke="#0076a5"/>
<polygon points="407.0,1168.0 407.0,1168.0 475.6,1162.5 474.0,1161.1" fill="#0077a6" stroke="#0077a6"/>
<polygon points="407.0,1168.0 407.0,1168.0 477.4,1163.8 475.6,1162.5" fill="#0078a6" stroke="#0078a6"/>
<polygon points="407.0,1168.0 407.0,1168.0 479.2,1165.0 477.4,1163.8" fill="#0078a6" stroke="#0078a6"/>
<polygon points="407.0,1168.0 407.0,1168.0 481.2,1166.1 479.2,1165.0" fill="#0079a7" stroke="#0079a7"/>
<polygon points="407.0,1168.0 407.0,1168.0 483.3,1167.2 481.2,1166.1" fill="#007aa7" stroke="#007aa7"/>
<polygon points="407.0,1168.0 407.0,1168.0 485.5,1168.1 483.3,1167.2" fill="#007aa7" stroke="#007aa7"/>
<polygon points="407.0,1168.0 407.0,1168.0 487.7,1168.9 485.5,1168.1" fill="#007aa7" stroke="#007aa7"/>
<polygon points="407.0,1168.0 407.0,1168.0 490.0,1169.6 487.7,1168.9" fill="#007aa8" stroke="#007aa8"/>
<polygon points="407.0,1168.0 407.0,1168.0 492.4,1170.2 490.0,1169.6" fill="#007aa8" stroke="#007aa8"/>
<polygon points="407.0,1168.0 407.0,1168.0 494.9,1170.7 492.4,1170.2" fill="#007aa8" stroke="#007aa8"/>
<polygon points="407.0,1168.0 407.0,1168.0 497.4,1171.1 494.9,1170.7" fill="#007aa8" stroke="#007aa8"/>
<polygon points="407.0,1168.0 407.0,1168.0 499.9,1171.5 497.4,1171.1" fill="#007aa8" stroke="#007aa8"/>
<polygon points="407.0,1168.0 407.0,1168.0 502.5,1171.8 499.9,1171.5" fill="#007aa8" stroke="#007aa8"/>
<polygon points="407.0,1168.0 407.0,1168.0 505.1,1172.0 502.5,1171.8" fill="#007aa8" stroke="#007aa8"/>
<polygon points="407.0,1168.0 407.0,1168.0 507.7,1172.1 505.1,1172.0" fill="#007aa8" stroke="#007aa8"/>
<polygon points="407.0,1168.0 407.0,1168.0 510.3,1172.2 507.7,1172.1" fill="#007aa8" stroke="#007aa8"/>
<polygon points="407.0,1168.0 407.0,1168.0 513.0,1172.3 510.3,1172.2" fill="#007ba8" stroke="#007ba8"/>
<polygon points="407.0,1168.0 407.0,1168.0 515.7,1172.3 513.0,1172.3" fill="#007ba8" stroke="#007ba8"/>
<polygon points="407.0,1168.0 407.0,1168.0 518.3,1172.3 515.7,1172.3" fill="#007ba8" stroke="#007ba8"/>
<polygon points="465.9,1146.0 466.2,1147.8 523.5,1123.6 522.9,1119.4" fill="#006e9c" stroke="#006e9c"/>
<polygon points="466.2,1147.8 466.6,1149.6 524.3,1127.9 523.5,1123.6" fill="#00709d" stroke="#00709d"/>
<polygon points="466.6,1149.6 467.2,1151.4 525.5,1132.1 524.3,1127.9" fill="#00729f" stroke="#00729f"/>
<polygon points="467.2,1151.4 467.9,1153.1 527.0,1136.3 525.5,1132.1" fill="#0073a0" stroke="#0073a0"/>
<polygon points="467.9,1153.1 468.8,1154.8 528.9,1140.4 527.0,1136.3" fill="#0075a1" stroke="#0075a1"/>
<polygon points="468.8,1154.8 469.9,1156.5 531.0,1144.3 528.9,1140.4" fill="#0077a2" stroke="#0077a2"/>
<polygon points="469.9,1156.5 471.1,1158.1 533.5,1148.2 531.0,1144.3" fill="#0079a3" stroke="#0079a3"/>
<polygon points="471.1,1158.1 472.5,1159.7 536.2,1151.9 533.5,1148.2" fill="#007ba4" stroke="#007ba4"/>
<polygon points="472.5,1159.7 474.0,1161.1 539.2,1155.5 536.2,1151.9" fill="#007da5" stroke="#007da5"/>
<polygon points="474.0,1161.1 475.6,1162.5 542.5,1159.0 539.2,1155.5" fill="#007fa7" stroke="#007fa7"/>
<polygon points="475.6,1162.5 477.4,1163.8 546.0,1162.2 542.5,1159.0" fill="#0081a8" stroke="#0081a8"/>
<polygon points="477.4,1163.8 479.2,1165.0 549.8,1165.3 546.0,1162.2" fill="#0083a9" stroke="#0083a9"/>
<polygon points="479.2,1165.0 481.2,1166.1 553.8,1168.2 549.8,1165.3" fill="#0085aa" stroke="#0085aa"/>
<polygon points="481.2,1166.1 483.3,1167.2 558.0,1170.8 553.8,1168.2" fill="#0087ab" stroke="#0087ab"/>
<polygon points="483.3,1167.2 485.5,1168.1 562.3,1173.3 558.0,1170.8" fill="#0088ac" stroke="#0088ac"/>
<polygon points="485.5,1168.1 487.7,1168.9 566.9,1175.6 562.3,1173.3" fill="#0088ac" stroke="#0088ac"/>
<polygon points="487.7,1168.9 490.0,1169.6 571.5,1177.6 566.9,1175.6" fill="#0088ad" stroke="#0088ad"/>
<polygon points="490.0,1169.6 492.4,1170.2 576.3,1179.5 571.5,1177.6" fill="#0088ad" stroke="#0088ad"/>
<polygon points="492.4,1170.2 494.9,1170.7 581.3,1181.2 576.3,1179.5" fill="#0088ad" stroke="#0088ad"/>
<polygon points="494.9,1170.7 497.4,1171.1 586.3,1182.7 581.3,1181.2" fill="#0089ad" stroke="#0089ad"/>
<polygon points="497.4,1171.1 499.9,1171.5 591.4,1184.0 586.3,1182.7" fill="#0089ae" stroke="#0089ae"/>
<polygon points="499.9,1171.5 502.5,1171.8 596.5,1185.2 591.4,1184.0" fill="#0089ae" stroke="#0089ae"/>
<polygon points="502.5,1171.8 505.1,1172.0 601.7,1186.3 596.5,1185.2" fill="#0089ae" stroke="#0089ae"/>
<polygon points="505.1,1172.0 507.7,1172.1 607.0,1187.3 601.7,1186.3" fill="#0089ae" stroke="#0089ae"/>
<polygon points="507.7,1172.1 510.3,1172.2 612.3,1188.1 607.0,1187.3" fill="#008aaf" stroke="#008aaf"/>
<polygon points="510.3,1172.2 513.0,1172.3 617.6,1188.9 612.3,1188.1" fill="#008aaf" stroke="#008aaf"/>
<polygon points="513.0,1172.3 515.7,1172.3 622.9,1189.6 617.6,1188.9" fill="#008aaf" stroke="#008aaf"/>
<polygon points="515.7,1172.3 518.3,1172.3 628.3,1190.2 622.9,1189.6" fill="#008aaf" stroke="#008aaf"/>
<polygon points="522.9,1119.4 523.5,1123.6 578.6,1095.9 577.8,1088.6" fill="#006b97" stroke="#006b97"/>
<polygon points="523.5,1123.6 524.3,1127.9 579.9,1103.1 578.6,1095.9" fill="#006e99" stroke="#006e99"/>
<polygon points="524.3,1127.9 525.5,1132.1 581.7,1110.3 579.9,1103.1" fill="#00719b" stroke="#00719b"/>
<polygon points="525.5,1132.1 527.0,1136.3 583.9,1117.4 581.7,1110.3" fill="#00749d" stroke="#00749d"/>
<polygon points="527.0,1136.3 528.9,1140.4 586.7,1124.4 583.9,1117.4" fill="#00779f" stroke="#00779f"/>
<polygon points="528.9,1140.4 531.0,1144.3 589.9,1131.3 586.7,1124.4" fill="#007aa1" stroke="#007aa1"/>
<polygon points="531.0,1144.3 533.5,1148.2 593.6,1138.0 589.9,1131.3" fill="#007ea2" stroke="#007ea2"/>
<polygon points="533.5,1148.2 536.2,1151.9 597.7,1144.4 593.6,1138.0" fill="#0081a4" stroke="#0081a4"/>
<polygon points="536.2,1151.9 539.2,1155.5 602.3,1150.7 597.7,1144.4" fill="#0084a6" stroke="#0084a6"/>
<polygon points="539.2,1155.5 542.5,1159.0 607.2,1156.7 602.3,1150.7" fill="#0087a8" stroke="#0087a8"/>
<polygon points="542.5,1159.0 546.0,1162.2 612.5,1162.4 607.2,1156.7" fill="#008aaa" stroke="#008aaa"/>
<polygon points="546.0,1162.2 549.8,1165.3 618.1,1167.9 612.5,1162.4" fill="#008eac" stroke="#008eac"/>
<polygon points="549.8,1165.3 553.8,1168.2 624.1,1173.1 618.1,1167.9" fill="#0091ae" stroke="#0091ae"/>
<polygon points="553.8,1168.2 558.0,1170.8 630.3,1178.0 624.1,1173.1" fill="#0094b0" stroke="#0094b0"/>
<polygon points="558.0,1170.8 562.3,1173.3 636.9,1182.6 630.3,1178.0" fill="#0096b1" stroke="#0096b1"/>
<polygon points="562.3,1173.3 566.9,1175.6 643.7,1186.9 636.9,1182.6" fill="#0096b2" stroke="#0096b2"/>
<polygon points="566.9,1175.6 571.5,1177.6 650.7,1190.8 643.7,1186.9" fill="#0096b2" stroke="#0096b2"/>
<polygon points="571.5,1177.6 576.3,1179.5 657.9,1194.5 650.7,1190.8" fill="#0097b3" stroke="#0097b3"/>
<polygon points="576.3,1179.5 581.3,1181.2 665.3,1197.9 657.9,1194.5" fill="#0097b3" stroke="#0097b3"/>
<polygon points="581.3,1181.2 586.3,1182.7 672.8,1201.0 665.3,1197.9" fill="#0098b4" stroke="#0098b4"/>
<polygon points="586.3,1182.7 591.4,1184.0 680.5,1203.9 672.8,1201.0" fill="#0098b4" stroke="#0098b4"/>
<polygon points="591.4,1184.0 596.5,1185.2 688.2,1206.6 680.5,1203.9" fill="#0098b5" stroke="#0098b5"/>
<polygon points="596.5,1185.2 601.7,1186.3 696.0,1209.1 688.2,1206.6" fill="#0099b5" stroke="#0099b5"/>
<polygon points="601.7,1186.3 607.0,1187.3 703.9,1211.4 696.0,1209.1" fill="#0099b6" stroke="#0099b6"/>
<polygon points="607.0,1187.3 612.3,1188.1 711.8,1213.6 703.9,1211.4" fill="#0099b6" stroke="#0099b6"/>
<polygon points="612.3,1188.1 617.6,1188.9 719.8,1215.6 711.8,1213.6" fill="#009ab7" stroke="#009ab7"/>
<polygon points="617.6,1188.9 622.9,1189.6 727.8,1217.5 719.8,1215.6" fill="#009ab7" stroke="#009ab7"/>
<polygon points="622.9,1189.6 628.3,1190.2 735.9,1219.3 727.8,1217.5" fill="#009bb8" stroke="#009bb8"/>
<polygon points="577.8,1088.6 578.6,1095.9 631.4,1064.7 630.3,1054.0" fill="#006b97" stroke="#006b97"/>
<polygon points="578.6,1095.9 579.9,1103.1 633.1,1075.4 631.4,1064.7" fill="#006f9a" stroke="#006f9a"/>
<polygon points="579.9,1103.1 581.7,1110.3 635.5,1086.0 633.1,1075.4" fill="#00749c" stroke="#00749c"/>
<polygon points="581.7,1110.3 583.9,1117.4 638.5,1096.5 635.5,1086.0" fill="#00789f" stroke="#00789f"/>
<polygon points="583.9,1117.4 586.7,1124.4 642.1,1106.9 638.5,1096.5" fill="#007ca1" stroke="#007ca1"/>
<polygon points="586.7,1124.4 589.9,1131.3 646.4,1117.1 642.1,1106.9" fill="#0080a4" stroke="#0080a4"/>
<polygon points="589.9,1131.3 593.6,1138.0 651.3,1127.0 646.4,1117.1" fill="#0085a7" stroke="#0085a7"/>
<polygon points="593.6,1138.0 597.7,1144.4 656.8,1136.7 651.3,1127.0" fill="#0089a9" stroke="#0089a9"/>
<polygon points="597.7,1144.4 602.3,1150.7 662.8,1146.0 656.8,1136.7" fill="#008dac" stroke="#008dac"/>
<polygon points="602.3,1150.7 607.2,1156.7 669.4,1155.1 662.8,1146.0" fill="#0091ae" stroke="#0091ae"/>
<polygon points="607.2,1156.7 612.5,1162.4 676.4,1163.8 669.4,1155.1" fill="#0096b1" stroke="#0096b1"/>
<polygon points="612.5,1162.4 618.1,1167.9 683.9,1172.1 676.4,1163.8" fill="#009ab3" stroke="#009ab3"/>
<polygon points="618.1,1167.9 624.1,1173.1 691.9,1180.1 683.9,1172.1" fill="#009eb6" stroke="#009eb6"/>
<polygon points="624.1,1173.1 630.3,1178.0 700.2,1187.6 691.9,1180.1" fill="#00a2b8" stroke="#00a2b8"/>
<polygon points="630.3,1178.0 636.9,1182.6 708.9,1194.7 700.2,1187.6" fill="#00a5ba" stroke="#00a5ba"/>
<polygon points="636.9,1182.6 643.7,1186.9 718.0,1201.5 708.9,1194.7" fill="#00a6bb" stroke="#00a6bb"/>
<polygon points="643.7,1186.9 650.7,1190.8 727.3,1207.8 718.0,1201.5" fill="#00a8bd" stroke="#00a8bd"/>
<polygon points="650.7,1190.8 657.9,1194.5 737.0,1213.7 727.3,1207.8" fill="#00a9be" stroke="#00a9be"/>
<polygon points="657.9,1194.5 665.3,1197.9 746.8,1219.2 737.0,1213.7" fill="#00aabf" stroke="#00aabf"/>
<polygon points="665.3,1197.9 672.8,1201.0 756.8,1224.4 746.8,1219.2" fill="#00acc0" stroke="#00acc0"/>
<polygon points="672.8,1201.0 680.5,1203.9 767.0,1229.3 756.8,1224.4" fill="#00adc2" stroke="#00adc2"/>
<polygon points="680.5,1203.9 688.2,1206.6 777.3,1233.9 767.0,1229.3" fill="#00aec3" stroke="#00aec3"/>
<polygon points="688.2,1206.6 696.0,1209.1 787.7,1238.3 777.3,1233.9" fill="#00b0c4" stroke="#00b0c4"/>
<polygon points="696.0,1209.1 703.9,1211.4 798.2,1242.4 787.7,1238.3" fill="#00b1c5" stroke="#00b1c5"/>
<polygon points="703.9,1211.4 711.8,1213.6 808.7,1246.3 798.2,1242.4" fill="#00b2c6" stroke="#00b2c6"/>
<polygon points="711.8,1213.6 719.8,1215.6 819.4,1250.1 808.7,1246.3" fill="#00b4c8" stroke="#00b4c8"/>
<polygon points="719.8,1215.6 727.8,1217.5 830.1,1253.6 819.4,1250.1" fill="#00b5c9" stroke="#00b5c9"/>
<polygon points="727.8,1217.5 735.9,1219.3 840.8,1257.1 830.1,1253.6" fill="#00b6ca" stroke="#00b6ca"/>
<polygon points="630.3,1054.0 631.4,1064.7 681.7,1030.5 680.4,1016.0" fill="#006e96" stroke="#006e96"/>
<polygon points="631.4,1064.7 633.1,1075.4 683.9,1045.0 681.7,1030.5" fill="#00739a" stroke="#00739a"/>
<polygon points="633.1,1075.4 635.5,1086.0 686.8,1059.4 683.9,1045.0" fill="#00789d" stroke="#00789d"/>
<polygon points="635.5,1086.0 638.5,1096.5 690.6,1073.6 686.8,1059.4" fill="#007da0" stroke="#007da0"/>
<polygon points="638.5,1096.5 642.1,1106.9 695.2,1087.7 690.6,1073.6" fill="#0082a3" stroke="#0082a3"/>
<polygon points="642.1,1106.9 646.4,1117.1 700.5,1101.5 695.2,1087.7" fill="#0087a6" stroke="#0087a6"/>
<polygon points="646.4,1117.1 651.3,1127.0 706.6,1115.1 700.5,1101.5" fill="#008ca9" stroke="#008ca9"/>
<polygon points="651.3,1127.0 656.8,1136.7 713.5,1128.2 706.6,1115.1" fill="#0091ac" stroke="#0091ac"/>
<polygon points="656.8,1136.7 662.8,1146.0 721.0,1141.1 713.5,1128.2" fill="#0096af" stroke="#0096af"/>
<polygon points="662.8,1146.0 669.4,1155.1 729.2,1153.5 721.0,1141.1" fill="#009bb2" stroke="#009bb2"/>
<polygon points="669.4,1155.1 676.4,1163.8 738.0,1165.5 729.2,1153.5" fill="#00a0b5" stroke="#00a0b5"/>
<polygon points="676.4,1163.8 683.9,1172.1 747.3,1177.0 738.0,1165.5" fill="#00a5b8" stroke="#00a5b8"/>
<polygon points="683.9,1172.1 691.9,1180.1 757.2,1188.1 747.3,1177.0" fill="#00aabb" stroke="#00aabb"/>
<polygon points="691.9,1180.1 700.2,1187.6 767.6,1198.6 757.2,1188.1" fill="#00afbf" stroke="#00afbf"/>
<polygon points="700.2,1187.6 708.9,1194.7 778.5,1208.7 767.6,1198.6" fill="#00b2c1" stroke="#00b2c1"/>
<polygon points="708.9,1194.7 718.0,1201.5 789.8,1218.2 778.5,1208.7" fill="#00b4c3" stroke="#00b4c3"/>
<polygon points="718.0,1201.5 727.3,1207.8 801.5,1227.2 789.8,1218.2" fill="#00b6c4" stroke="#00b6c4"/>
<polygon points="727.3,1207.8 737.0,1213.7 813.5,1235.7 801.5,1227.2" fill="#00b8c6" stroke="#00b8c6"/>
<polygon points="737.0,1213.7 746.8,1219.2 825.8,1243.7 813.5,1235.7" fill="#00bac8" stroke="#00bac8"/>
<polygon points="746.8,1219.2 756.8,1224.4 838.3,1251.4 825.8,1243.7" fill="#00bcca" stroke="#00bcca"/>
<polygon points="756.8,1224.4 767.0,1229.3 851.0,1258.6 838.3,1251.4" fill="#00becc" stroke="#00becc"/>
<polygon points="767.0,1229.3 777.3,1233.9 863.9,1265.5 851.0,1258.6" fill="#00c0cd" stroke="#00c0cd"/>
<polygon points="777.3,1233.9 787.7,1238.3 876.9,1272.0 863.9,1265.5" fill="#00c2cf" stroke="#00c2cf"/>
<polygon points="787.7,1238.3 798.2,1242.4 890.0,1278.3 876.9,1272.0" fill="#00c4d1" stroke="#00c4d1"/>
<polygon points="798.2,1242.4 808.7,1246.3 903.2,1284.3 890.0,1278.3" fill="#00c6d3" stroke="#00c6d3"/>
<polygon points="808.7,1246.3 819.4,1250.1 916.4,1290.1 903.2,1284.3" fill="#00c8d4" stroke="#00c8d4"/>
<polygon points="819.4,1250.1 830.1,1253.6 929.8,1295.7 916.4,1290.1" fill="#00cad6" stroke="#00cad6"/>
<polygon points="830.1,1253.6 840.8,1257.1 943.2,1301.2 929.8,1295.7" fill="#00ccd8" stroke="#00ccd8"/>
<polygon points="680.4,1016.0 681.7,1030.5 729.7,993.5 728.1,974.9" fill="#007295" stroke="#007295"/>
<polygon points="681.7,1030.5 683.9,1045.0 732.3,1012.0 729.7,993.5" fill="#007898" stroke="#007898"/>
<polygon points="683.9,1045.0 686.8,1059.4 735.8,1030.5 732.3,1012.0" fill="#007d9c" stroke="#007d9c"/>
<polygon points="686.8,1059.4 690.6,1073.6 740.3,1048.8 735.8,1030.5" fill="#00829f" stroke="#00829f"/>
<polygon points="690.6,1073.6 695.2,1087.7 745.8,1066.8 740.3,1048.8" fill="#0088a3" stroke="#0088a3"/>
<polygon points="695.2,1087.7 700.5,1101.5 752.3,1084.5 745.8,1066.8" fill="#008ea6" stroke="#008ea6"/>
<polygon points="700.5,1101.5 706.6,1115.1 759.6,1101.9 752.3,1084.5" fill="#0093aa" stroke="#0093aa"/>
<polygon points="706.6,1115.1 713.5,1128.2 767.8,1118.9 759.6,1101.9" fill="#0098ad" stroke="#0098ad"/>
<polygon points="713.5,1128.2 721.0,1141.1 776.9,1135.4 767.8,1118.9" fill="#009eb1" stroke="#009eb1"/>
<polygon points="721.0,1141.1 729.2,1153.5 786.7,1151.5 776.9,1135.4" fill="#00a4b4" stroke="#00a4b4"/>
<polygon points="729.2,1153.5 738.0,1165.5 797.2,1167.0 786.7,1151.5" fill="#00a9b8" stroke="#00a9b8"/>
<polygon points="738.0,1165.5 747.3,1177.0 808.5,1182.0 797.2,1167.0" fill="#00aebb" stroke="#00aebb"/>
<polygon points="747.3,1177.0 757.2,1188.1 820.4,1196.5 808.5,1182.0" fill="#00b4bf" stroke="#00b4bf"/>
<polygon points="757.2,1188.1 767.6,1198.6 832.9,1210.3 820.4,1196.5" fill="#00bac2" stroke="#00bac2"/>
<polygon points="767.6,1198.6 778.5,1208.7 846.0,1223.5 832.9,1210.3" fill="#00bdc5" stroke="#00bdc5"/>
<polygon points="778.5,1208.7 789.8,1218.2 859.5,1236.0 846.0,1223.5" fill="#00c0c7" stroke="#00c0c7"/>
<polygon points="789.8,1218.2 801.5,1227.2 873.6,1248.0 859.5,1236.0" fill="#00c2ca" stroke="#00c2ca"/>
<polygon points="801.5,1227.2 813.5,1235.7 888.0,1259.3 873.6,1248.0" fill="#00c4cc" stroke="#00c4cc"/>
<polygon points="813.5,1235.7 825.8,1243.7 902.7,1270.2 888.0,1259.3" fill="#00c7ce" stroke="#00c7ce"/>
<polygon points="825.8,1243.7 838.3,1251.4 917.7,1280.5 902.7,1270.2" fill="#00c9d0" stroke="#00c9d0"/>
<polygon points="838.3,1251.4 851.0,1258.6 933.0,1290.3 917.7,1280.5" fill="#00cbd2" stroke="#00cbd2"/>
<polygon points="851.0,1258.6 863.9,1265.5 948.4,1299.7 933.0,1290.3" fill="#00ced4" stroke="#00ced4"/>
<polygon points="863.9,1265.5 876.9,1272.0 964.0,1308.7 948.4,1299.7" fill="#00d0d7" stroke="#00d0d7"/>
<polygon points="876.9,1272.0 890.0,1278.3 979.8,1317.4 964.0,1308.7" fill="#00d2d9" stroke="#00d2d9"/>
<polygon points="890.0,1278.3 903.2,1284.3 995.6,1325.8 979.8,1317.4" fill="#00d5db" stroke="#00d5db"/>
<polygon points="903.2,1284.3 916.4,1290.1 1011.6,1333.9 995.6,1325.8" fill="#00d7dd" stroke="#00d7dd"/>
<polygon points="916.4,1290.1 929.8,1295.7 1027.6,1341.8 1011.6,1333.9" fill="#00d9df" stroke="#00d9df"/>
<polygon points="929.8,1295.7 943.2,1301.2 1043.7,1349.4 1027.6,1341.8" fill="#00dce1" stroke="#00dce1"/>
<polygon points="728.1,974.9 729.7,993.5 748.2,978.0 746.5,957.7" fill="#007593" stroke="#007593"/>
<polygon points="729.7,993.5 732.3,1012.0 751.0,998.2 748.2,978.0" fill="#007b97" stroke="#007b97"/>
<polygon points="732.3,1012.0 735.8,1030.5 754.8,1018.3 751.0,998.2" fill="#00819b" stroke="#00819b"/>
<polygon points="735.8,1030.5 740.3,1048.8 759.6,1038.3 754.8,1018.3" fill="#00879f" stroke="#00879f"/>
<polygon points="740.3,1048.8 745.8,1066.8 765.5,1057.9 759.6,1038.3" fill="#008ca3" stroke="#008ca3"/>
<polygon points="745.8,1066.8 752.3,1084.5 772.4,1077.3 765.5,1057.9" fill="#0092a7" stroke="#0092a7"/>
<polygon points="752.3,1084.5 759.6,1101.9 780.2,1096.3 772.4,1077.3" fill="#0098aa" stroke="#0098aa"/>
<polygon points="759.6,1101.9 767.8,1118.9 789.0,1114.8 780.2,1096.3" fill="#009eae" stroke="#009eae"/>
<polygon points="767.8,1118.9 776.9,1135.4 798.6,1132.9 789.0,1114.8" fill="#00a4b2" stroke="#00a4b2"/>
<polygon points="776.9,1135.4 786.7,1151.5 809.1,1150.5 798.6,1132.9" fill="#00aab6" stroke="#00aab6"/>
<polygon points="786.7,1151.5 797.2,1167.0 820.4,1167.5 809.1,1150.5" fill="#00afba" stroke="#00afba"/>
<polygon points="797.2,1167.0 808.5,1182.0 832.4,1183.9 820.4,1167.5" fill="#00b5be" stroke="#00b5be"/>
<polygon points="808.5,1182.0 820.4,1196.5 845.1,1199.8 832.4,1183.9" fill="#00bbc1" stroke="#00bbc1"/>
<polygon points="820.4,1196.5 832.9,1210.3 858.5,1214.9 845.1,1199.8" fill="#00c1c5" stroke="#00c1c5"/>
<polygon points="832.9,1210.3 846.0,1223.5 872.4,1229.5 858.5,1214.9" fill="#00c5c8" stroke="#00c5c8"/>
<polygon points="846.0,1223.5 859.5,1236.0 886.9,1243.3 872.4,1229.5" fill="#00c8cb" stroke="#00c8cb"/>
<polygon points="859.5,1236.0 873.6,1248.0 901.9,1256.5 886.9,1243.3" fill="#00cacd" stroke="#00cacd"/>
<polygon points="873.6,1248.0 888.0,1259.3 917.3,1269.0 901.9,1256.5" fill="#00cdd0" stroke="#00cdd0"/>
<polygon points="888.0,1259.3 902.7,1270.2 933.0,1281.0 917.3,1269.0" fill="#00cfd2" stroke="#00cfd2"/>
<polygon points="902.7,1270.2 917.7,1280.5 949.1,1292.4 933.0,1281.0" fill="#00d2d4" stroke="#00d2d4"/>
<polygon points="917.7,1280.5 933.0,1290.3 965.3,1303.4 949.1,1292.4" fill="#00d5d7" stroke="#00d5d7"/>
<polygon points="933.0,1290.3 948.4,1299.7 981.8,1313.8 965.3,1303.4" fill="#00d7d9" stroke="#00d7d9"/>
<polygon points="948.4,1299.7 964.0,1308.7 998.5,1323.9 981.8,1313.8" fill="#00dadc" stroke="#00dadc"/>
<polygon points="964.0,1308.7 979.8,1317.4 1015.3,1333.6 998.5,1323.9" fill="#00dcde" stroke="#00dcde"/>
<polygon points="979.8,1317.4 995.6,1325.8 1032.2,1343.0 1015.3,1333.6" fill="#00dfe1" stroke="#00dfe1"/>
<polygon points="995.6,1325.8 1011.6,1333.9 1049.2,1352.0 1032.2,1343.0" fill="#00e1e3" stroke="#00e1e3"/>
<polygon points="1011.6,1333.9 1027.6,1341.8 1066.3,1360.9 1049.2,1352.0" fill="#00e4e5" stroke="#00e4e5"/>
<polygon points="1027.6,1341.8 1043.7,1349.4 1083.5,1369.5 1066.3,1360.9" fill="#00e7e8" stroke="#00e7e8"/>
<polygon points="746.5,957.7 748.2,978.0 774.6,951.7 773.4,931.2" fill="#007993" stroke="#007993"/>
<polygon points="748.2,978.0 751.0,998.2 776.9,972.0 774.6,951.7" fill="#007f97" stroke="#007f97"/>
<polygon points="751.0,998.2 754.8,1018.3 780.4,992.3 776.9,972.0" fill="#00849b" stroke="#00849b"/>
<polygon points="754.8,1018.3 759.6,1038.3 785.1,1012.3 780.4,992.3" fill="#008a9f" stroke="#008a9f"/>
<polygon points="759.6,1038.3 765.5,1057.9 790.9,1032.1 785.1,1012.3" fill="#0090a2" stroke="#0090a2"/>
<polygon points="765.5,1057.9 772.4,1077.3 797.7,1051.5 790.9,1032.1" fill="#0096a6" stroke="#0096a6"/>
<polygon points="772.4,1077.3 780.2,1096.3 805.6,1070.5 797.7,1051.5" fill="#009caa" stroke="#009caa"/>
<polygon points="780.2,1096.3 789.0,1114.8 814.6,1089.1 805.6,1070.5" fill="#00a1ae" stroke="#00a1ae"/>
<polygon points="789.0,1114.8 798.6,1132.9 824.5,1107.1 814.6,1089.1" fill="#00a7b2" stroke="#00a7b2"/>
<polygon points="798.6,1132.9 809.1,1150.5 835.3,1124.6 824.5,1107.1" fill="#00adb6" stroke="#00adb6"/>
<polygon points="809.1,1150.5 820.4,1167.5 847.0,1141.4 835.3,1124.6" fill="#00b3ba" stroke="#00b3ba"/>
<polygon points="820.4,1167.5 832.4,1183.9 859.5,1157.7 847.0,1141.4" fill="#00b9bd" stroke="#00b9bd"/>
<polygon points="832.4,1183.9 845.1,1199.8 872.7,1173.2 859.5,1157.7" fill="#00bfc1" stroke="#00bfc1"/>
<polygon points="845.1,1199.8 858.5,1214.9 886.6,1188.1 872.7,1173.2" fill="#00c4c5" stroke="#00c4c5"/>
<polygon points="858.5,1214.9 872.4,1229.5 901.2,1202.2 886.6,1188.1" fill="#00c9c8" stroke="#00c9c8"/>
<polygon points="872.4,1229.5 886.9,1243.3 916.4,1215.6 901.2,1202.2" fill="#00cbcb" stroke="#00cbcb"/>
<polygon points="886.9,1243.3 901.9,1256.5 932.2,1228.2 916.4,1215.6" fill="#00cecd" stroke="#00cecd"/>
<polygon points="901.9,1256.5 917.3,1269.0 948.3,1240.2 932.2,1228.2" fill="#00d0cf" stroke="#00d0cf"/>
<polygon points="917.3,1269.0 933.0,1281.0 964.9,1251.6 948.3,1240.2" fill="#00d3d2" stroke="#00d3d2"/>
<polygon points="933.0,1281.0 949.1,1292.4 981.8,1262.3 964.9,1251.6" fill="#00d5d4" stroke="#00d5d4"/>
<polygon points="949.1,1292.4 965.3,1303.4 998.9,1272.5 981.8,1262.3" fill="#00d8d6" stroke="#00d8d6"/>
<polygon points="965.3,1303.4 981.8,1313.8 1016.3,1282.2 998.9,1272.5" fill="#00dbd9" stroke="#00dbd9"/>
<polygon points="981.8,1313.8 998.5,1323.9 1033.8,1291.5 1016.3,1282.2" fill="#00dddb" stroke="#00dddb"/>
<polygon points="998.5,1323.9 1015.3,1333.6 1051.6,1300.4 1033.8,1291.5" fill="#00e0dd" stroke="#00e0dd"/>
<polygon points="1015.3,1333.6 1032.2,1343.0 1069.4,1308.9 1051.6,1300.4" fill="#00e2e0" stroke="#00e2e0"/>
<polygon points="1032.2,1343.0 1049.2,1352.0 1087.4,1317.0 1069.4,1308.9" fill="#00e5e2" stroke="#00e5e2"/>
<polygon points="1049.2,1352.0 1066.3,1360.9 1105.4,1325.0 1087.4,1317.0" fill="#00e8e4" stroke="#00e8e4"/>
<polygon points="1066.3,1360.9 1083.5,1369.5 1123.5,1332.6 1105.4,1325.0" fill="#00eae7" stroke="#00eae7"/>
<polygon points="773.4,931.2 774.6,951.7 816.6,905.9 816.3,885.3" fill="#008093" stroke="#008093"/>
<polygon points="774.6,951.7 776.9,972.0 818.3,926.4 816.6,905.9" fill="#008697" stroke="#008697"/>
<polygon points="776.9,972.0 780.4,992.3 821.2,946.8 818.3,926.4" fill="#008b9a" stroke="#008b9a"/>
<polygon points="780.4,992.3 785.1,1012.3 825.4,967.0 821.2,946.8" fill="#00919e" stroke="#00919e"/>
<polygon points="785.1,1012.3 790.9,1032.1 831.0,986.8 825.4,967.0" fill="#0096a2" stroke="#0096a2"/>
<polygon points="790.9,1032.1 797.7,1051.5 837.7,1006.3 831.0,986.8" fill="#009ca5" stroke="#009ca5"/>
<polygon points="797.7,1051.5 805.6,1070.5 845.7,1025.3 837.7,1006.3" fill="#00a1a9" stroke="#00a1a9"/>
<polygon points="805.6,1070.5 814.6,1089.1 854.9,1043.8 845.7,1025.3" fill="#00a7ad" stroke="#00a7ad"/>
<polygon points="814.6,1089.1 824.5,1107.1 865.1,1061.7 854.9,1043.8" fill="#00acb0" stroke="#00acb0"/>
<polygon points="824.5,1107.1 835.3,1124.6 876.4,1078.9 865.1,1061.7" fill="#00b2b4" stroke="#00b2b4"/>
<polygon points="835.3,1124.6 847.0,1141.4 888.7,1095.4 876.4,1078.9" fill="#00b7b8" stroke="#00b7b8"/>
<polygon points="847.0,1141.4 859.5,1157.7 901.9,1111.3 888.7,1095.4" fill="#00bdbb" stroke="#00bdbb"/>
<polygon points="859.5,1157.7 872.7,1173.2 916.0,1126.3 901.9,1111.3" fill="#00c3bf" stroke="#00c3bf"/>
<polygon points="872.7,1173.2 886.6,1188.1 930.9,1140.5 916.0,1126.3" fill="#00c8c3" stroke="#00c8c3"/>
<polygon points="886.6,1188.1 901.2,1202.2 946.5,1154.0 930.9,1140.5" fill="#00ccc6" stroke="#00ccc6"/>
<polygon points="901.2,1202.2 916.4,1215.6 962.8,1166.5 946.5,1154.0" fill="#00cec7" stroke="#00cec7"/>
<polygon points="916.4,1215.6 932.2,1228.2 979.7,1178.3 962.8,1166.5" fill="#00d1c9" stroke="#00d1c9"/>
<polygon points="932.2,1228.2 948.3,1240.2 997.1,1189.2 979.7,1178.3" fill="#00d3cb" stroke="#00d3cb"/>
<polygon points="948.3,1240.2 964.9,1251.6 1015.0,1199.5 997.1,1189.2" fill="#00d6cd" stroke="#00d6cd"/>
<polygon points="964.9,1251.6 981.8,1262.3 1033.2,1209.0 1015.0,1199.5" fill="#00d8cf" stroke="#00d8cf"/>
<polygon points="981.8,1262.3 998.9,1272.5 1051.7,1218.0 1033.2,1209.0" fill="#00dad1" stroke="#00dad1"/>
<polygon points="998.9,1272.5 1016.3,1282.2 1070.5,1226.3 1051.7,1218.0" fill="#00ddd3" stroke="#00ddd3"/>
<polygon points="1016.3,1282.2 1033.8,1291.5 1089.5,1234.2 1070.5,1226.3" fill="#00dfd5" stroke="#00dfd5"/>
<polygon points="1033.8,1291.5 1051.6,1300.4 1108.7,1241.6 1089.5,1234.2" fill="#00e2d7" stroke="#00e2d7"/>
<polygon points="1051.6,1300.4 1069.4,1308.9 1128.0,1248.6 1108.7,1241.6" fill="#00e4d9" stroke="#00e4d9"/>
<polygon points="1069.4,1308.9 1087.4,1317.0 1147.5,1255.2 1128.0,1248.6" fill="#00e6db" stroke="#00e6db"/>
<polygon points="1087.4,1317.0 1105.4,1325.0 1167.1,1261.5 1147.5,1255.2" fill="#00e9dc" stroke="#00e9dc"/>
<polygon points="1105.4,1325.0 1123.5,1332.6 1186.7,1267.5 1167.1,1261.5" fill="#00ebde" stroke="#00ebde"/>
<polygon points="816.3,885.3 816.6,905.9 834.9,885.8 833.3,865.8" fill="#00878f" stroke="#00878f"/>
<polygon points="816.6,905.9 818.3,926.4 837.8,905.8 834.9,885.8" fill="#008c93" stroke="#008c93"/>
<polygon points="818.3,926.4 821.2,946.8 841.9,925.5 837.8,905.8" fill="#009296" stroke="#009296"/>
<polygon points="821.2,946.8 825.4,967.0 847.3,945.0 841.9,925.5" fill="#00979a" stroke="#00979a"/>
<polygon points="825.4,967.0 831.0,986.8 853.8,964.1 847.3,945.0" fill="#009c9e" stroke="#009c9e"/>
<polygon points="831.0,986.8 837.7,1006.3 861.5,982.8 853.8,964.1" fill="#00a1a1" stroke="#00a1a1"/>
<polygon points="837.7,1006.3 845.7,1025.3 870.3,1001.1 861.5,982.8" fill="#00a7a5" stroke="#00a7a5"/>
<polygon points="845.7,1025.3 854.9,1043.8 880.2,1018.8 870.3,1001.1" fill="#00aca8" stroke="#00aca8"/>
<polygon points="854.9,1043.8 865.1,1061.7 891.0,1036.0 880.2,1018.8" fill="#00b1ac" stroke="#00b1ac"/>
<polygon points="865.1,1061.7 876.4,1078.9 902.9,1052.5 891.0,1036.0" fill="#00b6af" stroke="#00b6af"/>
<polygon points="876.4,1078.9 888.7,1095.4 915.6,1068.3 902.9,1052.5" fill="#00bcb3" stroke="#00bcb3"/>
<polygon points="888.7,1095.4 901.9,1111.3 929.2,1083.5 915.6,1068.3" fill="#00c1b6" stroke="#00c1b6"/>
<polygon points="901.9,1111.3 916.0,1126.3 943.6,1098.0 929.2,1083.5" fill="#00c6ba" stroke="#00c6ba"/>
<polygon points="916.0,1126.3 930.9,1140.5 958.7,1111.7 943.6,1098.0" fill="#00cbbd" stroke="#00cbbd"/>
<polygon points="930.9,1140.5 946.5,1154.0 974.5,1124.6 958.7,1111.7" fill="#00cfc0" stroke="#00cfc0"/>
<polygon points="946.5,1154.0 962.8,1166.5 991.0,1136.7 974.5,1124.6" fill="#00d1c2" stroke="#00d1c2"/>
<polygon points="962.8,1166.5 979.7,1178.3 1007.9,1148.1 991.0,1136.7" fill="#00d4c3" stroke="#00d4c3"/>
<polygon points="979.7,1178.3 997.1,1189.2 1025.4,1158.8 1007.9,1148.1" fill="#00d6c5" stroke="#00d6c5"/>
<polygon points="997.1,1189.2 1015.0,1199.5 1043.2,1168.8 1025.4,1158.8" fill="#00d8c6" stroke="#00d8c6"/>
<polygon points="1015.0,1199.5 1033.2,1209.0 1061.3,1178.2 1043.2,1168.8" fill="#00dac8" stroke="#00dac8"/>
<polygon points="1033.2,1209.0 1051.7,1218.0 1079.8,1187.0 1061.3,1178.2" fill="#00ddc9" stroke="#00ddc9"/>
<polygon points="1051.7,1218.0 1070.5,1226.3 1098.4,1195.3 1079.8,1187.0" fill="#00dfcb" stroke="#00dfcb"/>
<polygon points="1070.5,1226.3 1089.5,1234.2 1117.3,1203.1 1098.4,1195.3" fill="#00e1cd" stroke="#00e1cd"/>
<polygon points="1089.5,1234.2 1108.7,1241.6 1136.3,1210.6 1117.3,1203.1" fill="#00e3ce" stroke="#00e3ce"/>
<polygon points="1108.7,1241.6 1128.0,1248.6 1155.5,1217.6 1136.3,1210.6" fill="#00e6d0" stroke="#00e6d0"/>
<polygon points="1128.0,1248.6 1147.5,1255.2 1174.8,1224.4 1155.5,1217.6" fill="#00e8d1" stroke="#00e8d1"/>
<polygon points="1147.5,1255.2 1167.1,1261.5 1194.1,1230.8 1174.8,1224.4" fill="#00ead3" stroke="#00ead3"/>
<polygon points="1167.1,1261.5 1186.7,1267.5 1213.6,1237.1 1194.1,1230.8" fill="#00ecd4" stroke="#00ecd4"/>
<polygon points="833.3,865.8 834.9,885.8 852.9,865.5 849.9,846.0" fill="#008c89" stroke="#008c89"/>
<polygon points="834.9,885.8 837.8,905.8 857.0,884.8 852.9,865.5" fill="#00918c" stroke="#00918c"/>
<polygon points="837.8,905.8 841.9,925.5 862.2,903.8 857.0,884.8" fill="#009690" stroke="#009690"/>
<polygon points="841.9,925.5 847.3,945.0 868.6,922.6 862.2,903.8" fill="#009b93" stroke="#009b93"/>
<polygon points="847.3,945.0 853.8,964.1 876.1,941.0 868.6,922.6" fill="#00a097" stroke="#00a097"/>
<polygon points="853.8,964.1 861.5,982.8 884.7,959.0 876.1,941.0" fill="#00a59a" stroke="#00a59a"/>
<polygon points="861.5,982.8 870.3,1001.1 894.3,976.5 884.7,959.0" fill="#00aa9e" stroke="#00aa9e"/>
<polygon points="870.3,1001.1 880.2,1018.8 904.9,993.4 894.3,976.5" fill="#00afa1" stroke="#00afa1"/>
<polygon points="880.2,1018.8 891.0,1036.0 916.4,1009.8 904.9,993.4" fill="#00b4a5" stroke="#00b4a5"/>
<polygon points="891.0,1036.0 902.9,1052.5 928.8,1025.6 916.4,1009.8" fill="#00b9a8" stroke="#00b9a8"/>
<polygon points="902.9,1052.5 915.6,1068.3 942.0,1040.8 928.8,1025.6" fill="#00beac" stroke="#00beac"/>
<polygon points="915.6,1068.3 929.2,1083.5 956.0,1055.3 942.0,1040.8" fill="#00c3af" stroke="#00c3af"/>
<polygon points="929.2,1083.5 943.6,1098.0 970.7,1069.1 956.0,1055.3" fill="#00c8b3" stroke="#00c8b3"/>
<polygon points="943.6,1098.0 958.7,1111.7 986.0,1082.3 970.7,1069.1" fill="#00cdb6" stroke="#00cdb6"/>
<polygon points="958.7,1111.7 974.5,1124.6 1002.0,1094.7 986.0,1082.3" fill="#00d1b8" stroke="#00d1b8"/>
<polygon points="974.5,1124.6 991.0,1136.7 1018.5,1106.4 1002.0,1094.7" fill="#00d3ba" stroke="#00d3ba"/>
<polygon points="991.0,1136.7 1007.9,1148.1 1035.5,1117.4 1018.5,1106.4" fill="#00d5bb" stroke="#00d5bb"/>
<polygon points="1007.9,1148.1 1025.4,1158.8 1052.9,1127.8 1035.5,1117.4" fill="#00d7bd" stroke="#00d7bd"/>
<polygon points="1025.4,1158.8 1043.2,1168.8 1070.7,1137.5 1052.9,1127.8" fill="#00dabe" stroke="#00dabe"/>
<polygon points="1043.2,1168.8 1061.3,1178.2 1088.8,1146.7 1070.7,1137.5" fill="#00dcc0" stroke="#00dcc0"/>
<polygon points="1061.3,1178.2 1079.8,1187.0 1107.1,1155.4 1088.8,1146.7" fill="#00dec1" stroke="#00dec1"/>
<polygon points="1079.8,1187.0 1098.4,1195.3 1125.6,1163.6 1107.1,1155.4" fill="#00e0c2" stroke="#00e0c2"/>
<polygon points="1098.4,1195.3 1117.3,1203.1 1144.3,1171.5 1125.6,1163.6" fill="#00e3c4" stroke="#00e3c4"/>
<polygon points="1117.3,1203.1 1136.3,1210.6 1163.2,1178.9 1144.3,1171.5" fill="#00e5c5" stroke="#00e5c5"/>
<polygon points="1136.3,1210.6 1155.5,1217.6 1182.2,1186.0 1163.2,1178.9" fill="#00e7c7" stroke="#00e7c7"/>
<polygon points="1155.5,1217.6 1174.8,1224.4 1201.2,1192.9 1182.2,1186.0" fill="#00e9c8" stroke="#00e9c8"/>
<polygon points="1174.8,1224.4 1194.1,1230.8 1220.4,1199.5 1201.2,1192.9" fill="#00ecca" stroke="#00ecca"/>
<polygon points="1194.1,1230.8 1213.6,1237.1 1239.6,1205.9 1220.4,1199.5" fill="#00eecb" stroke="#00eecb"/>
<polygon points="849.9,846.0 852.9,865.5 870.4,844.8 866.1,825.9" fill="#009182" stroke="#009182"/>
<polygon points="852.9,865.5 857.0,884.8 875.7,863.5 870.4,844.8" fill="#009685" stroke="#009685"/>
<polygon points="857.0,884.8 862.2,903.8 882.1,881.8 875.7,863.5" fill="#009a89" stroke="#009a89"/>
<polygon points="862.2,903.8 868.6,922.6 889.6,899.9 882.1,881.8" fill="#009f8c" stroke="#009f8c"/>
<polygon points="868.6,922.6 876.1,941.0 898.1,917.5 889.6,899.9" fill="#00a490" stroke="#00a490"/>
<polygon points="876.1,941.0 884.7,959.0 907.5,934.7 898.1,917.5" fill="#00a993" stroke="#00a993"/>
<polygon points="884.7,959.0 894.3,976.5 917.9,951.4 907.5,934.7" fill="#00ae96" stroke="#00ae96"/>
<polygon points="894.3,976.5 904.9,993.4 929.2,967.6 917.9,951.4" fill="#00b29a" stroke="#00b29a"/>
<polygon points="904.9,993.4 916.4,1009.8 941.3,983.3 929.2,967.6" fill="#00b79d" stroke="#00b79d"/>
<polygon points="916.4,1009.8 928.8,1025.6 954.2,998.3 941.3,983.3" fill="#00bca1" stroke="#00bca1"/>
<polygon points="928.8,1025.6 942.0,1040.8 967.9,1012.8 954.2,998.3" fill="#00c1a4" stroke="#00c1a4"/>
<polygon points="942.0,1040.8 956.0,1055.3 982.2,1026.6 967.9,1012.8" fill="#00c5a8" stroke="#00c5a8"/>
<polygon points="956.0,1055.3 970.7,1069.1 997.2,1039.8 982.2,1026.6" fill="#00caab" stroke="#00caab"/>
<polygon points="970.7,1069.1 986.0,1082.3 1012.7,1052.4 997.2,1039.8" fill="#00cfaf" stroke="#00cfaf"/>
<polygon points="986.0,1082.3 1002.0,1094.7 1028.8,1064.3 1012.7,1052.4" fill="#00d2b1" stroke="#00d2b1"/>
<polygon points="1002.0,1094.7 1018.5,1106.4 1045.4,1075.5 1028.8,1064.3" fill="#00d5b2" stroke="#00d5b2"/>
<polygon points="1018.5,1106.4 1035.5,1117.4 1062.4,1086.2 1045.4,1075.5" fill="#00d7b3" stroke="#00d7b3"/>
<polygon points="1035.5,1117.4 1052.9,1127.8 1079.8,1096.2 1062.4,1086.2" fill="#00d9b5" stroke="#00d9b5"/>
<polygon points="1052.9,1127.8 1070.7,1137.5 1097.5,1105.7 1079.8,1096.2" fill="#00dbb6" stroke="#00dbb6"/>
<polygon points="1070.7,1137.5 1088.8,1146.7 1115.5,1114.7 1097.5,1105.7" fill="#00ddb7" stroke="#00ddb7"/>
<polygon points="1088.8,1146.7 1107.1,1155.4 1133.7,1123.3 1115.5,1114.7" fill="#00e0b9" stroke="#00e0b9"/>
<polygon points="1107.1,1155.4 1125.6,1163.6 1152.1,1131.4 1133.7,1123.3" fill="#00e2ba" stroke="#00e2ba"/>
<polygon points="1125.6,1163.6 1144.3,1171.5 1170.6,1139.2 1152.1,1131.4" fill="#00e4bb" stroke="#00e4bb"/>
<polygon points="1144.3,1171.5 1163.2,1178.9 1189.3,1146.6 1170.6,1139.2" fill="#00e6bc" stroke="#00e6bc"/>
<polygon points="1163.2,1178.9 1182.2,1186.0 1208.1,1153.8 1189.3,1146.6" fill="#00e8be" stroke="#00e8be"/>
<polygon points="1182.2,1186.0 1201.2,1192.9 1226.9,1160.7 1208.1,1153.8" fill="#00ebbf" stroke="#00ebbf"/>
<polygon points="1201.2,1192.9 1220.4,1199.5 1245.8,1167.4 1226.9,1160.7" fill="#00edc0" stroke="#00edc0"/>
<polygon points="1220.4,1199.5 1239.6,1205.9 1264.8,1174.0 1245.8,1167.4" fill="#00efc2" stroke="#00efc2"/>
<polygon points="866.1,825.9 870.4,844.8 887.6,823.8 882.0,805.5" fill="#00967b" stroke="#00967b"/>
<polygon points="870.4,844.8 875.7,863.5 894.1,841.8 887.6,823.8" fill="#009a7e" stroke="#009a7e"/>
<polygon points="875.7,863.5 882.1,881.8 901.6,859.5 894.1,841.8" fill="#009f82" stroke="#009f82"/>
<polygon points="882.1,881.8 889.6,899.9 910.1,876.8 901.6,859.5" fill="#00a385" stroke="#00a385"/>
<polygon points="889.6,899.9 898.1,917.5 919.5,893.7 910.1,876.8" fill="#00a889" stroke="#00a889"/>
<polygon points="898.1,917.5 907.5,934.7 929.9,910.1 919.5,893.7" fill="#00ac8c" stroke="#00ac8c"/>
<polygon points="907.5,934.7 917.9,951.4 941.0,926.1 929.9,910.1" fill="#00b18f" stroke="#00b18f"/>
<polygon points="917.9,951.4 929.2,967.6 953.0,941.5 941.0,926.1" fill="#00b693" stroke="#00b693"/>
<polygon points="929.2,967.6 941.3,983.3 965.7,956.3 953.0,941.5" fill="#00ba96" stroke="#00ba96"/>
<polygon points="941.3,983.3 954.2,998.3 979.1,970.6 965.7,956.3" fill="#00bf9a" stroke="#00bf9a"/>
<polygon points="954.2,998.3 967.9,1012.8 993.2,984.4 979.1,970.6" fill="#00c39d" stroke="#00c39d"/>
<polygon points="967.9,1012.8 982.2,1026.6 1007.9,997.5 993.2,984.4" fill="#00c8a0" stroke="#00c8a0"/>
<polygon points="982.2,1026.6 997.2,1039.8 1023.1,1010.1 1007.9,997.5" fill="#00cca4" stroke="#00cca4"/>
<polygon points="997.2,1039.8 1012.7,1052.4 1038.9,1022.1 1023.1,1010.1" fill="#00d1a7" stroke="#00d1a7"/>
<polygon points="1012.7,1052.4 1028.8,1064.3 1055.1,1033.4 1038.9,1022.1" fill="#00d4a9" stroke="#00d4a9"/>
<polygon points="1028.8,1064.3 1045.4,1075.5 1071.8,1044.2 1055.1,1033.4" fill="#00d6aa" stroke="#00d6aa"/>
<polygon points="1045.4,1075.5 1062.4,1086.2 1088.8,1054.5 1071.8,1044.2" fill="#00d9ac" stroke="#00d9ac"/>
<polygon points="1062.4,1086.2 1079.8,1096.2 1106.1,1064.2 1088.8,1054.5" fill="#00dbad" stroke="#00dbad"/>
<polygon points="1079.8,1096.2 1097.5,1105.7 1123.8,1073.4 1106.1,1064.2" fill="#00ddae" stroke="#00ddae"/>
<polygon points="1097.5,1105.7 1115.5,1114.7 1141.6,1082.2 1123.8,1073.4" fill="#00dfaf" stroke="#00dfaf"/>
<polygon points="1115.5,1114.7 1133.7,1123.3 1159.7,1090.6 1141.6,1082.2" fill="#00e1b0" stroke="#00e1b0"/>
<polygon points="1133.7,1123.3 1152.1,1131.4 1177.9,1098.6 1159.7,1090.6" fill="#00e3b1" stroke="#00e3b1"/>
<polygon points="1152.1,1131.4 1170.6,1139.2 1196.3,1106.4 1177.9,1098.6" fill="#00e5b2" stroke="#00e5b2"/>
<polygon points="1170.6,1139.2 1189.3,1146.6 1214.7,1113.8 1196.3,1106.4" fill="#00e8b4" stroke="#00e8b4"/>
<polygon points="1189.3,1146.6 1208.1,1153.8 1233.3,1121.0 1214.7,1113.8" fill="#00eab5" stroke="#00eab5"/>
<polygon points="1208.1,1153.8 1226.9,1160.7 1251.9,1128.0 1233.3,1121.0" fill="#00ecb6" stroke="#00ecb6"/>
<polygon points="1226.9,1160.7 1245.8,1167.4 1270.6,1134.9 1251.9,1128.0" fill="#00eeb7" stroke="#00eeb7"/>
<polygon points="1245.8,1167.4 1264.8,1174.0 1289.3,1141.6 1270.6,1134.9" fill="#00f0b8" stroke="#00f0b8"/>
<polygon points="882.0,805.5 887.6,823.8 904.4,802.6 897.6,784.9" fill="#009a70" stroke="#009a70"/>
<polygon points="887.6,823.8 894.1,841.8 912.1,819.9 904.4,802.6" fill="#009e73" stroke="#009e73"/>
<polygon points="894.1,841.8 901.6,859.5 920.7,836.9 912.1,819.9" fill="#00a276" stroke="#00a276"/>
<polygon points="901.6,859.5 910.1,876.8 930.3,853.5 920.7,836.9" fill="#00a77a" stroke="#00a77a"/>
<polygon points="910.1,876.8 919.5,893.7 940.6,869.6 930.3,853.5" fill="#00ab7d" stroke="#00ab7d"/>
<polygon points="919.5,893.7 929.9,910.1 951.8,885.2 940.6,869.6" fill="#00b080" stroke="#00b080"/>
<polygon points="929.9,910.1 941.0,926.1 963.7,900.4 951.8,885.2" fill="#00b484" stroke="#00b484"/>
<polygon points="941.0,926.1 953.0,941.5 976.3,915.0 963.7,900.4" fill="#00b887" stroke="#00b887"/>
<polygon points="953.0,941.5 965.7,956.3 989.6,929.0 976.3,915.0" fill="#00bd8a" stroke="#00bd8a"/>
<polygon points="965.7,956.3 979.1,970.6 1003.5,942.6 989.6,929.0" fill="#00c18e" stroke="#00c18e"/>
<polygon points="979.1,970.6 993.2,984.4 1018.0,955.6 1003.5,942.6" fill="#00c591" stroke="#00c591"/>
<polygon points="993.2,984.4 1007.9,997.5 1033.0,968.0 1018.0,955.6" fill="#00ca94" stroke="#00ca94"/>
<polygon points="1007.9,997.5 1023.1,1010.1 1048.5,980.0 1033.0,968.0" fill="#00ce98" stroke="#00ce98"/>
<polygon points="1023.1,1010.1 1038.9,1022.1 1064.5,991.3 1048.5,980.0" fill="#00d39b" stroke="#00d39b"/>
<polygon points="1038.9,1022.1 1055.1,1033.4 1080.8,1002.2 1064.5,991.3" fill="#00d69d" stroke="#00d69d"/>
<polygon points="1055.1,1033.4 1071.8,1044.2 1097.5,1012.5 1080.8,1002.2" fill="#00d89e" stroke="#00d89e"/>
<polygon points="1071.8,1044.2 1088.8,1054.5 1114.6,1022.3 1097.5,1012.5" fill="#00da9f" stroke="#00da9f"/>
<polygon points="1088.8,1054.5 1106.1,1064.2 1131.9,1031.7 1114.6,1022.3" fill="#00dca0" stroke="#00dca0"/>
<polygon points="1106.1,1064.2 1123.8,1073.4 1149.4,1040.7 1131.9,1031.7" fill="#00dea1" stroke="#00dea1"/>
<polygon points="1123.8,1073.4 1141.6,1082.2 1167.1,1049.3 1149.4,1040.7" fill="#00e0a2" stroke="#00e0a2"/>
<polygon points="1141.6,1082.2 1159.7,1090.6 1185.0,1057.5 1167.1,1049.3" fill="#00e3a3" stroke="#00e3a3"/>
<polygon points="1159.7,1090.6 1177.9,1098.6 1203.1,1065.4 1185.0,1057.5" fill="#00e5a4" stroke="#00e5a4"/>
<polygon points="1177.9,1098.6 1196.3,1106.4 1221.2,1073.1 1203.1,1065.4" fill="#00e7a5" stroke="#00e7a5"/>
<polygon points="1196.3,1106.4 1214.7,1113.8 1239.5,1080.5 1221.2,1073.1" fill="#00e9a6" stroke="#00e9a6"/>
<polygon points="1214.7,1113.8 1233.3,1121.0 1257.8,1087.7 1239.5,1080.5" fill="#00eba7" stroke="#00eba7"/>
<polygon points="1233.3,1121.0 1251.9,1128.0 1276.1,1094.8 1257.8,1087.7" fill="#00eda8" stroke="#00eda8"/>
<polygon points="1251.9,1128.0 1270.6,1134.9 1294.6,1101.7 1276.1,1094.8" fill="#00efa9" stroke="#00efa9"/>
<polygon points="1270.6,1134.9 1289.3,1141.6 1313.0,1108.6 1294.6,1101.7" fill="#00f2aa" stroke="#00f2aa"/>
<polygon points="897.6,784.9 904.4,802.6 920.8,781.1 912.8,764.0" fill="#009d60" stroke="#009d60"/>
<polygon points="904.4,802.6 912.1,819.9 929.7,797.8 920.8,781.1" fill="#00a163" stroke="#00a163"/>
<polygon points="912.1,819.9 920.7,836.9 939.5,814.0 929.7,797.8" fill="#00a566" stroke="#00a566"/>
<polygon points="920.7,836.9 930.3,853.5 950.0,829.8 939.5,814.0" fill="#00a96a" stroke="#00a96a"/>
<polygon points="930.3,853.5 940.6,869.6 961.3,845.2 950.0,829.8" fill="#00ae6d" stroke="#00ae6d"/>
<polygon points="940.6,869.6 951.8,885.2 973.3,860.0 961.3,845.2" fill="#00b270" stroke="#00b270"/>
<polygon points="951.8,885.2 963.7,900.4 985.9,874.3 973.3,860.0" fill="#00b674" stroke="#00b674"/>
<polygon points="963.7,900.4 976.3,915.0 999.2,888.1 985.9,874.3" fill="#00bb77" stroke="#00bb77"/>
<polygon points="976.3,915.0 989.6,929.0 1013.1,901.4 999.2,888.1" fill="#00bf7a" stroke="#00bf7a"/>
<polygon points="989.6,929.0 1003.5,942.6 1027.5,914.2 1013.1,901.4" fill="#00c37d" stroke="#00c37d"/>
<polygon points="1003.5,942.6 1018.0,955.6 1042.4,926.5 1027.5,914.2" fill="#00c780" stroke="#00c780"/>
<polygon points="1018.0,955.6 1033.0,968.0 1057.7,938.2 1042.4,926.5" fill="#00cc84" stroke="#00cc84"/>
<polygon points="1033.0,968.0 1048.5,980.0 1073.5,949.5 1057.7,938.2" fill="#00d087" stroke="#00d087"/>
<polygon points="1048.5,980.0 1064.5,991.3 1089.6,960.3 1073.5,949.5" fill="#00d48a" stroke="#00d48a"/>
<polygon points="1064.5,991.3 1080.8,1002.2 1106.0,970.6 1089.6,960.3" fill="#00d78c" stroke="#00d78c"/>
<polygon points="1080.8,1002.2 1097.5,1012.5 1122.8,980.4 1106.0,970.6" fill="#00d98d" stroke="#00d98d"/>
<polygon points="1097.5,1012.5 1114.6,1022.3 1139.8,989.8 1122.8,980.4" fill="#00dc8e" stroke="#00dc8e"/>
<polygon points="1114.6,1022.3 1131.9,1031.7 1157.0,998.9 1139.8,989.8" fill="#00de8f" stroke="#00de8f"/>
<polygon points="1131.9,1031.7 1149.4,1040.7 1174.4,1007.5 1157.0,998.9" fill="#00e090" stroke="#00e090"/>
<polygon points="1149.4,1040.7 1167.1,1049.3 1192.0,1015.9 1174.4,1007.5" fill="#00e291" stroke="#00e291"/>
<polygon points="1167.1,1049.3 1185.0,1057.5 1209.8,1023.9 1192.0,1015.9" fill="#00e491" stroke="#00e491"/>
<polygon points="1185.0,1057.5 1203.1,1065.4 1227.6,1031.7 1209.8,1023.9" fill="#00e692" stroke="#00e692"/>
<polygon points="1203.1,1065.4 1221.2,1073.1 1245.6,1039.3 1227.6,1031.7" fill="#00e893" stroke="#00e893"/>
<polygon points="1221.2,1073.1 1239.5,1080.5 1263.6,1046.7 1245.6,1039.3" fill="#00ea94" stroke="#00ea94"/>
<polygon points="1239.5,1080.5 1257.8,1087.7 1281.6,1054.0 1263.6,1046.7" fill="#00ec95" stroke="#00ec95"/>
<polygon points="1257.8,1087.7 1276.1,1094.8 1299.8,1061.1 1281.6,1054.0" fill="#00ef96" stroke="#00ef96"/>
<polygon points="1276.1,1094.8 1294.6,1101.7 1317.9,1068.2 1299.8,1061.1" fill="#00f197" stroke="#00f197"/>
<polygon points="1294.6,1101.7 1313.0,1108.6 1336.0,1075.2 1317.9,1068.2" fill="#00f397" stroke="#00f397"/>
<polygon points="912.8,764.0 920.8,781.1 936.9,759.3 927.6,742.9" fill="#00a050" stroke="#00a050"/>
<polygon points="920.8,781.1 929.7,797.8 947.0,775.3 936.9,759.3" fill="#00a453" stroke="#00a453"/>
<polygon points="929.7,797.8 939.5,814.0 957.8,790.9 947.0,775.3" fill="#00a857" stroke="#00a857"/>
<polygon points="939.5,814.0 950.0,829.8 969.4,805.9 957.8,790.9" fill="#00ac5a" stroke="#00ac5a"/>
<polygon points="950.0,829.8 961.3,845.2 981.6,820.5 969.4,805.9" fill="#00b05d" stroke="#00b05d"/>
<polygon points="961.3,845.2 973.3,860.0 994.4,834.5 981.6,820.5" fill="#00b460" stroke="#00b460"/>
<polygon points="973.3,860.0 985.9,874.3 1007.8,848.0 994.4,834.5" fill="#00b963" stroke="#00b963"/>
<polygon points="985.9,874.3 999.2,888.1 1021.7,861.0 1007.8,848.0" fill="#00bd66" stroke="#00bd66"/>
<polygon points="999.2,888.1 1013.1,901.4 1036.2,873.5 1021.7,861.0" fill="#00c16a" stroke="#00c16a"/>
<polygon points="1013.1,901.4 1027.5,914.2 1051.0,885.5 1036.2,873.5" fill="#00c56d" stroke="#00c56d"/>
<polygon points="1027.5,914.2 1042.4,926.5 1066.3,897.0 1051.0,885.5" fill="#00c970" stroke="#00c970"/>
<polygon points="1042.4,926.5 1057.7,938.2 1081.9,908.1 1066.3,897.0" fill="#00cd73" stroke="#00cd73"/>
<polygon points="1057.7,938.2 1073.5,949.5 1097.9,918.7 1081.9,908.1" fill="#00d276" stroke="#00d276"/>
<polygon points="1073.5,949.5 1089.6,960.3 1114.2,928.8 1097.9,918.7" fill="#00d67a" stroke="#00d67a"/>
<polygon points="1089.6,960.3 1106.0,970.6 1130.7,938.6 1114.2,928.8" fill="#00d97b" stroke="#00d97b"/>
<polygon points="1106.0,970.6 1122.8,980.4 1147.5,948.0 1130.7,938.6" fill="#00db7c" stroke="#00db7c"/>
<polygon points="1122.8,980.4 1139.8,989.8 1164.5,957.0 1147.5,948.0" fill="#00dd7d" stroke="#00dd7d"/>
<polygon points="1139.8,989.8 1157.0,998.9 1181.6,965.6 1164.5,957.0" fill="#00df7e" stroke="#00df7e"/>
<polygon points="1157.0,998.9 1174.4,1007.5 1199.0,974.0 1181.6,965.6" fill="#00e17e" stroke="#00e17e"/>
<polygon points="1174.4,1007.5 1192.0,1015.9 1216.4,982.1 1199.0,974.0" fill="#00e37f" stroke="#00e37f"/>
<polygon points="1192.0,1015.9 1209.8,1023.9 1234.0,990.0 1216.4,982.1" fill="#00e580" stroke="#00e580"/>
<polygon points="1209.8,1023.9 1227.6,1031.7 1251.6,997.7 1234.0,990.0" fill="#00e780" stroke="#00e780"/>
<polygon points="1227.6,1031.7 1245.6,1039.3 1269.3,1005.2 1251.6,997.7" fill="#00ea81" stroke="#00ea81"/>
<polygon points="1245.6,1039.3 1263.6,1046.7 1287.1,1012.6 1269.3,1005.2" fill="#00ec82" stroke="#00ec82"/>
<polygon points="1263.6,1046.7 1281.6,1054.0 1304.9,1019.8 1287.1,1012.6" fill="#00ee83" stroke="#00ee83"/>
<polygon points="1281.6,1054.0 1299.8,1061.1 1322.8,1027.0 1304.9,1019.8" fill="#00f083" stroke="#00f083"/>
<polygon points="1299.8,1061.1 1317.9,1068.2 1340.6,1034.2 1322.8,1027.0" fill="#00f284" stroke="#00f284"/>
<polygon points="1317.9,1068.2 1336.0,1075.2 1358.5,1041.3 1340.6,1034.2" fill="#00f485" stroke="#00f485"/>
<polygon points="927.6,742.9 936.9,759.3 952.7,737.4 942.2,721.6" fill="#00a340" stroke="#00a340"/>
<polygon points="936.9,759.3 947.0,775.3 964.0,752.7 952.7,737.4" fill="#00a744" stroke="#00a744"/>
<polygon points="947.0,775.3 957.8,790.9 975.9,767.5 964.0,752.7" fill="#00ab47" stroke="#00ab47"/>
<polygon points="957.8,790.9 969.4,805.9 988.4,781.8 975.9,767.5" fill="#00af4a" stroke="#00af4a"/>
<polygon points="969.4,805.9 981.6,820.5 1001.5,795.5 988.4,781.8" fill="#00b34d" stroke="#00b34d"/>
<polygon points="981.6,820.5 994.4,834.5 1015.1,808.8 1001.5,795.5" fill="#00b750" stroke="#00b750"/>
<polygon points="994.4,834.5 1007.8,848.0 1029.3,821.5 1015.1,808.8" fill="#00bb53" stroke="#00bb53"/>
<polygon points="1007.8,848.0 1021.7,861.0 1043.8,833.7 1029.3,821.5" fill="#00bf56" stroke="#00bf56"/>
<polygon points="1021.7,861.0 1036.2,873.5 1058.8,845.4 1043.8,833.7" fill="#00c359" stroke="#00c359"/>
<polygon points="1036.2,873.5 1051.0,885.5 1074.1,856.6 1058.8,845.4" fill="#00c75c" stroke="#00c75c"/>
<polygon points="1051.0,885.5 1066.3,897.0 1089.8,867.3 1074.1,856.6" fill="#00cb60" stroke="#00cb60"/>
<polygon points="1066.3,897.0 1081.9,908.1 1105.7,877.7 1089.8,867.3" fill="#00cf63" stroke="#00cf63"/>
<polygon points="1081.9,908.1 1097.9,918.7 1121.9,887.6 1105.7,877.7" fill="#00d366" stroke="#00d366"/>
<polygon points="1097.9,918.7 1114.2,928.8 1138.4,897.1 1121.9,887.6" fill="#00d769" stroke="#00d769"/>
<polygon points="1114.2,928.8 1130.7,938.6 1155.0,906.3 1138.4,897.1" fill="#00da6b" stroke="#00da6b"/>
<polygon points="1130.7,938.6 1147.5,948.0 1171.8,915.2 1155.0,906.3" fill="#00dc6b" stroke="#00dc6b"/>
<polygon points="1147.5,948.0 1164.5,957.0 1188.7,923.8 1171.8,915.2" fill="#00de6c" stroke="#00de6c"/>
<polygon points="1164.5,957.0 1181.6,965.6 1205.8,932.1 1188.7,923.8" fill="#00e16c" stroke="#00e16c"/>
<polygon points="1181.6,965.6 1199.0,974.0 1223.0,940.2 1205.8,932.1" fill="#00e36d" stroke="#00e36d"/>
<polygon points="1199.0,974.0 1216.4,982.1 1240.3,948.1 1223.0,940.2" fill="#00e56e" stroke="#00e56e"/>
<polygon points="1216.4,982.1 1234.0,990.0 1257.6,955.8 1240.3,948.1" fill="#00e76e" stroke="#00e76e"/>
<polygon points="1234.0,990.0 1251.6,997.7 1275.1,963.3 1257.6,955.8" fill="#00e96f" stroke="#00e96f"/>
<polygon points="1251.6,997.7 1269.3,1005.2 1292.6,970.7 1275.1,963.3" fill="#00eb6f" stroke="#00eb6f"/>
<polygon points="1269.3,1005.2 1287.1,1012.6 1310.1,978.1 1292.6,970.7" fill="#00ed70" stroke="#00ed70"/>
<polygon points="1287.1,1012.6 1304.9,1019.8 1327.6,985.3 1310.1,978.1" fill="#00ef70" stroke="#00ef70"/>
<polygon points="1304.9,1019.8 1322.8,1027.0 1345.2,992.6 1327.6,985.3" fill="#00f171" stroke="#00f171"/>
<polygon points="1322.8,1027.0 1340.6,1034.2 1362.8,999.8 1345.2,992.6" fill="#00f372" stroke="#00f372"/>
<polygon points="1340.6,1034.2 1358.5,1041.3 1380.3,1007.0 1362.8,999.8" fill="#00f572" stroke="#00f572"/>
<polygon points="942.2,721.6 952.7,737.4 965.2,718.7 954.2,703.4" fill="#00a534" stroke="#00a534"/>
<polygon points="952.7,737.4 964.0,752.7 976.9,733.6 965.2,718.7" fill="#00a937" stroke="#00a937"/>
<polygon points="964.0,752.7 975.9,767.5 989.2,747.9 976.9,733.6" fill="#00ad3a" stroke="#00ad3a"/>
<polygon points="975.9,767.5 988.4,781.8 1002.1,761.7 989.2,747.9" fill="#00b13c" stroke="#00b13c"/>
<polygon points="988.4,781.8 1001.5,795.5 1015.5,775.0 1002.1,761.7" fill="#00b53f" stroke="#00b53f"/>
<polygon points="1001.5,795.5 1015.1,808.8 1029.5,787.8 1015.5,775.0" fill="#00b842" stroke="#00b842"/>
<polygon points="1015.1,808.8 1029.3,821.5 1043.9,800.1 1029.5,787.8" fill="#00bc45" stroke="#00bc45"/>
<polygon points="1029.3,821.5 1043.8,833.7 1058.7,811.9 1043.9,800.1" fill="#00c047" stroke="#00c047"/>
<polygon points="1043.8,833.7 1058.8,845.4 1073.8,823.3 1058.7,811.9" fill="#00c44a" stroke="#00c44a"/>
<polygon points="1058.8,845.4 1074.1,856.6 1089.3,834.1 1073.8,823.3" fill="#00c84d" stroke="#00c84d"/>
<polygon points="1074.1,856.6 1089.8,867.3 1105.1,844.5 1089.3,834.1" fill="#00cc50" stroke="#00cc50"/>
<polygon points="1089.8,867.3 1105.7,877.7 1121.2,854.6 1105.1,844.5" fill="#00d053" stroke="#00d053"/>
<polygon points="1105.7,877.7 1121.9,887.6 1137.6,864.2 1121.2,854.6" fill="#00d355" stroke="#00d355"/>
<polygon points="1121.9,887.6 1138.4,897.1 1154.1,873.4 1137.6,864.2" fill="#00d758" stroke="#00d758"/>
<polygon points="1138.4,897.1 1155.0,906.3 1170.8,882.4 1154.1,873.4" fill="#00da5a" stroke="#00da5a"/>
<polygon points="1155.0,906.3 1171.8,915.2 1187.7,891.0 1170.8,882.4" fill="#00dc5a" stroke="#00dc5a"/>
<polygon points="1171.8,915.2 1188.7,923.8 1204.7,899.3 1187.7,891.0" fill="#00df5b" stroke="#00df5b"/>
<polygon points="1188.7,923.8 1205.8,932.1 1221.8,907.4 1204.7,899.3" fill="#00e15b" stroke="#00e15b"/>
<polygon points="1205.8,932.1 1223.0,940.2 1239.1,915.3 1221.8,907.4" fill="#00e35b" stroke="#00e35b"/>
<polygon points="1223.0,940.2 1240.3,948.1 1256.4,922.9 1239.1,915.3" fill="#00e55c" stroke="#00e55c"/>
<polygon points="1240.3,948.1 1257.6,955.8 1273.8,930.4 1256.4,922.9" fill="#00e75c" stroke="#00e75c"/>
<polygon points="1257.6,955.8 1275.1,963.3 1291.3,937.8 1273.8,930.4" fill="#00e95d" stroke="#00e95d"/>
<polygon points="1275.1,963.3 1292.6,970.7 1308.8,945.0 1291.3,937.8" fill="#00eb5d" stroke="#00eb5d"/>
<polygon points="1292.6,970.7 1310.1,978.1 1326.4,952.2 1308.8,945.0" fill="#00ee5e" stroke="#00ee5e"/>
<polygon points="1310.1,978.1 1327.6,985.3 1344.0,959.3 1326.4,952.2" fill="#00f05e" stroke="#00f05e"/>
<polygon points="1327.6,985.3 1345.2,992.6 1361.5,966.4 1344.0,959.3" fill="#00f25f" stroke="#00f25f"/>
<polygon points="1345.2,992.6 1362.8,999.8 1379.1,973.4 1361.5,966.4" fill="#00f45f" stroke="#00f45f"/>
<polygon points="1362.8,999.8 1380.3,1007.0 1396.7,980.5 1379.1,973.4" fill="#00f65f" stroke="#00f65f"/>
<polygon points="954.2,703.4 965.2,718.7 977.5,700.0 966.0,685.1" fill="#00a82b" stroke="#00a82b"/>
<polygon points="965.2,718.7 976.9,733.6 989.6,714.3 977.5,700.0" fill="#00ab2d" stroke="#00ab2d"/>
<polygon points="976.9,733.6 989.2,747.9 1002.4,728.2 989.6,714.3" fill="#00af2f" stroke="#00af2f"/>
<polygon points="989.2,747.9 1002.1,761.7 1015.6,741.5 1002.4,728.2" fill="#00b232" stroke="#00b232"/>
<polygon points="1002.1,761.7 1015.5,775.0 1029.4,754.4 1015.6,741.5" fill="#00b634" stroke="#00b634"/>
<polygon points="1015.5,775.0 1029.5,787.8 1043.6,766.8 1029.4,754.4" fill="#00b936" stroke="#00b936"/>
<polygon points="1029.5,787.8 1043.9,800.1 1058.2,778.7 1043.6,766.8" fill="#00bd38" stroke="#00bd38"/>
<polygon points="1043.9,800.1 1058.7,811.9 1073.2,790.1 1058.2,778.7" fill="#00c03a" stroke="#00c03a"/>
<polygon points="1058.7,811.9 1073.8,823.3 1088.6,801.0 1073.2,790.1" fill="#00c43c" stroke="#00c43c"/>
<polygon points="1073.8,823.3 1089.3,834.1 1104.3,811.5 1088.6,801.0" fill="#00c73f" stroke="#00c73f"/>
<polygon points="1089.3,834.1 1105.1,844.5 1120.3,821.6 1104.3,811.5" fill="#00cb41" stroke="#00cb41"/>
<polygon points="1105.1,844.5 1121.2,854.6 1136.5,831.3 1120.3,821.6" fill="#00cf43" stroke="#00cf43"/>
<polygon points="1121.2,854.6 1137.6,864.2 1152.9,840.6 1136.5,831.3" fill="#00d245" stroke="#00d245"/>
<polygon points="1137.6,864.2 1154.1,873.4 1169.5,849.6 1152.9,840.6" fill="#00d647" stroke="#00d647"/>
<polygon points="1154.1,873.4 1170.8,882.4 1186.4,858.2 1169.5,849.6" fill="#00d949" stroke="#00d949"/>
<polygon points="1170.8,882.4 1187.7,891.0 1203.3,866.6 1186.4,858.2" fill="#00db49" stroke="#00db49"/>
<polygon points="1187.7,891.0 1204.7,899.3 1220.4,874.7 1203.3,866.6" fill="#00dd49" stroke="#00dd49"/>
<polygon points="1204.7,899.3 1221.8,907.4 1237.6,882.6 1220.4,874.7" fill="#00e04a" stroke="#00e04a"/>
<polygon points="1221.8,907.4 1239.1,915.3 1254.9,890.2 1237.6,882.6" fill="#00e24a" stroke="#00e24a"/>
<polygon points="1239.1,915.3 1256.4,922.9 1272.3,897.7 1254.9,890.2" fill="#00e44a" stroke="#00e44a"/>
<polygon points="1256.4,922.9 1273.8,930.4 1289.7,905.0 1272.3,897.7" fill="#00e74b" stroke="#00e74b"/>
<polygon points="1273.8,930.4 1291.3,937.8 1307.2,912.1 1289.7,905.0" fill="#00e94b" stroke="#00e94b"/>
<polygon points="1291.3,937.8 1308.8,945.0 1324.8,919.2 1307.2,912.1" fill="#00eb4b" stroke="#00eb4b"/>
<polygon points="1308.8,945.0 1326.4,952.2 1342.4,926.2 1324.8,919.2" fill="#00ee4b" stroke="#00ee4b"/>
<polygon points="1326.4,952.2 1344.0,959.3 1360.0,933.1 1342.4,926.2" fill="#00f04c" stroke="#00f04c"/>
<polygon points="1344.0,959.3 1361.5,966.4 1377.6,940.0 1360.0,933.1" fill="#00f24c" stroke="#00f24c"/>
<polygon points="1361.5,966.4 1379.1,973.4 1395.2,946.9 1377.6,940.0" fill="#00f54c" stroke="#00f54c"/>
<polygon points="1379.1,973.4 1396.7,980.5 1412.8,953.9 1395.2,946.9" fill="#00f74d" stroke="#00f74d"/>
<polygon points="966.0,685.1 977.5,700.0 989.6,681.0 977.6,666.7" fill="#00aa22" stroke="#00aa22"/>
<polygon points="977.5,700.0 989.6,714.3 1002.2,694.9 989.6,681.0" fill="#00ad24" stroke="#00ad24"/>
<polygon points="989.6,714.3 1002.4,728.2 1015.3,708.3 1002.2,694.9" fill="#00b025" stroke="#00b025"/>
<polygon points="1002.4,728.2 1015.6,741.5 1028.9,721.2 1015.3,708.3" fill="#00b427" stroke="#00b427"/>
<polygon points="1015.6,741.5 1029.4,754.4 1042.9,733.6 1028.9,721.2" fill="#00b728" stroke="#00b728"/>
<polygon points="1029.4,754.4 1043.6,766.8 1057.4,745.6 1042.9,733.6" fill="#00ba2a" stroke="#00ba2a"/>
<polygon points="1043.6,766.8 1058.2,778.7 1072.3,757.0 1057.4,745.6" fill="#00bd2c" stroke="#00bd2c"/>
<polygon points="1058.2,778.7 1073.2,790.1 1087.6,768.0 1072.3,757.0" fill="#00c12d" stroke="#00c12d"/>
<polygon points="1073.2,790.1 1088.6,801.0 1103.1,778.6 1087.6,768.0" fill="#00c42f" stroke="#00c42f"/>
<polygon points="1088.6,801.0 1104.3,811.5 1119.0,788.8 1103.1,778.6" fill="#00c730" stroke="#00c730"/>
<polygon points="1104.3,811.5 1120.3,821.6 1135.1,798.5 1119.0,788.8" fill="#00ca32" stroke="#00ca32"/>
<polygon points="1120.3,821.6 1136.5,831.3 1151.5,807.9 1135.1,798.5" fill="#00ce34" stroke="#00ce34"/>
<polygon points="1136.5,831.3 1152.9,840.6 1168.0,816.9 1151.5,807.9" fill="#00d135" stroke="#00d135"/>
<polygon points="1152.9,840.6 1169.5,849.6 1184.8,825.6 1168.0,816.9" fill="#00d437" stroke="#00d437"/>
<polygon points="1169.5,849.6 1186.4,858.2 1201.7,834.0 1184.8,825.6" fill="#00d738" stroke="#00d738"/>
<polygon points="1186.4,858.2 1203.3,866.6 1218.7,842.1 1201.7,834.0" fill="#00d938" stroke="#00d938"/>
<polygon points="1203.3,866.6 1220.4,874.7 1235.8,849.9 1218.7,842.1" fill="#00dc38" stroke="#00dc38"/>
<polygon points="1220.4,874.7 1237.6,882.6 1253.1,857.5 1235.8,849.9" fill="#00de38" stroke="#00de38"/>
<polygon points="1237.6,882.6 1254.9,890.2 1270.5,865.0 1253.1,857.5" fill="#00e138" stroke="#00e138"/>
<polygon points="1254.9,890.2 1272.3,897.7 1287.9,872.2 1270.5,865.0" fill="#00e339" stroke="#00e339"/>
<polygon points="1272.3,897.7 1289.7,905.0 1305.4,879.3 1287.9,872.2" fill="#00e639" stroke="#00e639"/>
<polygon points="1289.7,905.0 1307.2,912.1 1322.9,886.3 1305.4,879.3" fill="#00e939" stroke="#00e939"/>
<polygon points="1307.2,912.1 1324.8,919.2 1340.5,893.2 1322.9,886.3" fill="#00eb39" stroke="#00eb39"/>
<polygon points="1324.8,919.2 1342.4,926.2 1358.1,900.0 1340.5,893.2" fill="#00ee39" stroke="#00ee39"/>
<polygon points="1342.4,926.2 1360.0,933.1 1375.7,906.7 1358.1,900.0" fill="#00f039" stroke="#00f039"/>
<polygon points="1360.0,933.1 1377.6,940.0 1393.4,913.5 1375.7,906.7" fill="#00f33a" stroke="#00f33a"/>
<polygon points="1377.6,940.0 1395.2,946.9 1411.0,920.2 1393.4,913.5" fill="#00f53a" stroke="#00f53a"/>
<polygon points="1395.2,946.9 1412.8,953.9 1428.6,927.0 1411.0,920.2" fill="#00f83a" stroke="#00f83a"/>
<polygon points="977.6,666.7 989.6,681.0 1001.4,662.0 989.0,648.2" fill="#00ac19" stroke="#00ac19"/>
<polygon points="989.6,681.0 1002.2,694.9 1014.4,675.4 1001.4,662.0" fill="#00af1a" stroke="#00af1a"/>
<polygon points="1002.2,694.9 1015.3,708.3 1027.9,688.3 1014.4,675.4" fill="#00b21b" stroke="#00b21b"/>
<polygon points="1015.3,708.3 1028.9,721.2 1041.9,700.7 1027.9,688.3" fill="#00b51c" stroke="#00b51c"/>
<polygon points="1028.9,721.2 1042.9,733.6 1056.3,712.7 1041.9,700.7" fill="#00b81d" stroke="#00b81d"/>
<polygon points="1042.9,733.6 1057.4,745.6 1071.1,724.2 1056.3,712.7" fill="#00bb1e" stroke="#00bb1e"/>
<polygon points="1057.4,745.6 1072.3,757.0 1086.2,735.3 1071.1,724.2" fill="#00be1f" stroke="#00be1f"/>
<polygon points="1072.3,757.0 1087.6,768.0 1101.7,745.9 1086.2,735.3" fill="#00c120" stroke="#00c120"/>
<polygon points="1087.6,768.0 1103.1,778.6 1117.5,756.1 1101.7,745.9" fill="#00c421" stroke="#00c421"/>
<polygon points="1103.1,778.6 1119.0,788.8 1133.5,765.9 1117.5,756.1" fill="#00c722" stroke="#00c722"/>
<polygon points="1119.0,788.8 1135.1,798.5 1149.7,775.3 1133.5,765.9" fill="#00ca23" stroke="#00ca23"/>
<polygon points="1135.1,798.5 1151.5,807.9 1166.2,784.3 1149.7,775.3" fill="#00cd24" stroke="#00cd24"/>
<polygon points="1151.5,807.9 1168.0,816.9 1182.9,793.0 1166.2,784.3" fill="#00cf25" stroke="#00cf25"/>
<polygon points="1168.0,816.9 1184.8,825.6 1199.7,801.4 1182.9,793.0" fill="#00d226" stroke="#00d226"/>
<polygon points="1184.8,825.6 1201.7,834.0 1216.7,809.5 1199.7,801.4" fill="#00d527" stroke="#00d527"/>
<polygon points="1201.7,834.0 1218.7,842.1 1233.8,817.4 1216.7,809.5" fill="#00d827" stroke="#00d827"/>
<polygon points="1218.7,842.1 1235.8,849.9 1251.0,825.0 1233.8,817.4" fill="#00db27" stroke="#00db27"/>
<polygon points="1235.8,849.9 1253.1,857.5 1268.3,832.4 1251.0,825.0" fill="#00dd27" stroke="#00dd27"/>
<polygon points="1253.1,857.5 1270.5,865.0 1285.7,839.6 1268.3,832.4" fill="#00e027" stroke="#00e027"/>
<polygon points="1270.5,865.0 1287.9,872.2 1303.2,846.6 1285.7,839.6" fill="#00e327" stroke="#00e327"/>
<polygon points="1287.9,872.2 1305.4,879.3 1320.7,853.5 1303.2,846.6" fill="#00e527" stroke="#00e527"/>
<polygon points="1305.4,879.3 1322.9,886.3 1338.3,860.3 1320.7,853.5" fill="#00e827" stroke="#00e827"/>
<polygon points="1322.9,886.3 1340.5,893.2 1355.9,867.0 1338.3,860.3" fill="#00eb27" stroke="#00eb27"/>
<polygon points="1340.5,893.2 1358.1,900.0 1373.6,873.6 1355.9,867.0" fill="#00ed27" stroke="#00ed27"/>
<polygon points="1358.1,900.0 1375.7,906.7 1391.2,880.2 1373.6,873.6" fill="#00f027" stroke="#00f027"/>
<polygon points="1375.7,906.7 1393.4,913.5 1408.9,886.8 1391.2,880.2" fill="#00f327" stroke="#00f327"/>
<polygon points="1393.4,913.5 1411.0,920.2 1426.5,893.3 1408.9,886.8" fill="#00f627" stroke="#00f627"/>
<polygon points="1411.0,920.2 1428.6,927.0 1444.1,900.0 1426.5,893.3" fill="#00f827" stroke="#00f827"/>
<polygon points="989.0,648.2 1001.4,662.0 1013.1,642.8 1000.1,629.5" fill="#00af12" stroke="#00af12"/>
<polygon points="1001.4,662.0 1014.4,675.4 1026.5,655.7 1013.1,642.8" fill="#00b112" stroke="#00b112"/>
<polygon points="1014.4,675.4 1027.9,688.3 1040.4,668.1 1026.5,655.7" fill="#00b413" stroke="#00b413"/>
<polygon points="1027.9,688.3 1041.9,700.7 1054.7,680.1 1040.4,668.1" fill="#00b714" stroke="#00b714"/>
<polygon points="1041.9,700.7 1056.3,712.7 1069.4,691.6 1054.7,680.1" fill="#00b914" stroke="#00b914"/>
<polygon points="1056.3,712.7 1071.1,724.2 1084.5,702.7 1069.4,691.6" fill="#00bc15" stroke="#00bc15"/>
<polygon points="1071.1,724.2 1086.2,735.3 1099.9,713.4 1084.5,702.7" fill="#00bf16" stroke="#00bf16"/>
<polygon points="1086.2,735.3 1101.7,745.9 1115.6,723.6 1099.9,713.4" fill="#00c216" stroke="#00c216"/>
<polygon points="1101.7,745.9 1117.5,756.1 1131.5,733.4 1115.6,723.6" fill="#00c417" stroke="#00c417"/>
<polygon points="1117.5,756.1 1133.5,765.9 1147.7,742.8 1131.5,733.4" fill="#00c717" stroke="#00c717"/>
<polygon points="1133.5,765.9 1149.7,775.3 1164.1,751.9 1147.7,742.8" fill="#00ca18" stroke="#00ca18"/>
<polygon points="1149.7,775.3 1166.2,784.3 1180.8,760.6 1164.1,751.9" fill="#00cc19" stroke="#00cc19"/>
<polygon points="1166.2,784.3 1182.9,793.0 1197.5,769.0 1180.8,760.6" fill="#00cf19" stroke="#00cf19"/>
<polygon points="1182.9,793.0 1199.7,801.4 1214.5,777.1 1197.5,769.0" fill="#00d21a" stroke="#00d21a"/>
<polygon points="1199.7,801.4 1216.7,809.5 1231.5,785.0 1214.5,777.1" fill="#00d51a" stroke="#00d51a"/>
<polygon points="1216.7,809.5 1233.8,817.4 1248.7,792.5 1231.5,785.0" fill="#00d71a" stroke="#00d71a"/>
<polygon points="1233.8,817.4 1251.0,825.0 1266.0,799.9 1248.7,792.5" fill="#00da1a" stroke="#00da1a"/>
<polygon points="1251.0,825.0 1268.3,832.4 1283.3,807.1 1266.0,799.9" fill="#00dd1a" stroke="#00dd1a"/>
<polygon points="1268.3,832.4 1285.7,839.6 1300.8,814.0 1283.3,807.1" fill="#00e01a" stroke="#00e01a"/>
<polygon points="1285.7,839.6 1303.2,846.6 1318.3,820.9 1300.8,814.0" fill="#00e21a" stroke="#00e21a"/>
<polygon points="1303.2,846.6 1320.7,853.5 1335.9,827.5 1318.3,820.9" fill="#00e51a" stroke="#00e51a"/>
<polygon points="1320.7,853.5 1338.3,860.3 1353.5,834.1 1335.9,827.5" fill="#00e81a" stroke="#00e81a"/>
<polygon points="1338.3,860.3 1355.9,867.0 1371.1,840.6 1353.5,834.1" fill="#00eb1a" stroke="#00eb1a"/>
<polygon points="1355.9,867.0 1373.6,873.6 1388.7,847.1 1371.1,840.6" fill="#00ee1a" stroke="#00ee1a"/>
<polygon points="1373.6,873.6 1391.2,880.2 1406.4,853.5 1388.7,847.1" fill="#00f01a" stroke="#00f01a"/>
<polygon points="1391.2,880.2 1408.9,886.8 1424.1,859.9 1406.4,853.5" fill="#00f31a" stroke="#00f31a"/>
<polygon points="1408.9,886.8 1426.5,893.3 1441.7,866.3 1424.1,859.9" fill="#00f61a" stroke="#00f61a"/>
<polygon points="1426.5,893.3 1444.1,900.0 1459.4,872.8 1441.7,866.3" fill="#00f91a" stroke="#00f91a"/>
<polygon points="1000.1,629.5 1013.1,642.8 1024.5,623.5 1011.1,610.7" fill="#00b10d" stroke="#00b10d"/>
<polygon points="1013.1,642.8 1026.5,655.7 1038.4,635.9 1024.5,623.5" fill="#00b40d" stroke="#00b40d"/>
<polygon points="1026.5,655.7 1040.4,668.1 1052.7,647.9 1038.4,635.9" fill="#00b60e" stroke="#00b60e"/>
<polygon points="1040.4,668.1 1054.7,680.1 1067.4,659.4 1052.7,647.9" fill="#00b90e" stroke="#00b90e"/>
<polygon points="1054.7,680.1 1069.4,691.6 1082.4,670.5 1067.4,659.4" fill="#00bb0f" stroke="#00bb0f"/>
<polygon points="1069.4,691.6 1084.5,702.7 1097.7,681.1 1082.4,670.5" fill="#00be0f" stroke="#00be0f"/>
<polygon points="1084.5,702.7 1099.9,713.4 1113.4,691.3 1097.7,681.1" fill="#00c00f" stroke="#00c00f"/>
<polygon points="1099.9,713.4 1115.6,723.6 1129.3,701.2 1113.4,691.3" fill="#00c310" stroke="#00c310"/>
<polygon points="1115.6,723.6 1131.5,733.4 1145.4,710.6 1129.3,701.2" fill="#00c510" stroke="#00c510"/>
<polygon points="1131.5,733.4 1147.7,742.8 1161.8,719.7 1145.4,710.6" fill="#00c811" stroke="#00c811"/>
<polygon points="1147.7,742.8 1164.1,751.9 1178.3,728.4 1161.8,719.7" fill="#00ca11" stroke="#00ca11"/>
<polygon points="1164.1,751.9 1180.8,760.6 1195.0,736.8 1178.3,728.4" fill="#00cd12" stroke="#00cd12"/>
<polygon points="1180.8,760.6 1197.5,769.0 1211.9,744.9 1195.0,736.8" fill="#00d012" stroke="#00d012"/>
<polygon points="1197.5,769.0 1214.5,777.1 1229.0,752.7 1211.9,744.9" fill="#00d213" stroke="#00d213"/>
<polygon points="1214.5,777.1 1231.5,785.0 1246.1,760.3 1229.0,752.7" fill="#00d513" stroke="#00d513"/>
<polygon points="1231.5,785.0 1248.7,792.5 1263.3,767.6 1246.1,760.3" fill="#00d813" stroke="#00d813"/>
<polygon points="1248.7,792.5 1266.0,799.9 1280.7,774.7 1263.3,767.6" fill="#00da13" stroke="#00da13"/>
<polygon points="1266.0,799.9 1283.3,807.1 1298.1,781.6 1280.7,774.7" fill="#00dd13" stroke="#00dd13"/>
<polygon points="1283.3,807.1 1300.8,814.0 1315.6,788.4 1298.1,781.6" fill="#00e013" stroke="#00e013"/>
<polygon points="1300.8,814.0 1318.3,820.9 1333.1,795.0 1315.6,788.4" fill="#00e313" stroke="#00e313"/>
<polygon points="1318.3,820.9 1335.9,827.5 1350.7,801.5 1333.1,795.0" fill="#00e513" stroke="#00e513"/>
<polygon points="1335.9,827.5 1353.5,834.1 1368.3,807.8 1350.7,801.5" fill="#00e813" stroke="#00e813"/>
<polygon points="1353.5,834.1 1371.1,840.6 1386.0,814.2 1368.3,807.8" fill="#00eb13" stroke="#00eb13"/>
<polygon points="1371.1,840.6 1388.7,847.1 1403.7,820.4 1386.0,814.2" fill="#00ee13" stroke="#00ee13"/>
<polygon points="1388.7,847.1 1406.4,853.5 1421.4,826.7 1403.7,820.4" fill="#00f013" stroke="#00f013"/>
<polygon points="1406.4,853.5 1424.1,859.9 1439.0,832.9 1421.4,826.7" fill="#00f313" stroke="#00f313"/>
<polygon points="1424.1,859.9 1441.7,866.3 1456.7,839.2 1439.0,832.9" fill="#00f613" stroke="#00f613"/>
<polygon points="1441.7,866.3 1459.4,872.8 1474.4,845.5 1456.7,839.2" fill="#00f913" stroke="#00f913"/>
<polygon points="1011.1,610.7 1024.5,623.5 1035.8,604.1 1021.9,591.8" fill="#00b308" stroke="#00b308"/>
<polygon points="1024.5,623.5 1038.4,635.9 1050.1,616.0 1035.8,604.1" fill="#00b608" stroke="#00b608"/>
<polygon points="1038.4,635.9 1052.7,647.9 1064.8,627.5 1050.1,616.0" fill="#00b808" stroke="#00b808"/>
<polygon points="1052.7,647.9 1067.4,659.4 1079.8,638.6 1064.8,627.5" fill="#00bb08" stroke="#00bb08"/>
<polygon points="1067.4,659.4 1082.4,670.5 1095.1,649.2 1079.8,638.6" fill="#00bd09" stroke="#00bd09"/>
<polygon points="1082.4,670.5 1097.7,681.1 1110.7,659.4 1095.1,649.2" fill="#00bf09" stroke="#00bf09"/>
<polygon points="1097.7,681.1 1113.4,691.3 1126.6,669.2 1110.7,659.4" fill="#00c209" stroke="#00c209"/>
<polygon points="1113.4,691.3 1129.3,701.2 1142.7,678.6 1126.6,669.2" fill="#00c40a" stroke="#00c40a"/>
<polygon points="1129.3,701.2 1145.4,710.6 1159.0,687.7 1142.7,678.6" fill="#00c70a" stroke="#00c70a"/>
<polygon points="1145.4,710.6 1161.8,719.7 1175.6,696.4 1159.0,687.7" fill="#00c90a" stroke="#00c90a"/>
<polygon points="1161.8,719.7 1178.3,728.4 1192.3,704.8 1175.6,696.4" fill="#00cb0a" stroke="#00cb0a"/>
<polygon points="1178.3,728.4 1195.0,736.8 1209.1,712.8 1192.3,704.8" fill="#00ce0b" stroke="#00ce0b"/>
<polygon points="1195.0,736.8 1211.9,744.9 1226.1,720.6 1209.1,712.8" fill="#00d00b" stroke="#00d00b"/>
<polygon points="1211.9,744.9 1229.0,752.7 1243.2,728.1 1226.1,720.6" fill="#00d20b" stroke="#00d20b"/>
<polygon points="1229.0,752.7 1246.1,760.3 1260.5,735.4 1243.2,728.1" fill="#00d50b" stroke="#00d50b"/>
<polygon points="1246.1,760.3 1263.3,767.6 1277.8,742.5 1260.5,735.4" fill="#00d80b" stroke="#00d80b"/>
<polygon points="1263.3,767.6 1280.7,774.7 1295.2,749.3 1277.8,742.5" fill="#00da0b" stroke="#00da0b"/>
<polygon points="1280.7,774.7 1298.1,781.6 1312.6,756.0 1295.2,749.3" fill="#00dd0b" stroke="#00dd0b"/>
<polygon points="1298.1,781.6 1315.6,788.4 1330.2,762.6 1312.6,756.0" fill="#00e00b" stroke="#00e00b"/>
<polygon points="1315.6,788.4 1333.1,795.0 1347.7,769.0 1330.2,762.6" fill="#00e30b" stroke="#00e30b"/>
<polygon points="1333.1,795.0 1350.7,801.5 1365.4,775.2 1347.7,769.0" fill="#00e50b" stroke="#00e50b"/>
<polygon points="1350.7,801.5 1368.3,807.8 1383.0,781.4 1365.4,775.2" fill="#00e80b" stroke="#00e80b"/>
<polygon points="1368.3,807.8 1386.0,814.2 1400.7,787.6 1383.0,781.4" fill="#00eb0b" stroke="#00eb0b"/>
<polygon points="1386.0,814.2 1403.7,820.4 1418.4,793.6 1400.7,787.6" fill="#00ee0b" stroke="#00ee0b"/>
<polygon points="1403.7,820.4 1421.4,826.7 1436.1,799.7 1418.4,793.6" fill="#00f00b" stroke="#00f00b"/>
<polygon points="1421.4,826.7 1439.0,832.9 1453.8,805.8 1436.1,799.7" fill="#00f30b" stroke="#00f30b"/>
<polygon points="1439.0,832.9 1456.7,839.2 1471.4,811.9 1453.8,805.8" fill="#00f60b" stroke="#00f60b"/>
<polygon points="1456.7,839.2 1474.4,845.5 1489.1,818.0 1471.4,811.9" fill="#00f90b" stroke="#00f90b"/>
<polygon points="1021.9,591.8 1035.8,604.1 1038.0,600.2 1024.0,588.0" fill="#00b505" stroke="#00b505"/>
<polygon points="1035.8,604.1 1050.1,616.0 1052.4,612.1 1038.0,600.2" fill="#00b705" stroke="#00b705"/>
<polygon points="1050.1,616.0 1064.8,627.5 1067.2,623.4 1052.4,612.1" fill="#00b905" stroke="#00b905"/>
<polygon points="1064.8,627.5 1079.8,638.6 1082.2,634.4 1067.2,623.4" fill="#00bc05" stroke="#00bc05"/>
<polygon points="1079.8,638.6 1095.1,649.2 1097.6,644.9 1082.2,634.4" fill="#00be05" stroke="#00be05"/>
<polygon points="1095.1,649.2 1110.7,659.4 1113.3,655.0 1097.6,644.9" fill="#00c005" stroke="#00c005"/>
<polygon points="1110.7,659.4 1126.6,669.2 1129.2,664.7 1113.3,655.0" fill="#00c306" stroke="#00c306"/>
<polygon points="1126.6,669.2 1142.7,678.6 1145.4,674.1 1129.2,664.7" fill="#00c506" stroke="#00c506"/>
<polygon points="1142.7,678.6 1159.0,687.7 1161.8,683.1 1145.4,674.1" fill="#00c706" stroke="#00c706"/>
<polygon points="1159.0,687.7 1175.6,696.4 1178.3,691.7 1161.8,683.1" fill="#00c906" stroke="#00c906"/>
<polygon points="1175.6,696.4 1192.3,704.8 1195.0,700.0 1178.3,691.7" fill="#00cc06" stroke="#00cc06"/>
<polygon points="1192.3,704.8 1209.1,712.8 1211.9,708.0 1195.0,700.0" fill="#00ce06" stroke="#00ce06"/>
<polygon points="1209.1,712.8 1226.1,720.6 1228.9,715.8 1211.9,708.0" fill="#00d007" stroke="#00d007"/>
<polygon points="1226.1,720.6 1243.2,728.1 1246.1,723.2 1228.9,715.8" fill="#00d307" stroke="#00d307"/>
<polygon points="1243.2,728.1 1260.5,735.4 1263.3,730.5 1246.1,723.2" fill="#00d507" stroke="#00d507"/>
<polygon points="1260.5,735.4 1277.8,742.5 1280.6,737.5 1263.3,730.5" fill="#00d807" stroke="#00d807"/>
<polygon points="1277.8,742.5 1295.2,749.3 1298.0,744.3 1280.6,737.5" fill="#00db07" stroke="#00db07"/>
<polygon points="1295.2,749.3 1312.6,756.0 1315.5,750.9 1298.0,744.3" fill="#00dd07" stroke="#00dd07"/>
<polygon points="1312.6,756.0 1330.2,762.6 1333.0,757.4 1315.5,750.9" fill="#00e007" stroke="#00e007"/>
<polygon points="1330.2,762.6 1347.7,769.0 1350.6,763.7 1333.0,757.4" fill="#00e307" stroke="#00e307"/>
<polygon points="1347.7,769.0 1365.4,775.2 1368.2,770.0 1350.6,763.7" fill="#00e607" stroke="#00e607"/>
<polygon points="1365.4,775.2 1383.0,781.4 1385.9,776.1 1368.2,770.0" fill="#00e807" stroke="#00e807"/>
<polygon points="1383.0,781.4 1400.7,787.6 1403.6,782.2 1385.9,776.1" fill="#00eb07" stroke="#00eb07"/>
<polygon points="1400.7,787.6 1418.4,793.6 1421.3,788.3 1403.6,782.2" fill="#00ee07" stroke="#00ee07"/>
<polygon points="1418.4,793.6 1436.1,799.7 1439.0,794.3 1421.3,788.3" fill="#00f007" stroke="#00f007"/>
<polygon points="1436.1,799.7 1453.8,805.8 1456.7,800.3 1439.0,794.3" fill="#00f307" stroke="#00f307"/>
<polygon points="1453.8,805.8 1471.4,811.9 1474.4,806.4 1456.7,800.3" fill="#00f607" stroke="#00f607"/>
<polygon points="1471.4,811.9 1489.1,818.0 1492.0,812.5 1474.4,806.4" fill="#00f907" stroke="#00f907"/>
<polygon points="1024.0,588.0 1038.0,600.2 1054.3,587.8 1040.2,576.1" fill="#00b602" stroke="#00b602"/>
<polygon points="1038.0,600.2 1052.4,612.1 1068.8,599.1 1054.3,587.8" fill="#00b802" stroke="#00b802"/>
<polygon points="1052.4,612.1 1067.2,623.4 1083.5,610.0 1068.8,599.1" fill="#00bb02" stroke="#00bb02"/>
<polygon points="1067.2,623.4 1082.2,634.4 1098.6,620.4 1083.5,610.0" fill="#00bd02" stroke="#00bd02"/>
<polygon points="1082.2,634.4 1097.6,644.9 1114.0,630.5 1098.6,620.4" fill="#00bf02" stroke="#00bf02"/>
<polygon points="1097.6,644.9 1113.3,655.0 1129.6,640.1 1114.0,630.5" fill="#00c102" stroke="#00c102"/>
<polygon points="1113.3,655.0 1129.2,664.7 1145.4,649.4 1129.6,640.1" fill="#00c302" stroke="#00c302"/>
<polygon points="1129.2,664.7 1145.4,674.1 1161.5,658.3 1145.4,649.4" fill="#00c603" stroke="#00c603"/>
<polygon points="1145.4,674.1 1161.8,683.1 1177.7,666.9 1161.5,658.3" fill="#00c803" stroke="#00c803"/>
<polygon points="1161.8,683.1 1178.3,691.7 1194.1,675.1 1177.7,666.9" fill="#00ca03" stroke="#00ca03"/>
<polygon points="1178.3,691.7 1195.0,700.0 1210.7,683.0 1194.1,675.1" fill="#00cc03" stroke="#00cc03"/>
<polygon points="1195.0,700.0 1211.9,708.0 1227.4,690.6 1210.7,683.0" fill="#00ce03" stroke="#00ce03"/>
<polygon points="1211.9,708.0 1228.9,715.8 1244.2,698.0 1227.4,690.6" fill="#00d103" stroke="#00d103"/>
<polygon points="1228.9,715.8 1246.1,723.2 1261.2,705.1 1244.2,698.0" fill="#00d303" stroke="#00d303"/>
<polygon points="1246.1,723.2 1263.3,730.5 1278.2,712.0 1261.2,705.1" fill="#00d503" stroke="#00d503"/>
<polygon points="1263.3,730.5 1280.6,737.5 1295.3,718.7 1278.2,712.0" fill="#00d803" stroke="#00d803"/>
<polygon points="1280.6,737.5 1298.0,744.3 1312.5,725.2 1295.3,718.7" fill="#00db03" stroke="#00db03"/>
<polygon points="1298.0,744.3 1315.5,750.9 1329.7,731.5 1312.5,725.2" fill="#00dd03" stroke="#00dd03"/>
<polygon points="1315.5,750.9 1333.0,757.4 1347.0,737.7 1329.7,731.5" fill="#00e003" stroke="#00e003"/>
<polygon points="1333.0,757.4 1350.6,763.7 1364.3,743.7 1347.0,737.7" fill="#00e303" stroke="#00e303"/>
<polygon points="1350.6,763.7 1368.2,770.0 1381.7,749.7 1364.3,743.7" fill="#00e603" stroke="#00e603"/>
<polygon points="1368.2,770.0 1385.9,776.1 1399.1,755.6 1381.7,749.7" fill="#00e803" stroke="#00e803"/>
<polygon points="1385.9,776.1 1403.6,782.2 1416.5,761.4 1399.1,755.6" fill="#00eb03" stroke="#00eb03"/>
<polygon points="1403.6,782.2 1421.3,788.3 1433.9,767.2 1416.5,761.4" fill="#00ee03" stroke="#00ee03"/>
<polygon points="1421.3,788.3 1439.0,794.3 1451.4,773.0 1433.9,767.2" fill="#00f003" stroke="#00f003"/>
<polygon points="1439.0,794.3 1456.7,800.3 1468.8,778.7 1451.4,773.0" fill="#00f303" stroke="#00f303"/>
<polygon points="1456.7,800.3 1474.4,806.4 1486.2,784.5 1468.8,778.7" fill="#00f603" stroke="#00f603"/>
<polygon points="1474.4,806.4 1492.0,812.5 1503.6,790.4 1486.2,784.5" fill="#00f903" stroke="#00f903"/>
<polygon points="1040.2,576.1 1054.3,587.8 1073.4,573.3 1059.3,562.2" fill="#00b900" stroke="#00b900"/>
<polygon points="1054.3,587.8 1068.8,599.1 1087.9,583.9 1073.4,573.3" fill="#00bb00" stroke="#00bb00"/>
<polygon points="1068.8,599.1 1083.5,610.0 1102.6,594.2 1087.9,583.9" fill="#00bd00" stroke="#00bd00"/>
<polygon points="1083.5,610.0 1098.6,620.4 1117.5,604.1 1102.6,594.2" fill="#00bf00" stroke="#00bf00"/>
<polygon points="1098.6,620.4 1114.0,630.5 1132.8,613.6 1117.5,604.1" fill="#00c100" stroke="#00c100"/>
<polygon points="1114.0,630.5 1129.6,640.1 1148.2,622.7 1132.8,613.6" fill="#00c300" stroke="#00c300"/>
<polygon points="1129.6,640.1 1145.4,649.4 1163.9,631.5 1148.2,622.7" fill="#00c600" stroke="#00c600"/>
<polygon points="1145.4,649.4 1161.5,658.3 1179.8,639.9 1163.9,631.5" fill="#00c800" stroke="#00c800"/>
<polygon points="1161.5,658.3 1177.7,666.9 1195.8,648.1 1179.8,639.9" fill="#00ca00" stroke="#00ca00"/>
<polygon points="1177.7,666.9 1194.1,675.1 1212.0,655.9 1195.8,648.1" fill="#00cc00" stroke="#00cc00"/>
<polygon points="1194.1,675.1 1210.7,683.0 1228.3,663.4 1212.0,655.9" fill="#00ce00" stroke="#00ce00"/>
<polygon points="1210.7,683.0 1227.4,690.6 1244.8,670.6 1228.3,663.4" fill="#00d000" stroke="#00d000"/>
<polygon points="1227.4,690.6 1244.2,698.0 1261.3,677.6 1244.8,670.6" fill="#00d200" stroke="#00d200"/>
<polygon points="1244.2,698.0 1261.2,705.1 1278.0,684.4 1261.3,677.6" fill="#00d400" stroke="#00d400"/>
<polygon points="1261.2,705.1 1278.2,712.0 1294.7,690.9 1278.0,684.4" fill="#00d700" stroke="#00d700"/>
<polygon points="1278.2,712.0 1295.3,718.7 1311.5,697.3 1294.7,690.9" fill="#00d900" stroke="#00d900"/>
<polygon points="1295.3,718.7 1312.5,725.2 1328.4,703.5 1311.5,697.3" fill="#00dc00" stroke="#00dc00"/>
<polygon points="1312.5,725.2 1329.7,731.5 1345.4,709.5 1328.4,703.5" fill="#00df00" stroke="#00df00"/>
<polygon points="1329.7,731.5 1347.0,737.7 1362.3,715.4 1345.4,709.5" fill="#00e100" stroke="#00e100"/>
<polygon points="1347.0,737.7 1364.3,743.7 1379.4,721.2 1362.3,715.4" fill="#00e400" stroke="#00e400"/>
<polygon points="1364.3,743.7 1381.7,749.7 1396.4,727.0 1379.4,721.2" fill="#00e600" stroke="#00e600"/>
<polygon points="1381.7,749.7 1399.1,755.6 1413.5,732.6 1396.4,727.0" fill="#00e900" stroke="#00e900"/>
<polygon points="1399.1,755.6 1416.5,761.4 1430.6,738.2 1413.5,732.6" fill="#00ec00" stroke="#00ec00"/>
<polygon points="1416.5,761.4 1433.9,767.2 1447.7,743.8 1430.6,738.2" fill="#00ee00" stroke="#00ee00"/>
<polygon points="1433.9,767.2 1451.4,773.0 1464.8,749.4 1447.7,743.8" fill="#00f100" stroke="#00f100"/>
<polygon points="1451.4,773.0 1468.8,778.7 1481.9,754.9 1464.8,749.4" fill="#00f300" stroke="#00f300"/>
<polygon points="1468.8,778.7 1486.2,784.5 1499.0,760.5 1481.9,754.9" fill="#00f600" stroke="#00f600"/>
<polygon points="1486.2,784.5 1503.6,790.4 1516.1,766.2 1499.0,760.5" fill="#00f900" stroke="#00f900"/>
<polygon points="1059.3,562.2 1073.4,573.3 1092.7,558.9 1078.7,548.5" fill="#00bc00" stroke="#00bc00"/>
<polygon points="1073.4,573.3 1087.9,583.9 1107.1,569.0 1092.7,558.9" fill="#00be00" stroke="#00be00"/>
<polygon points="1087.9,583.9 1102.6,594.2 1121.7,578.7 1107.1,569.0" fill="#00c100" stroke="#00c100"/>
<polygon points="1102.6,594.2 1117.5,604.1 1136.5,588.0 1121.7,578.7" fill="#00c300" stroke="#00c300"/>
<polygon points="1117.5,604.1 1132.8,613.6 1151.6,596.9 1136.5,588.0" fill="#00c500" stroke="#00c500"/>
<polygon points="1132.8,613.6 1148.2,622.7 1166.9,605.5 1151.6,596.9" fill="#00c700" stroke="#00c700"/>
<polygon points="1148.2,622.7 1163.9,631.5 1182.4,613.8 1166.9,605.5" fill="#00c900" stroke="#00c900"/>
<polygon points="1163.9,631.5 1179.8,639.9 1198.1,621.7 1182.4,613.8" fill="#00cb00" stroke="#00cb00"/>
<polygon points="1179.8,639.9 1195.8,648.1 1213.9,629.4 1198.1,621.7" fill="#00cd00" stroke="#00cd00"/>
<polygon points="1195.8,648.1 1212.0,655.9 1229.9,636.7 1213.9,629.4" fill="#00cf00" stroke="#00cf00"/>
<polygon points="1212.0,655.9 1228.3,663.4 1245.9,643.8 1229.9,636.7" fill="#00d100" stroke="#00d100"/>
<polygon points="1228.3,663.4 1244.8,670.6 1262.1,650.7 1245.9,643.8" fill="#00d300" stroke="#00d300"/>
<polygon points="1244.8,670.6 1261.3,677.6 1278.4,657.3 1262.1,650.7" fill="#00d500" stroke="#00d500"/>
<polygon points="1261.3,677.6 1278.0,684.4 1294.8,663.7 1278.4,657.3" fill="#00d700" stroke="#00d700"/>
<polygon points="1278.0,684.4 1294.7,690.9 1311.2,669.9 1294.8,663.7" fill="#00d900" stroke="#00d900"/>
<polygon points="1294.7,690.9 1311.5,697.3 1327.8,675.9 1311.2,669.9" fill="#00dc00" stroke="#00dc00"/>
<polygon points="1311.5,697.3 1328.4,703.5 1344.3,681.8 1327.8,675.9" fill="#00de00" stroke="#00de00"/>
<polygon points="1328.4,703.5 1345.4,709.5 1361.0,687.6 1344.3,681.8" fill="#00e100" stroke="#00e100"/>
<polygon points="1345.4,709.5 1362.3,715.4 1377.6,693.2 1361.0,687.6" fill="#00e300" stroke="#00e300"/>
<polygon points="1362.3,715.4 1379.4,721.2 1394.3,698.7 1377.6,693.2" fill="#00e500" stroke="#00e500"/>
<polygon points="1379.4,721.2 1396.4,727.0 1411.1,704.2 1394.3,698.7" fill="#00e800" stroke="#00e800"/>
<polygon points="1396.4,727.0 1413.5,732.6 1427.8,709.6 1411.1,704.2" fill="#00ea00" stroke="#00ea00"/>
<polygon points="1413.5,732.6 1430.6,738.2 1444.6,715.0 1427.8,709.6" fill="#00ed00" stroke="#00ed00"/>
<polygon points="1430.6,738.2 1447.7,743.8 1461.4,720.3 1444.6,715.0" fill="#00ef00" stroke="#00ef00"/>
<polygon points="1447.7,743.8 1464.8,749.4 1478.1,725.7 1461.4,720.3" fill="#00f200" stroke="#00f200"/>
<polygon points="1464.8,749.4 1481.9,754.9 1494.9,731.1 1478.1,725.7" fill="#00f400" stroke="#00f400"/>
<polygon points="1481.9,754.9 1499.0,760.5 1511.6,736.5 1494.9,731.1" fill="#00f600" stroke="#00f600"/>
<polygon points="1499.0,760.5 1516.1,766.2 1528.4,741.9 1511.6,736.5" fill="#00f900" stroke="#00f900"/>
<polygon points="1078.7,548.5 1092.7,558.9 1112.1,544.8 1098.1,535.0" fill="#00c000" stroke="#00c000"/>
<polygon points="1092.7,558.9 1107.1,569.0 1126.4,554.2 1112.1,544.8" fill="#00c200" stroke="#00c200"/>
<polygon points="1107.1,569.0 1121.7,578.7 1140.9,563.3 1126.4,554.2" fill="#00c400" stroke="#00c400"/>
<polygon points="1121.7,578.7 1136.5,588.0 1155.7,572.0 1140.9,563.3" fill="#00c600" stroke="#00c600"/>
<polygon points="1136.5,588.0 1151.6,596.9 1170.6,580.4 1155.7,572.0" fill="#00c800" stroke="#00c800"/>
<polygon points="1151.6,596.9 1166.9,605.5 1185.7,588.4 1170.6,580.4" fill="#00ca00" stroke="#00ca00"/>
<polygon points="1166.9,605.5 1182.4,613.8 1201.0,596.2 1185.7,588.4" fill="#00cc00" stroke="#00cc00"/>
<polygon points="1182.4,613.8 1198.1,621.7 1216.5,603.6 1201.0,596.2" fill="#00ce00" stroke="#00ce00"/>
<polygon points="1198.1,621.7 1213.9,629.4 1232.0,610.8 1216.5,603.6" fill="#00d000" stroke="#00d000"/>
<polygon points="1213.9,629.4 1229.9,636.7 1247.8,617.7 1232.0,610.8" fill="#00d200" stroke="#00d200"/>
<polygon points="1229.9,636.7 1245.9,643.8 1263.6,624.4 1247.8,617.7" fill="#00d400" stroke="#00d400"/>
<polygon points="1245.9,643.8 1262.1,650.7 1279.5,630.8 1263.6,624.4" fill="#00d600" stroke="#00d600"/>
<polygon points="1262.1,650.7 1278.4,657.3 1295.5,637.0 1279.5,630.8" fill="#00d800" stroke="#00d800"/>
<polygon points="1278.4,657.3 1294.8,663.7 1311.6,643.1 1295.5,637.0" fill="#00da00" stroke="#00da00"/>
<polygon points="1294.8,663.7 1311.2,669.9 1327.8,648.9 1311.6,643.1" fill="#00dc00" stroke="#00dc00"/>
<polygon points="1311.2,669.9 1327.8,675.9 1344.0,654.6 1327.8,648.9" fill="#00de00" stroke="#00de00"/>
<polygon points="1327.8,675.9 1344.3,681.8 1360.2,660.2 1344.0,654.6" fill="#00e000" stroke="#00e000"/>
<polygon points="1344.3,681.8 1361.0,687.6 1376.5,665.6 1360.2,660.2" fill="#00e300" stroke="#00e300"/>
<polygon points="1361.0,687.6 1377.6,693.2 1392.9,671.0 1376.5,665.6" fill="#00e500" stroke="#00e500"/>
<polygon points="1377.6,693.2 1394.3,698.7 1409.2,676.2 1392.9,671.0" fill="#00e700" stroke="#00e700"/>
<polygon points="1394.3,698.7 1411.1,704.2 1425.6,681.4 1409.2,676.2" fill="#00e900" stroke="#00e900"/>
<polygon points="1411.1,704.2 1427.8,709.6 1442.0,686.6 1425.6,681.4" fill="#00ec00" stroke="#00ec00"/>
<polygon points="1427.8,709.6 1444.6,715.0 1458.5,691.7 1442.0,686.6" fill="#00ee00" stroke="#00ee00"/>
<polygon points="1444.6,715.0 1461.4,720.3 1474.9,696.8 1458.5,691.7" fill="#00f000" stroke="#00f000"/>
<polygon points="1461.4,720.3 1478.1,725.7 1491.3,702.0 1474.9,696.8" fill="#00f200" stroke="#00f200"/>
<polygon points="1478.1,725.7 1494.9,731.1 1507.7,707.1 1491.3,702.0" fill="#00f400" stroke="#00f400"/>
<polygon points="1494.9,731.1 1511.6,736.5 1524.1,712.3 1507.7,707.1" fill="#00f700" stroke="#00f700"/>
<polygon points="1511.6,736.5 1528.4,741.9 1540.5,717.6 1524.1,712.3" fill="#00f900" stroke="#00f900"/>
<polygon points="1098.1,535.0 1112.1,544.8 1131.7,530.9 1117.7,521.8" fill="#00c400" stroke="#00c400"/>
<polygon points="1112.1,544.8 1126.4,554.2 1145.9,539.6 1131.7,530.9" fill="#00c600" stroke="#00c600"/>
<polygon points="1126.4,554.2 1140.9,563.3 1160.3,548.1 1145.9,539.6" fill="#00c700" stroke="#00c700"/>
<polygon points="1140.9,563.3 1155.7,572.0 1174.9,556.2 1160.3,548.1" fill="#00c900" stroke="#00c900"/>
<polygon points="1155.7,572.0 1170.6,580.4 1189.6,564.0 1174.9,556.2" fill="#00cb00" stroke="#00cb00"/>
<polygon points="1170.6,580.4 1185.7,588.4 1204.6,571.5 1189.6,564.0" fill="#00cd00" stroke="#00cd00"/>
<polygon points="1185.7,588.4 1201.0,596.2 1219.7,578.7 1204.6,571.5" fill="#00cf00" stroke="#00cf00"/>
<polygon points="1201.0,596.2 1216.5,603.6 1234.9,585.6 1219.7,578.7" fill="#00d100" stroke="#00d100"/>
<polygon points="1216.5,603.6 1232.0,610.8 1250.2,592.3 1234.9,585.6" fill="#00d300" stroke="#00d300"/>
<polygon points="1232.0,610.8 1247.8,617.7 1265.7,598.8 1250.2,592.3" fill="#00d500" stroke="#00d500"/>
<polygon points="1247.8,617.7 1263.6,624.4 1281.3,605.0 1265.7,598.8" fill="#00d700" stroke="#00d700"/>
<polygon points="1263.6,624.4 1279.5,630.8 1296.9,611.0 1281.3,605.0" fill="#00d900" stroke="#00d900"/>
<polygon points="1279.5,630.8 1295.5,637.0 1312.6,616.8 1296.9,611.0" fill="#00db00" stroke="#00db00"/>
<polygon points="1295.5,637.0 1311.6,643.1 1328.4,622.5 1312.6,616.8" fill="#00dd00" stroke="#00dd00"/>
<polygon points="1311.6,643.1 1327.8,648.9 1344.2,628.0 1328.4,622.5" fill="#00df00" stroke="#00df00"/>
<polygon points="1327.8,648.9 1344.0,654.6 1360.1,633.3 1344.2,628.0" fill="#00e100" stroke="#00e100"/>
<polygon points="1344.0,654.6 1360.2,660.2 1376.1,638.6 1360.1,633.3" fill="#00e300" stroke="#00e300"/>
<polygon points="1360.2,660.2 1376.5,665.6 1392.0,643.7 1376.1,638.6" fill="#00e500" stroke="#00e500"/>
<polygon points="1376.5,665.6 1392.9,671.0 1408.0,648.8 1392.0,643.7" fill="#00e700" stroke="#00e700"/>
<polygon points="1392.9,671.0 1409.2,676.2 1424.1,653.7 1408.0,648.8" fill="#00e900" stroke="#00e900"/>
<polygon points="1409.2,676.2 1425.6,681.4 1440.1,658.7 1424.1,653.7" fill="#00eb00" stroke="#00eb00"/>
<polygon points="1425.6,681.4 1442.0,686.6 1456.2,663.6 1440.1,658.7" fill="#00ed00" stroke="#00ed00"/>
<polygon points="1442.0,686.6 1458.5,691.7 1472.2,668.4 1456.2,663.6" fill="#00ef00" stroke="#00ef00"/>
<polygon points="1458.5,691.7 1474.9,696.8 1488.3,673.3 1472.2,668.4" fill="#00f100" stroke="#00f100"/>
<polygon points="1474.9,696.8 1491.3,702.0 1504.4,678.2 1488.3,673.3" fill="#00f300" stroke="#00f300"/>
<polygon points="1491.3,702.0 1507.7,707.1 1520.4,683.1 1504.4,678.2" fill="#00f500" stroke="#00f500"/>
<polygon points="1507.7,707.1 1524.1,712.3 1536.5,688.1 1520.4,683.1" fill="#00f700" stroke="#00f700"/>
<polygon points="1524.1,712.3 1540.5,717.6 1552.5,693.2 1536.5,688.1" fill="#00f900" stroke="#00f900"/>
<polygon points="1117.7,521.8 1131.7,530.9 1151.3,517.1 1137.4,508.7" fill="#29cb00" stroke="#29cb00"/>
<polygon points="1131.7,530.9 1145.9,539.6 1165.4,525.2 1151.3,517.1" fill="#29cd00" stroke="#29cd00"/>
<polygon points="1145.9,539.6 1160.3,548.1 1179.7,533.0 1165.4,525.2" fill="#2ace00" stroke="#2ace00"/>
<polygon points="1160.3,548.1 1174.9,556.2 1194.2,540.5 1179.7,533.0" fill="#2bd000" stroke="#2bd000"/>
<polygon points="1174.9,556.2 1189.6,564.0 1208.8,547.7 1194.2,540.5" fill="#2bd200" stroke="#2bd200"/>
<polygon points="1189.6,564.0 1204.6,571.5 1223.5,554.7 1208.8,547.7" fill="#2cd400" stroke="#2cd400"/>
<polygon points="1204.6,571.5 1219.7,578.7 1238.4,561.3 1223.5,554.7" fill="#2dd600" stroke="#2dd600"/>
<polygon points="1219.7,578.7 1234.9,585.6 1253.4,567.8 1238.4,561.3" fill="#2dd800" stroke="#2dd800"/>
<polygon points="1234.9,585.6 1250.2,592.3 1268.5,574.0 1253.4,567.8" fill="#2eda00" stroke="#2eda00"/>
<polygon points="1250.2,592.3 1265.7,598.8 1283.7,579.9 1268.5,574.0" fill="#2fdb00" stroke="#2fdb00"/>
<polygon points="1265.7,598.8 1281.3,605.0 1298.9,585.7 1283.7,579.9" fill="#2fdd00" stroke="#2fdd00"/>
<polygon points="1281.3,605.0 1296.9,611.0 1314.3,591.3 1298.9,585.7" fill="#30df00" stroke="#30df00"/>
<polygon points="1296.9,611.0 1312.6,616.8 1329.7,596.7 1314.3,591.3" fill="#31e100" stroke="#31e100"/>
<polygon points="1312.6,616.8 1328.4,622.5 1345.2,602.0 1329.7,596.7" fill="#31e300" stroke="#31e300"/>
<polygon points="1328.4,622.5 1344.2,628.0 1360.7,607.1 1345.2,602.0" fill="#32e500" stroke="#32e500"/>
<polygon points="1344.2,628.0 1360.1,633.3 1376.3,612.1 1360.7,607.1" fill="#32e600" stroke="#32e600"/>
<polygon points="1360.1,633.3 1376.1,638.6 1391.9,617.0 1376.3,612.1" fill="#32e800" stroke="#32e800"/>
<polygon points="1376.1,638.6 1392.0,643.7 1407.5,621.8 1391.9,617.0" fill="#33ea00" stroke="#33ea00"/>
<polygon points="1392.0,643.7 1408.0,648.8 1423.2,626.6 1407.5,621.8" fill="#33ec00" stroke="#33ec00"/>
<polygon points="1408.0,648.8 1424.1,653.7 1438.8,631.2 1423.2,626.6" fill="#33ed00" stroke="#33ed00"/>
<polygon points="1424.1,653.7 1440.1,658.7 1454.5,635.9 1438.8,631.2" fill="#34ef00" stroke="#34ef00"/>
<polygon points="1440.1,658.7 1456.2,663.6 1470.2,640.5 1454.5,635.9" fill="#34f100" stroke="#34f100"/>
<polygon points="1456.2,663.6 1472.2,668.4 1485.9,645.1 1470.2,640.5" fill="#34f300" stroke="#34f300"/>
<polygon points="1472.2,668.4 1488.3,673.3 1501.6,649.7 1485.9,645.1" fill="#35f400" stroke="#35f400"/>
<polygon points="1488.3,673.3 1504.4,678.2 1517.3,654.4 1501.6,649.7" fill="#35f600" stroke="#35f600"/>
<polygon points="1504.4,678.2 1520.4,683.1 1533.0,659.1 1517.3,654.4" fill="#35f800" stroke="#35f800"/>
<polygon points="1520.4,683.1 1536.5,688.1 1548.7,663.8 1533.0,659.1" fill="#36fa00" stroke="#36fa00"/>
<polygon points="1536.5,688.1 1552.5,693.2 1564.3,668.7 1548.7,663.8" fill="#36fb00" stroke="#36fb00"/>
<polygon points="1137.4,508.7 1151.3,517.1 1171.1,503.6 1157.3,495.9" fill="#56d200" stroke="#56d200"/>
<polygon points="1151.3,517.1 1165.4,525.2 1185.1,511.0 1171.1,503.6" fill="#58d400" stroke="#58d400"/>
<polygon points="1165.4,525.2 1179.7,533.0 1199.3,518.2 1185.1,511.0" fill="#59d600" stroke="#59d600"/>
<polygon points="1179.7,533.0 1194.2,540.5 1213.6,525.0 1199.3,518.2" fill="#5ad800" stroke="#5ad800"/>
<polygon points="1194.2,540.5 1208.8,547.7 1228.0,531.7 1213.6,525.0" fill="#5cd900" stroke="#5cd900"/>
<polygon points="1208.8,547.7 1223.5,554.7 1242.5,538.0 1228.0,531.7" fill="#5ddb00" stroke="#5ddb00"/>
<polygon points="1223.5,554.7 1238.4,561.3 1257.2,544.1 1242.5,538.0" fill="#5edd00" stroke="#5edd00"/>
<polygon points="1238.4,561.3 1253.4,567.8 1271.9,550.0 1257.2,544.1" fill="#60df00" stroke="#60df00"/>
<polygon points="1253.4,567.8 1268.5,574.0 1286.8,555.7 1271.9,550.0" fill="#61e000" stroke="#61e000"/>
<polygon points="1268.5,574.0 1283.7,579.9 1301.7,561.2 1286.8,555.7" fill="#62e200" stroke="#62e200"/>
<polygon points="1283.7,579.9 1298.9,585.7 1316.7,566.6 1301.7,561.2" fill="#64e400" stroke="#64e400"/>
<polygon points="1298.9,585.7 1314.3,591.3 1331.7,571.7 1316.7,566.6" fill="#65e600" stroke="#65e600"/>
<polygon points="1314.3,591.3 1329.7,596.7 1346.8,576.7 1331.7,571.7" fill="#66e800" stroke="#66e800"/>
<polygon points="1329.7,596.7 1345.2,602.0 1362.0,581.6 1346.8,576.7" fill="#68e900" stroke="#68e900"/>
<polygon points="1345.2,602.0 1360.7,607.1 1377.2,586.3 1362.0,581.6" fill="#69eb00" stroke="#69eb00"/>
<polygon points="1360.7,607.1 1376.3,612.1 1392.4,591.0 1377.2,586.3" fill="#6aed00" stroke="#6aed00"/>
<polygon points="1376.3,612.1 1391.9,617.0 1407.6,595.5 1392.4,591.0" fill="#6aee00" stroke="#6aee00"/>
<polygon points="1391.9,617.0 1407.5,621.8 1422.9,600.0 1407.6,595.5" fill="#6bef00" stroke="#6bef00"/>
<polygon points="1407.5,621.8 1423.2,626.6 1438.2,604.4 1422.9,600.0" fill="#6cf100" stroke="#6cf100"/>
<polygon points="1423.2,626.6 1438.8,631.2 1453.5,608.8 1438.2,604.4" fill="#6cf200" stroke="#6cf200"/>
<polygon points="1438.8,631.2 1454.5,635.9 1468.9,613.1 1453.5,608.8" fill="#6df400" stroke="#6df400"/>
<polygon points="1454.5,635.9 1470.2,640.5 1484.2,617.5 1468.9,613.1" fill="#6ef500" stroke="#6ef500"/>
<polygon points="1470.2,640.5 1485.9,645.1 1499.5,621.8 1484.2,617.5" fill="#6ef700" stroke="#6ef700"/>
<polygon points="1485.9,645.1 1501.6,649.7 1514.8,626.1 1499.5,621.8" fill="#6ff800" stroke="#6ff800"/>
<polygon points="1501.6,649.7 1517.3,654.4 1530.1,630.5 1514.8,626.1" fill="#70fa00" stroke="#70fa00"/>
<polygon points="1517.3,654.4 1533.0,659.1 1545.4,635.0 1530.1,630.5" fill="#70fb00" stroke="#70fb00"/>
<polygon points="1533.0,659.1 1548.7,663.8 1560.7,639.5 1545.4,635.0" fill="#71fd00" stroke="#71fd00"/>
<polygon points="1548.7,663.8 1564.3,668.7 1576.0,644.1 1560.7,639.5" fill="#72fe00" stroke="#72fe00"/>
<polygon points="1157.3,495.9 1171.1,503.6 1191.0,490.3 1177.3,483.3" fill="#7cd700" stroke="#7cd700"/>
<polygon points="1171.1,503.6 1185.1,511.0 1204.9,497.0 1191.0,490.3" fill="#7ed900" stroke="#7ed900"/>
<polygon points="1185.1,511.0 1199.3,518.2 1218.9,503.5 1204.9,497.0" fill="#7fdb00" stroke="#7fdb00"/>
<polygon points="1199.3,518.2 1213.6,525.0 1233.1,509.7 1218.9,503.5" fill="#80dc00" stroke="#80dc00"/>
<polygon points="1213.6,525.0 1228.0,531.7 1247.3,515.8 1233.1,509.7" fill="#82de00" stroke="#82de00"/>
<polygon points="1228.0,531.7 1242.5,538.0 1261.6,521.5 1247.3,515.8" fill="#83e000" stroke="#83e000"/>
<polygon points="1242.5,538.0 1257.2,544.1 1276.0,527.1 1261.6,521.5" fill="#84e100" stroke="#84e100"/>
<polygon points="1257.2,544.1 1271.9,550.0 1290.5,532.5 1276.0,527.1" fill="#85e300" stroke="#85e300"/>
<polygon points="1271.9,550.0 1286.8,555.7 1305.1,537.6 1290.5,532.5" fill="#87e500" stroke="#87e500"/>
<polygon points="1286.8,555.7 1301.7,561.2 1319.7,542.7 1305.1,537.6" fill="#88e600" stroke="#88e600"/>
<polygon points="1301.7,561.2 1316.7,566.6 1334.4,547.5 1319.7,542.7" fill="#89e800" stroke="#89e800"/>
<polygon points="1316.7,566.6 1331.7,571.7 1349.2,552.2 1334.4,547.5" fill="#8be900" stroke="#8be900"/>
<polygon points="1331.7,571.7 1346.8,576.7 1363.9,556.8 1349.2,552.2" fill="#8ceb00" stroke="#8ceb00"/>
<polygon points="1346.8,576.7 1362.0,581.6 1378.8,561.2 1363.9,556.8" fill="#8ded00" stroke="#8ded00"/>
<polygon points="1362.0,581.6 1377.2,586.3 1393.6,565.6 1378.8,561.2" fill="#8eee00" stroke="#8eee00"/>
<polygon points="1377.2,586.3 1392.4,591.0 1408.5,569.8 1393.6,565.6" fill="#8fef00" stroke="#8fef00"/>
<polygon points="1392.4,591.0 1407.6,595.5 1423.4,574.0 1408.5,569.8" fill="#90f100" stroke="#90f100"/>
<polygon points="1407.6,595.5 1422.9,600.0 1438.3,578.2 1423.4,574.0" fill="#90f200" stroke="#90f200"/>
<polygon points="1422.9,600.0 1438.2,604.4 1453.2,582.2 1438.3,578.2" fill="#91f300" stroke="#91f300"/>
<polygon points="1438.2,604.4 1453.5,608.8 1468.2,586.3 1453.2,582.2" fill="#92f400" stroke="#92f400"/>
<polygon points="1453.5,608.8 1468.9,613.1 1483.1,590.3 1468.2,586.3" fill="#93f600" stroke="#93f600"/>
<polygon points="1468.9,613.1 1484.2,617.5 1498.1,594.4 1483.1,590.3" fill="#93f700" stroke="#93f700"/>
<polygon points="1484.2,617.5 1499.5,621.8 1513.0,598.4 1498.1,594.4" fill="#94f800" stroke="#94f800"/>
<polygon points="1499.5,621.8 1514.8,626.1 1528.0,602.5 1513.0,598.4" fill="#95f900" stroke="#95f900"/>
<polygon points="1514.8,626.1 1530.1,630.5 1542.9,606.7 1528.0,602.5" fill="#95fb00" stroke="#95fb00"/>
<polygon points="1530.1,630.5 1545.4,635.0 1557.8,610.8 1542.9,606.7" fill="#96fc00" stroke="#96fc00"/>
<polygon points="1545.4,635.0 1560.7,639.5 1572.7,615.1 1557.8,610.8" fill="#97fd00" stroke="#97fd00"/>
<polygon points="1560.7,639.5 1576.0,644.1 1587.5,619.5 1572.7,615.1" fill="#98fe00" stroke="#98fe00"/>
<polygon points="1177.3,483.3 1191.0,490.3 1211.1,477.1 1197.5,470.8" fill="#a2dc00" stroke="#a2dc00"/>
<polygon points="1191.0,490.3 1204.9,497.0 1224.9,483.2 1211.1,477.1" fill="#a3de00" stroke="#a3de00"/>
<polygon points="1204.9,497.0 1218.9,503.5 1238.7,489.0 1224.9,483.2" fill="#a4df00" stroke="#a4df00"/>
<polygon points="1218.9,503.5 1233.1,509.7 1252.7,494.6 1238.7,489.0" fill="#a5e100" stroke="#a5e100"/>
<polygon points="1233.1,509.7 1247.3,515.8 1266.7,500.0 1252.7,494.6" fill="#a6e200" stroke="#a6e200"/>
<polygon points="1247.3,515.8 1261.6,521.5 1280.8,505.2 1266.7,500.0" fill="#a8e400" stroke="#a8e400"/>
<polygon points="1261.6,521.5 1276.0,527.1 1295.0,510.2 1280.8,505.2" fill="#a9e500" stroke="#a9e500"/>
<polygon points="1276.0,527.1 1290.5,532.5 1309.2,515.0 1295.0,510.2" fill="#aae700" stroke="#aae700"/>
<polygon points="1290.5,532.5 1305.1,537.6 1323.5,519.7 1309.2,515.0" fill="#abe800" stroke="#abe800"/>
<polygon points="1305.1,537.6 1319.7,542.7 1337.8,524.2 1323.5,519.7" fill="#acea00" stroke="#acea00"/>
<polygon points="1319.7,542.7 1334.4,547.5 1352.2,528.6 1337.8,524.2" fill="#adeb00" stroke="#adeb00"/>
<polygon points="1334.4,547.5 1349.2,552.2 1366.6,532.8 1352.2,528.6" fill="#aeed00" stroke="#aeed00"/>
<polygon points="1349.2,552.2 1363.9,556.8 1381.1,536.9 1366.6,532.8" fill="#b0ee00" stroke="#b0ee00"/>
<polygon points="1363.9,556.8 1378.8,561.2 1395.6,541.0 1381.1,536.9" fill="#b1f000" stroke="#b1f000"/>
<polygon points="1378.8,561.2 1393.6,565.6 1410.1,544.9 1395.6,541.0" fill="#b2f100" stroke="#b2f100"/>
<polygon points="1393.6,565.6 1408.5,569.8 1424.6,548.8 1410.1,544.9" fill="#b2f200" stroke="#b2f200"/>
<polygon points="1408.5,569.8 1423.4,574.0 1439.1,552.6 1424.6,548.8" fill="#b3f300" stroke="#b3f300"/>
<polygon points="1423.4,574.0 1438.3,578.2 1453.7,556.4 1439.1,552.6" fill="#b4f400" stroke="#b4f400"/>
<polygon points="1438.3,578.2 1453.2,582.2 1468.2,560.1 1453.7,556.4" fill="#b5f500" stroke="#b5f500"/>
<polygon points="1453.2,582.2 1468.2,586.3 1482.8,563.9 1468.2,560.1" fill="#b5f600" stroke="#b5f600"/>
<polygon points="1468.2,586.3 1483.1,590.3 1497.3,567.6 1482.8,563.9" fill="#b6f700" stroke="#b6f700"/>
<polygon points="1483.1,590.3 1498.1,594.4 1511.9,571.3 1497.3,567.6" fill="#b7f800" stroke="#b7f800"/>
<polygon points="1498.1,594.4 1513.0,598.4 1526.4,575.1 1511.9,571.3" fill="#b7f900" stroke="#b7f900"/>
<polygon points="1513.0,598.4 1528.0,602.5 1541.0,578.9 1526.4,575.1" fill="#b8fa00" stroke="#b8fa00"/>
<polygon points="1528.0,602.5 1542.9,606.7 1555.5,582.8 1541.0,578.9" fill="#b9fb00" stroke="#b9fb00"/>
<polygon points="1542.9,606.7 1557.8,610.8 1570.0,586.7 1555.5,582.8" fill="#bafc00" stroke="#bafc00"/>
<polygon points="1557.8,610.8 1572.7,615.1 1584.5,590.7 1570.0,586.7" fill="#bafd00" stroke="#bafd00"/>
<polygon points="1572.7,615.1 1587.5,619.5 1599.0,594.8 1584.5,590.7" fill="#bbfe00" stroke="#bbfe00"/>
<polygon points="1197.5,470.8 1211.1,477.1 1237.0,460.9 1223.8,455.1" fill="#bfdf00" stroke="#bfdf00"/>
<polygon points="1211.1,477.1 1224.9,483.2 1250.2,466.5 1237.0,460.9" fill="#c0e000" stroke="#c0e000"/>
<polygon points="1224.9,483.2 1238.7,489.0 1263.6,471.9 1250.2,466.5" fill="#c1e100" stroke="#c1e100"/>
<polygon points="1238.7,489.0 1252.7,494.6 1277.0,477.1 1263.6,471.9" fill="#c2e300" stroke="#c2e300"/>
<polygon points="1252.7,494.6 1266.7,500.0 1290.5,482.1 1277.0,477.1" fill="#c3e400" stroke="#c3e400"/>
<polygon points="1266.7,500.0 1280.8,505.2 1304.1,486.9 1290.5,482.1" fill="#c4e600" stroke="#c4e600"/>
<polygon points="1280.8,505.2 1295.0,510.2 1317.7,491.6 1304.1,486.9" fill="#c5e700" stroke="#c5e700"/>
<polygon points="1295.0,510.2 1309.2,515.0 1331.4,496.1 1317.7,491.6" fill="#c6e800" stroke="#c6e800"/>
<polygon points="1309.2,515.0 1323.5,519.7 1345.2,500.5 1331.4,496.1" fill="#c7ea00" stroke="#c7ea00"/>
<polygon points="1323.5,519.7 1337.8,524.2 1358.9,504.7 1345.2,500.5" fill="#c8eb00" stroke="#c8eb00"/>
<polygon points="1337.8,524.2 1352.2,528.6 1372.8,508.8 1358.9,504.7" fill="#c9ec00" stroke="#c9ec00"/>
<polygon points="1352.2,528.6 1366.6,532.8 1386.6,512.8 1372.8,508.8" fill="#caee00" stroke="#caee00"/>
<polygon points="1366.6,532.8 1381.1,536.9 1400.5,516.7 1386.6,512.8" fill="#cbef00" stroke="#cbef00"/>
<polygon points="1381.1,536.9 1395.6,541.0 1414.4,520.5 1400.5,516.7" fill="#ccf000" stroke="#ccf000"/>
<polygon points="1395.6,541.0 1410.1,544.9 1428.3,524.3 1414.4,520.5" fill="#cdf200" stroke="#cdf200"/>
<polygon points="1410.1,544.9 1424.6,548.8 1442.2,527.9 1428.3,524.3" fill="#cef300" stroke="#cef300"/>
<polygon points="1424.6,548.8 1439.1,552.6 1456.2,531.6 1442.2,527.9" fill="#cef400" stroke="#cef400"/>
<polygon points="1439.1,552.6 1453.7,556.4 1470.1,535.1 1456.2,531.6" fill="#cff500" stroke="#cff500"/>
<polygon points="1453.7,556.4 1468.2,560.1 1484.1,538.7 1470.1,535.1" fill="#d0f600" stroke="#d0f600"/>
<polygon points="1468.2,560.1 1482.8,563.9 1498.1,542.2 1484.1,538.7" fill="#d1f700" stroke="#d1f700"/>
<polygon points="1482.8,563.9 1497.3,567.6 1512.1,545.8 1498.1,542.2" fill="#d2f800" stroke="#d2f800"/>
<polygon points="1497.3,567.6 1511.9,571.3 1526.0,549.3 1512.1,545.8" fill="#d2f900" stroke="#d2f900"/>
<polygon points="1511.9,571.3 1526.4,575.1 1540.0,552.9 1526.0,549.3" fill="#d3fa00" stroke="#d3fa00"/>
<polygon points="1526.4,575.1 1541.0,578.9 1554.0,556.5 1540.0,552.9" fill="#d4fb00" stroke="#d4fb00"/>
<polygon points="1541.0,578.9 1555.5,582.8 1567.9,560.1 1554.0,556.5" fill="#d5fc00" stroke="#d5fc00"/>
<polygon points="1555.5,582.8 1570.0,586.7 1581.8,563.8 1567.9,560.1" fill="#d5fd00" stroke="#d5fd00"/>
<polygon points="1570.0,586.7 1584.5,590.7 1595.7,567.6 1581.8,563.8" fill="#d6fe00" stroke="#d6fe00"/>
<polygon points="1584.5,590.7 1599.0,594.8 1609.6,571.4 1595.7,567.6" fill="#d7ff00" stroke="#d7ff00"/>
<polygon points="1223.8,455.1 1237.0,460.9 1263.1,445.0 1250.4,439.7" fill="#d2df00" stroke="#d2df00"/>
<polygon points="1237.0,460.9 1250.2,466.5 1275.8,450.2 1263.1,445.0" fill="#d3e000" stroke="#d3e000"/>
<polygon points="1250.2,466.5 1263.6,471.9 1288.7,455.1 1275.8,450.2" fill="#d4e100" stroke="#d4e100"/>
<polygon points="1263.6,471.9 1277.0,477.1 1301.6,459.9 1288.7,455.1" fill="#d5e200" stroke="#d5e200"/>
<polygon points="1277.0,477.1 1290.5,482.1 1314.5,464.5 1301.6,459.9" fill="#d6e400" stroke="#d6e400"/>
<polygon points="1290.5,482.1 1304.1,486.9 1327.6,469.0 1314.5,464.5" fill="#d7e500" stroke="#d7e500"/>
<polygon points="1304.1,486.9 1317.7,491.6 1340.7,473.3 1327.6,469.0" fill="#d8e600" stroke="#d8e600"/>
<polygon points="1317.7,491.6 1331.4,496.1 1353.8,477.5 1340.7,473.3" fill="#d9e700" stroke="#d9e700"/>
<polygon points="1331.4,496.1 1345.2,500.5 1366.9,481.5 1353.8,477.5" fill="#dae900" stroke="#dae900"/>
<polygon points="1345.2,500.5 1358.9,504.7 1380.2,485.5 1366.9,481.5" fill="#dbea00" stroke="#dbea00"/>
<polygon points="1358.9,504.7 1372.8,508.8 1393.4,489.3 1380.2,485.5" fill="#dceb00" stroke="#dceb00"/>
<polygon points="1372.8,508.8 1386.6,512.8 1406.7,493.1 1393.4,489.3" fill="#ddec00" stroke="#ddec00"/>
<polygon points="1386.6,512.8 1400.5,516.7 1419.9,496.7 1406.7,493.1" fill="#deee00" stroke="#deee00"/>
<polygon points="1400.5,516.7 1414.4,520.5 1433.3,500.3 1419.9,496.7" fill="#dfef00" stroke="#dfef00"/>
<polygon points="1414.4,520.5 1428.3,524.3 1446.6,503.8 1433.3,500.3" fill="#e0f000" stroke="#e0f000"/>
<polygon points="1428.3,524.3 1442.2,527.9 1459.9,507.2 1446.6,503.8" fill="#e1f100" stroke="#e1f100"/>
<polygon points="1442.2,527.9 1456.2,531.6 1473.3,510.6 1459.9,507.2" fill="#e1f200" stroke="#e1f200"/>
<polygon points="1456.2,531.6 1470.1,535.1 1486.6,514.0 1473.3,510.6" fill="#e2f300" stroke="#e2f300"/>
<polygon points="1470.1,535.1 1484.1,538.7 1500.0,517.4 1486.6,514.0" fill="#e3f400" stroke="#e3f400"/>
<polygon points="1484.1,538.7 1498.1,542.2 1513.4,520.7 1500.0,517.4" fill="#e4f600" stroke="#e4f600"/>
<polygon points="1498.1,542.2 1512.1,545.8 1526.8,524.0 1513.4,520.7" fill="#e5f700" stroke="#e5f700"/>
<polygon points="1512.1,545.8 1526.0,549.3 1540.1,527.3 1526.8,524.0" fill="#e6f800" stroke="#e6f800"/>
<polygon points="1526.0,549.3 1540.0,552.9 1553.5,530.7 1540.1,527.3" fill="#e7f900" stroke="#e7f900"/>
<polygon points="1540.0,552.9 1554.0,556.5 1566.9,534.1 1553.5,530.7" fill="#e8fa00" stroke="#e8fa00"/>
<polygon points="1554.0,556.5 1567.9,560.1 1580.2,537.5 1566.9,534.1" fill="#e9fb00" stroke="#e9fb00"/>
<polygon points="1567.9,560.1 1581.8,563.8 1593.6,540.9 1580.2,537.5" fill="#eafc00" stroke="#eafc00"/>
<polygon points="1581.8,563.8 1595.7,567.6 1606.9,544.4 1593.6,540.9" fill="#ebfd00" stroke="#ebfd00"/>
<polygon points="1595.7,567.6 1609.6,571.4 1620.2,548.0 1606.9,544.4" fill="#ecfe00" stroke="#ecfe00"/>
<polygon points="1250.4,439.7 1263.1,445.0 1289.4,429.5 1277.2,424.8" fill="#e5de00" stroke="#e5de00"/>
<polygon points="1263.1,445.0 1275.8,450.2 1301.6,434.2 1289.4,429.5" fill="#e6df00" stroke="#e6df00"/>
<polygon points="1275.8,450.2 1288.7,455.1 1313.9,438.7 1301.6,434.2" fill="#e7e000" stroke="#e7e000"/>
<polygon points="1288.7,455.1 1301.6,459.9 1326.3,443.0 1313.9,438.7" fill="#e8e100" stroke="#e8e100"/>
<polygon points="1301.6,459.9 1314.5,464.5 1338.7,447.2 1326.3,443.0" fill="#e9e200" stroke="#e9e200"/>
<polygon points="1314.5,464.5 1327.6,469.0 1351.2,451.3 1338.7,447.2" fill="#e9e300" stroke="#e9e300"/>
<polygon points="1327.6,469.0 1340.7,473.3 1363.7,455.3 1351.2,451.3" fill="#eae400" stroke="#eae400"/>
<polygon points="1340.7,473.3 1353.8,477.5 1376.3,459.1 1363.7,455.3" fill="#ebe500" stroke="#ebe500"/>
<polygon points="1353.8,477.5 1366.9,481.5 1388.9,462.9 1376.3,459.1" fill="#ece700" stroke="#ece700"/>
<polygon points="1366.9,481.5 1380.2,485.5 1401.5,466.5 1388.9,462.9" fill="#ede800" stroke="#ede800"/>
<polygon points="1380.2,485.5 1393.4,489.3 1414.1,470.0 1401.5,466.5" fill="#eee900" stroke="#eee900"/>
<polygon points="1393.4,489.3 1406.7,493.1 1426.8,473.5 1414.1,470.0" fill="#eeea00" stroke="#eeea00"/>
<polygon points="1406.7,493.1 1419.9,496.7 1439.5,476.9 1426.8,473.5" fill="#efeb00" stroke="#efeb00"/>
<polygon points="1419.9,496.7 1433.3,500.3 1452.2,480.2 1439.5,476.9" fill="#f0ec00" stroke="#f0ec00"/>
<polygon points="1433.3,500.3 1446.6,503.8 1464.9,483.5 1452.2,480.2" fill="#f1ed00" stroke="#f1ed00"/>
<polygon points="1446.6,503.8 1459.9,507.2 1477.7,486.7 1464.9,483.5" fill="#f2ef00" stroke="#f2ef00"/>
<polygon points="1459.9,507.2 1473.3,510.6 1490.4,489.9 1477.7,486.7" fill="#f3f000" stroke="#f3f000"/>
<polygon points="1473.3,510.6 1486.6,514.0 1503.2,493.0 1490.4,489.9" fill="#f4f100" stroke="#f4f100"/>
<polygon points="1486.6,514.0 1500.0,517.4 1515.9,496.1 1503.2,493.0" fill="#f5f200" stroke="#f5f200"/>
<polygon points="1500.0,517.4 1513.4,520.7 1528.7,499.2 1515.9,496.1" fill="#f6f300" stroke="#f6f300"/>
<polygon points="1513.4,520.7 1526.8,524.0 1541.5,502.3 1528.7,499.2" fill="#f7f400" stroke="#f7f400"/>
<polygon points="1526.8,524.0 1540.1,527.3 1554.2,505.4 1541.5,502.3" fill="#f8f600" stroke="#f8f600"/>
<polygon points="1540.1,527.3 1553.5,530.7 1567.0,508.5 1554.2,505.4" fill="#f9f700" stroke="#f9f700"/>
<polygon points="1553.5,530.7 1566.9,534.1 1579.7,511.7 1567.0,508.5" fill="#faf800" stroke="#faf800"/>
<polygon points="1566.9,534.1 1580.2,537.5 1592.5,514.8 1579.7,511.7" fill="#fbf900" stroke="#fbf900"/>
<polygon points="1580.2,537.5 1593.6,540.9 1605.2,518.0 1592.5,514.8" fill="#fcfa00" stroke="#fcfa00"/>
<polygon points="1593.6,540.9 1606.9,544.4 1618.0,521.3 1605.2,518.0" fill="#fdfc00" stroke="#fdfc00"/>
<polygon points="1606.9,544.4 1620.2,548.0 1630.7,524.5 1618.0,521.3" fill="#fefd00" stroke="#fefd00"/>
<polygon points="1277.2,424.8 1289.4,429.5 1315.9,414.5 1304.2,410.2" fill="#edd300" stroke="#edd300"/>
<polygon points="1289.4,429.5 1301.6,434.2 1327.6,418.6 1315.9,414.5" fill="#eed400" stroke="#eed400"/>
<polygon points="1301.6,434.2 1313.9,438.7 1339.4,422.6 1327.6,418.6" fill="#efd500" stroke="#efd500"/>
<polygon points="1313.9,438.7 1326.3,443.0 1351.2,426.5 1339.4,422.6" fill="#efd600" stroke="#efd600"/>
<polygon points="1326.3,443.0 1338.7,447.2 1363.1,430.3 1351.2,426.5" fill="#f0d700" stroke="#f0d700"/>
<polygon points="1338.7,447.2 1351.2,451.3 1375.0,434.0 1363.1,430.3" fill="#f0d800" stroke="#f0d800"/>
<polygon points="1351.2,451.3 1363.7,455.3 1386.9,437.6 1375.0,434.0" fill="#f1d900" stroke="#f1d900"/>
<polygon points="1363.7,455.3 1376.3,459.1 1398.9,441.0 1386.9,437.6" fill="#f2da00" stroke="#f2da00"/>
<polygon points="1376.3,459.1 1388.9,462.9 1410.9,444.4 1398.9,441.0" fill="#f2db00" stroke="#f2db00"/>
<polygon points="1388.9,462.9 1401.5,466.5 1422.9,447.7 1410.9,444.4" fill="#f3dc00" stroke="#f3dc00"/>
<polygon points="1401.5,466.5 1414.1,470.0 1435.0,451.0 1422.9,447.7" fill="#f3dd00" stroke="#f3dd00"/>
<polygon points="1414.1,470.0 1426.8,473.5 1447.0,454.2 1435.0,451.0" fill="#f4de00" stroke="#f4de00"/>
<polygon points="1426.8,473.5 1439.5,476.9 1459.1,457.3 1447.0,454.2" fill="#f5df00" stroke="#f5df00"/>
<polygon points="1439.5,476.9 1452.2,480.2 1471.2,460.3 1459.1,457.3" fill="#f5e000" stroke="#f5e000"/>
<polygon points="1452.2,480.2 1464.9,483.5 1483.3,463.3 1471.2,460.3" fill="#f6e100" stroke="#f6e100"/>
<polygon points="1464.9,483.5 1477.7,486.7 1495.4,466.3 1483.3,463.3" fill="#f7e200" stroke="#f7e200"/>
<polygon points="1477.7,486.7 1490.4,489.9 1507.6,469.2 1495.4,466.3" fill="#f7e200" stroke="#f7e200"/>
<polygon points="1490.4,489.9 1503.2,493.0 1519.7,472.1 1507.6,469.2" fill="#f8e300" stroke="#f8e300"/>
<polygon points="1503.2,493.0 1515.9,496.1 1531.9,475.0 1519.7,472.1" fill="#f9e400" stroke="#f9e400"/>
<polygon points="1515.9,496.1 1528.7,499.2 1544.0,477.9 1531.9,475.0" fill="#f9e500" stroke="#f9e500"/>
<polygon points="1528.7,499.2 1541.5,502.3 1556.1,480.7 1544.0,477.9" fill="#fae600" stroke="#fae600"/>
<polygon points="1541.5,502.3 1554.2,505.4 1568.3,483.6 1556.1,480.7" fill="#fbe700" stroke="#fbe700"/>
<polygon points="1554.2,505.4 1567.0,508.5 1580.4,486.4 1568.3,483.6" fill="#fbe800" stroke="#fbe800"/>
<polygon points="1567.0,508.5 1579.7,511.7 1592.6,489.3 1580.4,486.4" fill="#fce900" stroke="#fce900"/>
<polygon points="1579.7,511.7 1592.5,514.8 1604.7,492.2 1592.6,489.3" fill="#fdea00" stroke="#fdea00"/>
<polygon points="1592.5,514.8 1605.2,518.0 1616.8,495.1 1604.7,492.2" fill="#fdea00" stroke="#fdea00"/>
<polygon points="1605.2,518.0 1618.0,521.3 1629.0,498.1 1616.8,495.1" fill="#feeb00" stroke="#feeb00"/>
<polygon points="1618.0,521.3 1630.7,524.5 1641.1,501.1 1629.0,498.1" fill="#ffec00" stroke="#ffec00"/>
<polygon points="1304.2,410.2 1315.9,414.5 1342.6,399.8 1331.5,396.0" fill="#f6c900" stroke="#f6c900"/>
<polygon points="1315.9,414.5 1327.6,418.6 1353.8,403.4 1342.6,399.8" fill="#f6ca00" stroke="#f6ca00"/>
<polygon points="1327.6,418.6 1339.4,422.6 1365.0,406.9 1353.8,403.4" fill="#f6cb00" stroke="#f6cb00"/>
<polygon points="1339.4,422.6 1351.2,426.5 1376.3,410.3 1365.0,406.9" fill="#f7cc00" stroke="#f7cc00"/>
<polygon points="1351.2,426.5 1363.1,430.3 1387.6,413.7 1376.3,410.3" fill="#f7cc00" stroke="#f7cc00"/>
<polygon points="1363.1,430.3 1375.0,434.0 1398.9,416.9 1387.6,413.7" fill="#f7cd00" stroke="#f7cd00"/>
<polygon points="1375.0,434.0 1386.9,437.6 1410.3,420.1 1398.9,416.9" fill="#f8ce00" stroke="#f8ce00"/>
<polygon points="1386.9,437.6 1398.9,441.0 1421.6,423.2 1410.3,420.1" fill="#f8cf00" stroke="#f8cf00"/>
<polygon points="1398.9,441.0 1410.9,444.4 1433.0,426.3 1421.6,423.2" fill="#f9d000" stroke="#f9d000"/>
<polygon points="1410.9,444.4 1422.9,447.7 1444.5,429.3 1433.0,426.3" fill="#f9d000" stroke="#f9d000"/>
<polygon points="1422.9,447.7 1435.0,451.0 1455.9,432.2 1444.5,429.3" fill="#f9d100" stroke="#f9d100"/>
<polygon points="1435.0,451.0 1447.0,454.2 1467.3,435.0 1455.9,432.2" fill="#fad200" stroke="#fad200"/>
<polygon points="1447.0,454.2 1459.1,457.3 1478.8,437.8 1467.3,435.0" fill="#fad300" stroke="#fad300"/>
<polygon points="1459.1,457.3 1471.2,460.3 1490.3,440.6 1478.8,437.8" fill="#fad300" stroke="#fad300"/>
<polygon points="1471.2,460.3 1483.3,463.3 1501.8,443.3 1490.3,440.6" fill="#fbd400" stroke="#fbd400"/>
<polygon points="1483.3,463.3 1495.4,466.3 1513.3,446.0 1501.8,443.3" fill="#fbd500" stroke="#fbd500"/>
<polygon points="1495.4,466.3 1507.6,469.2 1524.8,448.7 1513.3,446.0" fill="#fbd500" stroke="#fbd500"/>
<polygon points="1507.6,469.2 1519.7,472.1 1536.3,451.3 1524.8,448.7" fill="#fcd600" stroke="#fcd600"/>
<polygon points="1519.7,472.1 1531.9,475.0 1547.8,454.0 1536.3,451.3" fill="#fcd600" stroke="#fcd600"/>
<polygon points="1531.9,475.0 1544.0,477.9 1559.3,456.6 1547.8,454.0" fill="#fcd700" stroke="#fcd700"/>
<polygon points="1544.0,477.9 1556.1,480.7 1570.8,459.2 1559.3,456.6" fill="#fdd800" stroke="#fdd800"/>
<polygon points="1556.1,480.7 1568.3,483.6 1582.3,461.8 1570.8,459.2" fill="#fdd800" stroke="#fdd800"/>
<polygon points="1568.3,483.6 1580.4,486.4 1593.9,464.4 1582.3,461.8" fill="#fdd900" stroke="#fdd900"/>
<polygon points="1580.4,486.4 1592.6,489.3 1605.4,467.0 1593.9,464.4" fill="#fed900" stroke="#fed900"/>
<polygon points="1592.6,489.3 1604.7,492.2 1616.9,469.6 1605.4,467.0" fill="#feda00" stroke="#feda00"/>
<polygon points="1604.7,492.2 1616.8,495.1 1628.4,472.2 1616.9,469.6" fill="#fedb00" stroke="#fedb00"/>
<polygon points="1616.8,495.1 1629.0,498.1 1639.9,474.9 1628.4,472.2" fill="#ffdb00" stroke="#ffdb00"/>
<polygon points="1629.0,498.1 1641.1,501.1 1651.4,477.5 1639.9,474.9" fill="#ffdc00" stroke="#ffdc00"/>
<polygon points="1331.5,396.0 1342.6,399.8 1369.5,385.5 1358.9,382.3" fill="#fabc00" stroke="#fabc00"/>
<polygon points="1342.6,399.8 1353.8,403.4 1380.2,388.6 1369.5,385.5" fill="#fabc00" stroke="#fabc00"/>
<polygon points="1353.8,403.4 1365.0,406.9 1390.9,391.6 1380.2,388.6" fill="#fabc00" stroke="#fabc00"/>
<polygon points="1365.0,406.9 1376.3,410.3 1401.5,394.5 1390.9,391.6" fill="#fabd00" stroke="#fabd00"/>
<polygon points="1376.3,410.3 1387.6,413.7 1412.3,397.4 1401.5,394.5" fill="#fbbd00" stroke="#fbbd00"/>
<polygon points="1387.6,413.7 1398.9,416.9 1423.0,400.2 1412.3,397.4" fill="#fbbd00" stroke="#fbbd00"/>
<polygon points="1398.9,416.9 1410.3,420.1 1433.8,403.0 1423.0,400.2" fill="#fbbe00" stroke="#fbbe00"/>
<polygon points="1410.3,420.1 1421.6,423.2 1444.5,405.7 1433.8,403.0" fill="#fbbe00" stroke="#fbbe00"/>
<polygon points="1421.6,423.2 1433.0,426.3 1455.3,408.4 1444.5,405.7" fill="#fbbe00" stroke="#fbbe00"/>
<polygon points="1433.0,426.3 1444.5,429.3 1466.1,411.0 1455.3,408.4" fill="#fcbf00" stroke="#fcbf00"/>
<polygon points="1444.5,429.3 1455.9,432.2 1476.9,413.6 1466.1,411.0" fill="#fcbf00" stroke="#fcbf00"/>
<polygon points="1455.9,432.2 1467.3,435.0 1487.8,416.1 1476.9,413.6" fill="#fcbf00" stroke="#fcbf00"/>
<polygon points="1467.3,435.0 1478.8,437.8 1498.6,418.6 1487.8,416.1" fill="#fcc000" stroke="#fcc000"/>
<polygon points="1478.8,437.8 1490.3,440.6 1509.4,421.1 1498.6,418.6" fill="#fdc000" stroke="#fdc000"/>
<polygon points="1490.3,440.6 1501.8,443.3 1520.3,423.5 1509.4,421.1" fill="#fdc000" stroke="#fdc000"/>
<polygon points="1501.8,443.3 1513.3,446.0 1531.1,426.0 1520.3,423.5" fill="#fdc100" stroke="#fdc100"/>
<polygon points="1513.3,446.0 1524.8,448.7 1542.0,428.3 1531.1,426.0" fill="#fdc200" stroke="#fdc200"/>
<polygon points="1524.8,448.7 1536.3,451.3 1552.9,430.7 1542.0,428.3" fill="#fdc300" stroke="#fdc300"/>
<polygon points="1536.3,451.3 1547.8,454.0 1563.7,433.1 1552.9,430.7" fill="#fdc400" stroke="#fdc400"/>
<polygon points="1547.8,454.0 1559.3,456.6 1574.6,435.4 1563.7,433.1" fill="#fec400" stroke="#fec400"/>
<polygon points="1559.3,456.6 1570.8,459.2 1585.5,437.7 1574.6,435.4" fill="#fec500" stroke="#fec500"/>
<polygon points="1570.8,459.2 1582.3,461.8 1596.4,440.0 1585.5,437.7" fill="#fec600" stroke="#fec600"/>
<polygon points="1582.3,461.8 1593.9,464.4 1607.2,442.3 1596.4,440.0" fill="#fec700" stroke="#fec700"/>
<polygon points="1593.9,464.4 1605.4,467.0 1618.1,444.7 1607.2,442.3" fill="#fec700" stroke="#fec700"/>
<polygon points="1605.4,467.0 1616.9,469.6 1629.0,447.0 1618.1,444.7" fill="#fec800" stroke="#fec800"/>
<polygon points="1616.9,469.6 1628.4,472.2 1639.9,449.3 1629.0,447.0" fill="#ffc900" stroke="#ffc900"/>
<polygon points="1628.4,472.2 1639.9,474.9 1650.7,451.6 1639.9,449.3" fill="#ffca00" stroke="#ffca00"/>
<polygon points="1639.9,474.9 1651.4,477.5 1661.6,454.0 1650.7,451.6" fill="#ffcb00" stroke="#ffcb00"/>
<polygon points="1358.9,382.3 1369.5,385.5 1396.7,371.6 1386.6,369.0" fill="#fcac00" stroke="#fcac00"/>
<polygon points="1369.5,385.5 1380.2,388.6 1406.8,374.2 1396.7,371.6" fill="#fcac00" stroke="#fcac00"/>
<polygon points="1380.2,388.6 1390.9,391.6 1416.9,376.6 1406.8,374.2" fill="#fcac00" stroke="#fcac00"/>
<polygon points="1390.9,391.6 1401.5,394.5 1427.0,379.1 1416.9,376.6" fill="#fcac00" stroke="#fcac00"/>
<polygon points="1401.5,394.5 1412.3,397.4 1437.1,381.5 1427.0,379.1" fill="#fcab00" stroke="#fcab00"/>
<polygon points="1412.3,397.4 1423.0,400.2 1447.2,383.9 1437.1,381.5" fill="#fcab00" stroke="#fcab00"/>
<polygon points="1423.0,400.2 1433.8,403.0 1457.4,386.2 1447.2,383.9" fill="#fdab00" stroke="#fdab00"/>
<polygon points="1433.8,403.0 1444.5,405.7 1467.5,388.5 1457.4,386.2" fill="#fdab00" stroke="#fdab00"/>
<polygon points="1444.5,405.7 1455.3,408.4 1477.7,390.8 1467.5,388.5" fill="#fdab00" stroke="#fdab00"/>
<polygon points="1455.3,408.4 1466.1,411.0 1487.9,393.1 1477.7,390.8" fill="#fdaa00" stroke="#fdaa00"/>
<polygon points="1466.1,411.0 1476.9,413.6 1498.1,395.3 1487.9,393.1" fill="#fdaa00" stroke="#fdaa00"/>
<polygon points="1476.9,413.6 1487.8,416.1 1508.3,397.5 1498.1,395.3" fill="#fdaa00" stroke="#fdaa00"/>
<polygon points="1487.8,416.1 1498.6,418.6 1518.5,399.7 1508.3,397.5" fill="#fdaa00" stroke="#fdaa00"/>
<polygon points="1498.6,418.6 1509.4,421.1 1528.7,401.8 1518.5,399.7" fill="#fea900" stroke="#fea900"/>
<polygon points="1509.4,421.1 1520.3,423.5 1538.9,403.9 1528.7,401.8" fill="#feaa00" stroke="#feaa00"/>
<polygon points="1520.3,423.5 1531.1,426.0 1549.1,406.0 1538.9,403.9" fill="#feab00" stroke="#feab00"/>
<polygon points="1531.1,426.0 1542.0,428.3 1559.3,408.1 1549.1,406.0" fill="#feac00" stroke="#feac00"/>
<polygon points="1542.0,428.3 1552.9,430.7 1569.5,410.2 1559.3,408.1" fill="#fead00" stroke="#fead00"/>
<polygon points="1552.9,430.7 1563.7,433.1 1579.7,412.3 1569.5,410.2" fill="#feaf00" stroke="#feaf00"/>
<polygon points="1563.7,433.1 1574.6,435.4 1589.9,414.3 1579.7,412.3" fill="#feb000" stroke="#feb000"/>
<polygon points="1574.6,435.4 1585.5,437.7 1600.2,416.3 1589.9,414.3" fill="#feb100" stroke="#feb100"/>
<polygon points="1585.5,437.7 1596.4,440.0 1610.4,418.4 1600.2,416.3" fill="#feb200" stroke="#feb200"/>
<polygon points="1596.4,440.0 1607.2,442.3 1620.6,420.4 1610.4,418.4" fill="#feb300" stroke="#feb300"/>
<polygon points="1607.2,442.3 1618.1,444.7 1630.9,422.4 1620.6,420.4" fill="#ffb400" stroke="#ffb400"/>
<polygon points="1618.1,444.7 1629.0,447.0 1641.1,424.4 1630.9,422.4" fill="#ffb600" stroke="#ffb600"/>
<polygon points="1629.0,447.0 1639.9,449.3 1651.3,426.4 1641.1,424.4" fill="#ffb700" stroke="#ffb700"/>
<polygon points="1639.9,449.3 1650.7,451.6 1661.5,428.4 1651.3,426.4" fill="#ffb800" stroke="#ffb800"/>
<polygon points="1650.7,451.6 1661.6,454.0 1671.8,430.4 1661.5,428.4" fill="#ffb900" stroke="#ffb900"/>
<polygon points="1386.6,369.0 1396.7,371.6 1424.0,358.2 1414.5,356.2" fill="#fe9d00" stroke="#fe9d00"/>
<polygon points="1396.7,371.6 1406.8,374.2 1433.5,360.2 1424.0,358.2" fill="#fe9c00" stroke="#fe9c00"/>
<polygon points="1406.8,374.2 1416.9,376.6 1443.1,362.1 1433.5,360.2" fill="#fe9c00" stroke="#fe9c00"/>
<polygon points="1416.9,376.6 1427.0,379.1 1452.6,364.0 1443.1,362.1" fill="#fe9b00" stroke="#fe9b00"/>
<polygon points="1427.0,379.1 1437.1,381.5 1462.1,366.0 1452.6,364.0" fill="#fe9a00" stroke="#fe9a00"/>
<polygon points="1437.1,381.5 1447.2,383.9 1471.6,367.9 1462.1,366.0" fill="#fe9900" stroke="#fe9900"/>
<polygon points="1447.2,383.9 1457.4,386.2 1481.2,369.8 1471.6,367.9" fill="#fe9800" stroke="#fe9800"/>
<polygon points="1457.4,386.2 1467.5,388.5 1490.7,371.7 1481.2,369.8" fill="#fe9800" stroke="#fe9800"/>
<polygon points="1467.5,388.5 1477.7,390.8 1500.2,373.5 1490.7,371.7" fill="#fe9700" stroke="#fe9700"/>
<polygon points="1477.7,390.8 1487.9,393.1 1509.8,375.4 1500.2,373.5" fill="#fe9600" stroke="#fe9600"/>
<polygon points="1487.9,393.1 1498.1,395.3 1519.3,377.2 1509.8,375.4" fill="#fe9500" stroke="#fe9500"/>
<polygon points="1498.1,395.3 1508.3,397.5 1528.9,379.1 1519.3,377.2" fill="#fe9400" stroke="#fe9400"/>
<polygon points="1508.3,397.5 1518.5,399.7 1538.4,380.9 1528.9,379.1" fill="#fe9400" stroke="#fe9400"/>
<polygon points="1518.5,399.7 1528.7,401.8 1547.9,382.7 1538.4,380.9" fill="#ff9300" stroke="#ff9300"/>
<polygon points="1528.7,401.8 1538.9,403.9 1557.5,384.5 1547.9,382.7" fill="#ff9300" stroke="#ff9300"/>
<polygon points="1538.9,403.9 1549.1,406.0 1567.0,386.3 1557.5,384.5" fill="#ff9500" stroke="#ff9500"/>
<polygon points="1549.1,406.0 1559.3,408.1 1576.6,388.1 1567.0,386.3" fill="#ff9600" stroke="#ff9600"/>
<polygon points="1559.3,408.1 1569.5,410.2 1586.2,389.8 1576.6,388.1" fill="#ff9800" stroke="#ff9800"/>
<polygon points="1569.5,410.2 1579.7,412.3 1595.7,391.6 1586.2,389.8" fill="#ff9a00" stroke="#ff9a00"/>
<polygon points="1579.7,412.3 1589.9,414.3 1605.3,393.3 1595.7,391.6" fill="#ff9b00" stroke="#ff9b00"/>
<polygon points="1589.9,414.3 1600.2,416.3 1614.8,395.1 1605.3,393.3" fill="#ff9d00" stroke="#ff9d00"/>
<polygon points="1600.2,416.3 1610.4,418.4 1624.4,396.8 1614.8,395.1" fill="#ff9e00" stroke="#ff9e00"/>
<polygon points="1610.4,418.4 1620.6,420.4 1634.0,398.5 1624.4,396.8" fill="#ffa000" stroke="#ffa000"/>
<polygon points="1620.6,420.4 1630.9,422.4 1643.6,400.2 1634.0,398.5" fill="#ffa100" stroke="#ffa100"/>
<polygon points="1630.9,422.4 1641.1,424.4 1653.1,401.8 1643.6,400.2" fill="#ffa300" stroke="#ffa300"/>
<polygon points="1641.1,424.4 1651.3,426.4 1662.7,403.5 1653.1,401.8" fill="#ffa500" stroke="#ffa500"/>
<polygon points="1651.3,426.4 1661.5,428.4 1672.3,405.1 1662.7,403.5" fill="#ffa600" stroke="#ffa600"/>
<polygon points="1661.5,428.4 1671.8,430.4 1681.9,406.8 1672.3,405.1" fill="#ffa800" stroke="#ffa800"/>
<polygon points="1414.5,356.2 1424.0,358.2 1463.5,340.4 1455.1,338.5" fill="#ff7f00" stroke="#ff7f00"/>
<polygon points="1424.0,358.2 1433.5,360.2 1471.9,342.2 1463.5,340.4" fill="#ff7900" stroke="#ff7900"/>
<polygon points="1433.5,360.2 1443.1,362.1 1480.3,344.1 1471.9,342.2" fill="#ff7300" stroke="#ff7300"/>
<polygon points="1443.1,362.1 1452.6,364.0 1488.6,345.9 1480.3,344.1" fill="#ff6d00" stroke="#ff6d00"/>
<polygon points="1452.6,364.0 1462.1,366.0 1497.0,347.7 1488.6,345.9" fill="#ff6700" stroke="#ff6700"/>
<polygon points="1462.1,366.0 1471.6,367.9 1505.4,349.5 1497.0,347.7" fill="#ff6100" stroke="#ff6100"/>
<polygon points="1471.6,367.9 1481.2,369.8 1513.8,351.3 1505.4,349.5" fill="#ff5b00" stroke="#ff5b00"/>
<polygon points="1481.2,369.8 1490.7,371.7 1522.2,353.1 1513.8,351.3" fill="#ff5500" stroke="#ff5500"/>
<polygon points="1490.7,371.7 1500.2,373.5 1530.6,354.9 1522.2,353.1" fill="#ff4f00" stroke="#ff4f00"/>
<polygon points="1500.2,373.5 1509.8,375.4 1539.0,356.6 1530.6,354.9" fill="#ff4900" stroke="#ff4900"/>
<polygon points="1509.8,375.4 1519.3,377.2 1547.4,358.4 1539.0,356.6" fill="#ff4200" stroke="#ff4200"/>
<polygon points="1519.3,377.2 1528.9,379.1 1555.8,360.1 1547.4,358.4" fill="#ff3c00" stroke="#ff3c00"/>
<polygon points="1528.9,379.1 1538.4,380.9 1564.2,361.8 1555.8,360.1" fill="#ff3600" stroke="#ff3600"/>
<polygon points="1538.4,380.9 1547.9,382.7 1572.6,363.6 1564.2,361.8" fill="#ff3000" stroke="#ff3000"/>
<polygon points="1547.9,382.7 1557.5,384.5 1581.0,365.3 1572.6,363.6" fill="#ff3000" stroke="#ff3000"/>
<polygon points="1557.5,384.5 1567.0,386.3 1589.4,367.0 1581.0,365.3" fill="#ff3700" stroke="#ff3700"/>
<polygon points="1567.0,386.3 1576.6,388.1 1597.8,368.7 1589.4,367.0" fill="#ff3d00" stroke="#ff3d00"/>
<polygon points="1576.6,388.1 1586.2,389.8 1606.2,370.3 1597.8,368.7" fill="#ff4300" stroke="#ff4300"/>
<polygon points="1586.2,389.8 1595.7,391.6 1614.7,372.0 1606.2,370.3" fill="#ff4900" stroke="#ff4900"/>
<polygon points="1595.7,391.6 1605.3,393.3 1623.1,373.6 1614.7,372.0" fill="#ff5000" stroke="#ff5000"/>
<polygon points="1605.3,393.3 1614.8,395.1 1631.5,375.3 1623.1,373.6" fill="#ff5600" stroke="#ff5600"/>
<polygon points="1614.8,395.1 1624.4,396.8 1639.9,376.9 1631.5,375.3" fill="#ff5c00" stroke="#ff5c00"/>
<polygon points="1624.4,396.8 1634.0,398.5 1648.3,378.5 1639.9,376.9" fill="#ff6200" stroke="#ff6200"/>
<polygon points="1634.0,398.5 1643.6,400.2 1656.8,380.2 1648.3,378.5" fill="#ff6900" stroke="#ff6900"/>
<polygon points="1643.6,400.2 1653.1,401.8 1665.2,381.7 1656.8,380.2" fill="#ff6f00" stroke="#ff6f00"/>
<polygon points="1653.1,401.8 1662.7,403.5 1673.6,383.3 1665.2,381.7" fill="#ff7500" stroke="#ff7500"/>
<polygon points="1662.7,403.5 1672.3,405.1 1682.1,384.9 1673.6,383.3" fill="#ff7b00" stroke="#ff7b00"/>
<polygon points="1672.3,405.1 1681.9,406.8 1690.5,386.5 1682.1,384.9" fill="#ff8200" stroke="#ff8200"/>
<polygon points="1455.1,338.5 1463.5,340.4 1503.4,323.5 1496.1,321.8" fill="#ff5000" stroke="#ff5000"/>
<polygon points="1463.5,340.4 1471.9,342.2 1510.6,325.2 1503.4,323.5" fill="#ff4a00" stroke="#ff4a00"/>
<polygon points="1471.9,342.2 1480.3,344.1 1517.8,326.9 1510.6,325.2" fill="#ff4500" stroke="#ff4500"/>
<polygon points="1480.3,344.1 1488.6,345.9 1525.0,328.6 1517.8,326.9" fill="#ff3f00" stroke="#ff3f00"/>
<polygon points="1488.6,345.9 1497.0,347.7 1532.3,330.3 1525.0,328.6" fill="#ff3a00" stroke="#ff3a00"/>
<polygon points="1497.0,347.7 1505.4,349.5 1539.5,331.9 1532.3,330.3" fill="#ff3400" stroke="#ff3400"/>
<polygon points="1505.4,349.5 1513.8,351.3 1546.7,333.6 1539.5,331.9" fill="#ff2e00" stroke="#ff2e00"/>
<polygon points="1513.8,351.3 1522.2,353.1 1554.0,335.2 1546.7,333.6" fill="#ff2900" stroke="#ff2900"/>
<polygon points="1522.2,353.1 1530.6,354.9 1561.2,336.9 1554.0,335.2" fill="#ff2300" stroke="#ff2300"/>
<polygon points="1530.6,354.9 1539.0,356.6 1568.4,338.5 1561.2,336.9" fill="#ff1e00" stroke="#ff1e00"/>
<polygon points="1539.0,356.6 1547.4,358.4 1575.7,340.1 1568.4,338.5" fill="#ff1800" stroke="#ff1800"/>
<polygon points="1547.4,358.4 1555.8,360.1 1582.9,341.7 1575.7,340.1" fill="#ff1300" stroke="#ff1300"/>
<polygon points="1555.8,360.1 1564.2,361.8 1590.2,343.3 1582.9,341.7" fill="#ff0d00" stroke="#ff0d00"/>
<polygon points="1564.2,361.8 1572.6,363.6 1597.4,344.9 1590.2,343.3" fill="#ff0700" stroke="#ff0700"/>
<polygon points="1572.6,363.6 1581.0,365.3 1604.7,346.5 1597.4,344.9" fill="#ff0700" stroke="#ff0700"/>
<polygon points="1581.0,365.3 1589.4,367.0 1611.9,348.0 1604.7,346.5" fill="#ff0d00" stroke="#ff0d00"/>
<polygon points="1589.4,367.0 1597.8,368.7 1619.2,349.6 1611.9,348.0" fill="#ff1300" stroke="#ff1300"/>
<polygon points="1597.8,368.7 1606.2,370.3 1626.4,351.2 1619.2,349.6" fill="#ff1800" stroke="#ff1800"/>
<polygon points="1606.2,370.3 1614.7,372.0 1633.7,352.7 1626.4,351.2" fill="#ff1e00" stroke="#ff1e00"/>
<polygon points="1614.7,372.0 1623.1,373.6 1640.9,354.2 1633.7,352.7" fill="#ff2300" stroke="#ff2300"/>
<polygon points="1623.1,373.6 1631.5,375.3 1648.2,355.8 1640.9,354.2" fill="#ff2900" stroke="#ff2900"/>
<polygon points="1631.5,375.3 1639.9,376.9 1655.5,357.3 1648.2,355.8" fill="#ff2e00" stroke="#ff2e00"/>
<polygon points="1639.9,376.9 1648.3,378.5 1662.7,358.8 1655.5,357.3" fill="#ff3400" stroke="#ff3400"/>
<polygon points="1648.3,378.5 1656.8,380.2 1670.0,360.3 1662.7,358.8" fill="#ff3a00" stroke="#ff3a00"/>
<polygon points="1656.8,380.2 1665.2,381.7 1677.3,361.8 1670.0,360.3" fill="#ff3f00" stroke="#ff3f00"/>
<polygon points="1665.2,381.7 1673.6,383.3 1684.5,363.2 1677.3,361.8" fill="#ff4500" stroke="#ff4500"/>
<polygon points="1673.6,383.3 1682.1,384.9 1691.8,364.7 1684.5,363.2" fill="#ff4a00" stroke="#ff4a00"/>
<polygon points="1682.1,384.9 1690.5,386.5 1699.1,366.2 1691.8,364.7" fill="#ff5000" stroke="#ff5000"/>
<polygon points="1496.1,321.8 1503.4,323.5 1543.6,307.6 1537.6,306.1" fill="#ff1f00" stroke="#ff1f00"/>
<polygon points="1503.4,323.5 1510.6,325.2 1549.7,309.1 1543.6,307.6" fill="#ff1d00" stroke="#ff1d00"/>
<polygon points="1510.6,325.2 1517.8,326.9 1555.7,310.7 1549.7,309.1" fill="#ff1b00" stroke="#ff1b00"/>
<polygon points="1517.8,326.9 1525.0,328.6 1561.8,312.2 1555.7,310.7" fill="#ff1800" stroke="#ff1800"/>
<polygon points="1525.0,328.6 1532.3,330.3 1567.8,313.6 1561.8,312.2" fill="#ff1600" stroke="#ff1600"/>
<polygon points="1532.3,330.3 1539.5,331.9 1573.9,315.1 1567.8,313.6" fill="#ff1400" stroke="#ff1400"/>
<polygon points="1539.5,331.9 1546.7,333.6 1580.0,316.6 1573.9,315.1" fill="#ff1100" stroke="#ff1100"/>
<polygon points="1546.7,333.6 1554.0,335.2 1586.0,318.1 1580.0,316.6" fill="#ff0f00" stroke="#ff0f00"/>
<polygon points="1554.0,335.2 1561.2,336.9 1592.1,319.5 1586.0,318.1" fill="#ff0d00" stroke="#ff0d00"/>
<polygon points="1561.2,336.9 1568.4,338.5 1598.2,321.0 1592.1,319.5" fill="#ff0a00" stroke="#ff0a00"/>
<polygon points="1568.4,338.5 1575.7,340.1 1604.2,322.4 1598.2,321.0" fill="#ff0800" stroke="#ff0800"/>
<polygon points="1575.7,340.1 1582.9,341.7 1610.3,323.9 1604.2,322.4" fill="#ff0600" stroke="#ff0600"/>
<polygon points="1582.9,341.7 1590.2,343.3 1616.4,325.3 1610.3,323.9" fill="#ff0300" stroke="#ff0300"/>
<polygon points="1590.2,343.3 1597.4,344.9 1622.4,326.7 1616.4,325.3" fill="#ff0100" stroke="#ff0100"/>
<polygon points="1597.4,344.9 1604.7,346.5 1628.5,328.1 1622.4,326.7" fill="#ff0100" stroke="#ff0100"/>
<polygon points="1604.7,346.5 1611.9,348.0 1634.6,329.5 1628.5,328.1" fill="#ff0400" stroke="#ff0400"/>
<polygon points="1611.9,348.0 1619.2,349.6 1640.7,330.9 1634.6,329.5" fill="#ff0700" stroke="#ff0700"/>
<polygon points="1619.2,349.6 1626.4,351.2 1646.8,332.3 1640.7,330.9" fill="#ff0a00" stroke="#ff0a00"/>
<polygon points="1626.4,351.2 1633.7,352.7 1652.8,333.7 1646.8,332.3" fill="#ff0c00" stroke="#ff0c00"/>
<polygon points="1633.7,352.7 1640.9,354.2 1658.9,335.1 1652.8,333.7" fill="#ff0f00" stroke="#ff0f00"/>
<polygon points="1640.9,354.2 1648.2,355.8 1665.0,336.5 1658.9,335.1" fill="#ff1200" stroke="#ff1200"/>
<polygon points="1648.2,355.8 1655.5,357.3 1671.1,337.8 1665.0,336.5" fill="#ff1400" stroke="#ff1400"/>
<polygon points="1655.5,357.3 1662.7,358.8 1677.2,339.2 1671.1,337.8" fill="#ff1700" stroke="#ff1700"/>
<polygon points="1662.7,358.8 1670.0,360.3 1683.3,340.5 1677.2,339.2" fill="#ff1a00" stroke="#ff1a00"/>
<polygon points="1670.0,360.3 1677.3,361.8 1689.3,341.9 1683.3,340.5" fill="#ff1d00" stroke="#ff1d00"/>
<polygon points="1677.3,361.8 1684.5,363.2 1695.4,343.2 1689.3,341.9" fill="#ff1f00" stroke="#ff1f00"/>
<polygon points="1684.5,363.2 1691.8,364.7 1701.5,344.5 1695.4,343.2" fill="#ff2200" stroke="#ff2200"/>
<polygon points="1691.8,364.7 1699.1,366.2 1707.6,345.8 1701.5,344.5" fill="#ff2500" stroke="#ff2500"/>
<polygon points="1537.6,306.1 1543.6,307.6 1584.2,292.8 1579.4,291.5" fill="#ff0100" stroke="#ff0100"/>
<polygon points="1543.6,307.6 1549.7,309.1 1589.1,294.0 1584.2,292.8" fill="#ff0100" stroke="#ff0100"/>
<polygon points="1549.7,309.1 1555.7,310.7 1594.0,295.3 1589.1,294.0" fill="#ff0100" stroke="#ff0100"/>
<polygon points="1555.7,310.7 1561.8,312.2 1598.8,296.6 1594.0,295.3" fill="#ff0100" stroke="#ff0100"/>
<polygon points="1561.8,312.2 1567.8,313.6 1603.7,297.9 1598.8,296.6" fill="#ff0100" stroke="#ff0100"/>
<polygon points="1567.8,313.6 1573.9,315.1 1608.6,299.2 1603.7,297.9" fill="#ff0100" stroke="#ff0100"/>
<polygon points="1573.9,315.1 1580.0,316.6 1613.5,300.4 1608.6,299.2" fill="#ff0000" stroke="#ff0000"/>
<polygon points="1580.0,316.6 1586.0,318.1 1618.3,301.7 1613.5,300.4" fill="#ff0000" stroke="#ff0000"/>
<polygon points="1586.0,318.1 1592.1,319.5 1623.2,302.9 1618.3,301.7" fill="#ff0000" stroke="#ff0000"/>
<polygon points="1592.1,319.5 1598.2,321.0 1628.1,304.2 1623.2,302.9" fill="#ff0000" stroke="#ff0000"/>
<polygon points="1598.2,321.0 1604.2,322.4 1633.0,305.4 1628.1,304.2" fill="#ff0000" stroke="#ff0000"/>
<polygon points="1604.2,322.4 1610.3,323.9 1637.9,306.6 1633.0,305.4" fill="#ff0000" stroke="#ff0000"/>
<polygon points="1610.3,323.9 1616.4,325.3 1642.8,307.9 1637.9,306.6" fill="#ff0000" stroke="#ff0000"/>
<polygon points="1616.4,325.3 1622.4,326.7 1647.6,309.1 1642.8,307.9" fill="#ff0000" stroke="#ff0000"/>
<polygon points="1622.4,326.7 1628.5,328.1 1652.5,310.3 1647.6,309.1" fill="#ff0000" stroke="#ff0000"/>
<polygon points="1628.5,328.1 1634.6,329.5 1657.4,311.5 1652.5,310.3" fill="#ff0000" stroke="#ff0000"/>
<polygon points="1634.6,329.5 1640.7,330.9 1662.3,312.7 1657.4,311.5" fill="#ff0000" stroke="#ff0000"/>
<polygon points="1640.7,330.9 1646.8,332.3 1667.2,313.9 1662.3,312.7" fill="#ff0100" stroke="#ff0100"/>
<polygon points="1646.8,332.3 1652.8,333.7 1672.1,315.1 1667.2,313.9" fill="#ff0100" stroke="#ff0100"/>
<polygon points="1652.8,333.7 1658.9,335.1 1677.0,316.3 1672.1,315.1" fill="#ff0100" stroke="#ff0100"/>
<polygon points="1658.9,335.1 1665.0,336.5 1681.9,317.4 1677.0,316.3" fill="#ff0100" stroke="#ff0100"/>
<polygon points="1665.0,336.5 1671.1,337.8 1686.8,318.6 1681.9,317.4" fill="#ff0100" stroke="#ff0100"/>
<polygon points="1671.1,337.8 1677.2,339.2 1691.7,319.8 1686.8,318.6" fill="#ff0200" stroke="#ff0200"/>
<polygon points="1677.2,339.2 1683.3,340.5 1696.5,320.9 1691.7,319.8" fill="#ff0200" stroke="#ff0200"/>
<polygon points="1683.3,340.5 1689.3,341.9 1701.4,322.1 1696.5,320.9" fill="#ff0200" stroke="#ff0200"/>
<polygon points="1689.3,341.9 1695.4,343.2 1706.3,323.2 1701.4,322.1" fill="#ff0200" stroke="#ff0200"/>
<polygon points="1695.4,343.2 1701.5,344.5 1711.2,324.3 1706.3,323.2" fill="#ff0200" stroke="#ff0200"/>
<polygon points="1701.5,344.5 1707.6,345.8 1716.1,325.5 1711.2,324.3" fill="#ff0300" stroke="#ff0300"/>
<polygon points="1579.4,291.5 1584.2,292.8 1625.2,278.9 1621.5,277.9" fill="#ff0000" stroke="#ff0000"/>
<polygon points="1584.2,292.8 1589.1,294.0 1628.9,280.0 1625.2,278.9" fill="#ff0000" stroke="#ff0000"/>
<polygon points="1589.1,294.0 1594.0,295.3 1632.5,281.0 1628.9,280.0" fill="#ff0000" stroke="#ff0000"/>
<polygon points="1594.0,295.3 1598.8,296.6 1636.2,282.0 1632.5,281.0" fill="#ff0000" stroke="#ff0000"/>
<polygon points="1598.8,296.6 1603.7,297.9 1639.9,283.0 1636.2,282.0" fill="#ff0000" stroke="#ff0000"/>
<polygon points="1603.7,297.9 1608.6,299.2 1643.6,284.0 1639.9,283.0" fill="#ff0000" stroke="#ff0000"/>
<polygon points="1608.6,299.2 1613.5,300.4 1647.2,285.0 1643.6,284.0" fill="#ff0000" stroke="#ff0000"/>
<polygon points="1613.5,300.4 1618.3,301.7 1650.9,286.0 1647.2,285.0" fill="#ff0000" stroke="#ff0000"/>
<polygon points="1618.3,301.7 1623.2,302.9 1654.6,287.0 1650.9,286.0" fill="#ff0000" stroke="#ff0000"/>
<polygon points="1623.2,302.9 1628.1,304.2 1658.3,288.0 1654.6,287.0" fill="#ff0000" stroke="#ff0000"/>
<polygon points="1628.1,304.2 1633.0,305.4 1662.0,289.0 1658.3,288.0" fill="#ff0000" stroke="#ff0000"/>
<polygon points="1633.0,305.4 1637.9,306.6 1665.6,290.0 1662.0,289.0" fill="#ff0000" stroke="#ff0000"/>
<polygon points="1637.9,306.6 1642.8,307.9 1669.3,291.0 1665.6,290.0" fill="#ff0000" stroke="#ff0000"/>
<polygon points="1642.8,307.9 1647.6,309.1 1673.0,292.0 1669.3,291.0" fill="#ff0000" stroke="#ff0000"/>
<polygon points="1647.6,309.1 1652.5,310.3 1676.7,292.9 1673.0,292.0" fill="#ff0000" stroke="#ff0000"/>
<polygon points="1652.5,310.3 1657.4,311.5 1680.4,293.9 1676.7,292.9" fill="#ff0000" stroke="#ff0000"/>
<polygon points="1657.4,311.5 1662.3,312.7 1684.0,294.9 1680.4,293.9" fill="#ff0000" stroke="#ff0000"/>
<polygon points="1662.3,312.7 1667.2,313.9 1687.7,295.8 1684.0,294.9" fill="#ff0000" stroke="#ff0000"/>
<polygon points="1667.2,313.9 1672.1,315.1 1691.4,296.8 1687.7,295.8" fill="#ff0000" stroke="#ff0000"/>
<polygon points="1672.1,315.1 1677.0,316.3 1695.1,297.7 1691.4,296.8" fill="#ff0000" stroke="#ff0000"/>
<polygon points="1677.0,316.3 1681.9,317.4 1698.8,298.7 1695.1,297.7" fill="#ff0000" stroke="#ff0000"/>
<polygon points="1681.9,317.4 1686.8,318.6 1702.5,299.6 1698.8,298.7" fill="#ff0000" stroke="#ff0000"/>
<polygon points="1686.8,318.6 1691.7,319.8 1706.2,300.5 1702.5,299.6" fill="#ff0000" stroke="#ff0000"/>
<polygon points="1691.7,319.8 1696.5,320.9 1709.9,301.5 1706.2,300.5" fill="#ff0000" stroke="#ff0000"/>
<polygon points="1696.5,320.9 1701.4,322.1 1713.6,302.4 1709.9,301.5" fill="#ff0000" stroke="#ff0000"/>
<polygon points="1701.4,322.1 1706.3,323.2 1717.3,303.3 1713.6,302.4" fill="#ff0000" stroke="#ff0000"/>
<polygon points="1706.3,323.2 1711.2,324.3 1720.9,304.2 1717.3,303.3" fill="#ff0000" stroke="#ff0000"/>
<polygon points="1711.2,324.3 1716.1,325.5 1724.6,305.1 1720.9,304.2" fill="#ff0000" stroke="#ff0000"/>
<polygon points="1621.5,277.9 1625.2,278.9 1666.5,266.2 1664.0,265.4" fill="#ff0000" stroke="#ff0000"/>
<polygon points="1625.2,278.9 1628.9,280.0 1669.0,266.9 1666.5,266.2" fill="#ff0000" stroke="#ff0000"/>
<polygon points="1628.9,280.0 1632.5,281.0 1671.4,267.6 1669.0,266.9" fill="#ff0000" stroke="#ff0000"/>
<polygon points="1632.5,281.0 1636.2,282.0 1673.9,268.3 1671.4,267.6" fill="#ff0000" stroke="#ff0000"/>
<polygon points="1636.2,282.0 1639.9,283.0 1676.3,269.1 1673.9,268.3" fill="#ff0000" stroke="#ff0000"/>
<polygon points="1639.9,283.0 1643.6,284.0 1678.8,269.8 1676.3,269.1" fill="#ff0000" stroke="#ff0000"/>
<polygon points="1643.6,284.0 1647.2,285.0 1681.3,270.5 1678.8,269.8" fill="#ff0000" stroke="#ff0000"/>
<polygon points="1647.2,285.0 1650.9,286.0 1683.7,271.2 1681.3,270.5" fill="#ff0000" stroke="#ff0000"/>
<polygon points="1650.9,286.0 1654.6,287.0 1686.2,271.9 1683.7,271.2" fill="#ff0000" stroke="#ff0000"/>
<polygon points="1654.6,287.0 1658.3,288.0 1688.7,272.6 1686.2,271.9" fill="#ff0000" stroke="#ff0000"/>
<polygon points="1658.3,288.0 1662.0,289.0 1691.1,273.3 1688.7,272.6" fill="#ff0000" stroke="#ff0000"/>
<polygon points="1662.0,289.0 1665.6,290.0 1693.6,274.0 1691.1,273.3" fill="#ff0000" stroke="#ff0000"/>
<polygon points="1665.6,290.0 1669.3,291.0 1696.1,274.7 1693.6,274.0" fill="#ff0000" stroke="#ff0000"/>
<polygon points="1669.3,291.0 1673.0,292.0 1698.5,275.4 1696.1,274.7" fill="#ff0000" stroke="#ff0000"/>
<polygon points="1673.0,292.0 1676.7,292.9 1701.0,276.1 1698.5,275.4" fill="#ff0000" stroke="#ff0000"/>
<polygon points="1676.7,292.9 1680.4,293.9 1703.5,276.8 1701.0,276.1" fill="#ff0000" stroke="#ff0000"/>
<polygon points="1680.4,293.9 1684.0,294.9 1705.9,277.5 1703.5,276.8" fill="#ff0000" stroke="#ff0000"/>
<polygon points="1684.0,294.9 1687.7,295.8 1708.4,278.1 1705.9,277.5" fill="#ff0000" stroke="#ff0000"/>
<polygon points="1687.7,295.8 1691.4,296.8 1710.9,278.8 1708.4,278.1" fill="#ff0000" stroke="#ff0000"/>
<polygon points="1691.4,296.8 1695.1,297.7 1713.3,279.5 1710.9,278.8" fill="#ff0000" stroke="#ff0000"/>
<polygon points="1695.1,297.7 1698.8,298.7 1715.8,280.2 1713.3,279.5" fill="#ff0000" stroke="#ff0000"/>
<polygon points="1698.8,298.7 1702.5,299.6 1718.3,280.8 1715.8,280.2" fill="#ff0000" stroke="#ff0000"/>
<polygon points="1702.5,299.6 1706.2,300.5 1720.7,281.5 1718.3,280.8" fill="#ff0000" stroke="#ff0000"/>
<polygon points="1706.2,300.5 1709.9,301.5 1723.2,282.1 1720.7,281.5" fill="#ff0000" stroke="#ff0000"/>
<polygon points="1709.9,301.5 1713.6,302.4 1725.7,282.8 1723.2,282.1" fill="#ff0000" stroke="#ff0000"/>
<polygon points="1713.6,302.4 1717.3,303.3 1728.2,283.5 1725.7,282.8" fill="#ff0000" stroke="#ff0000"/>
<polygon points="1717.3,303.3 1720.9,304.2 1730.6,284.1 1728.2,283.5" fill="#ff0000" stroke="#ff0000"/>
<polygon points="1720.9,304.2 1724.6,305.1 1733.1,284.8 1730.6,284.1" fill="#ff0000" stroke="#ff0000"/>
<polygon points="1664.0,265.4 1666.5,266.2 1708.1,254.5 1706.9,254.1" fill="#ff0000" stroke="#ff0000"/>
<polygon points="1666.5,266.2 1669.0,266.9 1709.3,254.9 1708.1,254.5" fill="#ff0000" stroke="#ff0000"/>
<polygon points="1669.0,266.9 1671.4,267.6 1710.6,255.3 1709.3,254.9" fill="#ff0000" stroke="#ff0000"/>
<polygon points="1671.4,267.6 1673.9,268.3 1711.8,255.7 1710.6,255.3" fill="#ff0000" stroke="#ff0000"/>
<polygon points="1673.9,268.3 1676.3,269.1 1713.1,256.1 1711.8,255.7" fill="#ff0000" stroke="#ff0000"/>
<polygon points="1676.3,269.1 1678.8,269.8 1714.3,256.4 1713.1,256.1" fill="#ff0000" stroke="#ff0000"/>
<polygon points="1678.8,269.8 1681.3,270.5 1715.5,256.8 1714.3,256.4" fill="#ff0000" stroke="#ff0000"/>
<polygon points="1681.3,270.5 1683.7,271.2 1716.8,257.2 1715.5,256.8" fill="#ff0000" stroke="#ff0000"/>
<polygon points="1683.7,271.2 1686.2,271.9 1718.0,257.6 1716.8,257.2" fill="#ff0000" stroke="#ff0000"/>
<polygon points="1686.2,271.9 1688.7,272.6 1719.2,257.9 1718.0,257.6" fill="#ff0000" stroke="#ff0000"/>
<polygon points="1688.7,272.6 1691.1,273.3 1720.5,258.3 1719.2,257.9" fill="#ff0000" stroke="#ff0000"/>
<polygon points="1691.1,273.3 1693.6,274.0 1721.7,258.7 1720.5,258.3" fill="#ff0000" stroke="#ff0000"/>
<polygon points="1693.6,274.0 1696.1,274.7 1723.0,259.0 1721.7,258.7" fill="#ff0000" stroke="#ff0000"/>
<polygon points="1696.1,274.7 1698.5,275.4 1724.2,259.4 1723.0,259.0" fill="#ff0000" stroke="#ff0000"/>
<polygon points="1698.5,275.4 1701.0,276.1 1725.4,259.8 1724.2,259.4" fill="#ff0000" stroke="#ff0000"/>
<polygon points="1701.0,276.1 1703.5,276.8 1726.7,260.1 1725.4,259.8" fill="#ff0000" stroke="#ff0000"/>
<polygon points="1703.5,276.8 1705.9,277.5 1727.9,260.5 1726.7,260.1" fill="#ff0000" stroke="#ff0000"/>
<polygon points="1705.9,277.5 1708.4,278.1 1729.1,260.9 1727.9,260.5" fill="#ff0000" stroke="#ff0000"/>
<polygon points="1708.4,278.1 1710.9,278.8 1730.4,261.2 1729.1,260.9" fill="#ff0000" stroke="#ff0000"/>
<polygon points="1710.9,278.8 1713.3,279.5 1731.6,261.6 1730.4,261.2" fill="#ff0000" stroke="#ff0000"/>
<polygon points="1713.3,279.5 1715.8,280.2 1732.9,261.9 1731.6,261.6" fill="#ff0000" stroke="#ff0000"/>
<polygon points="1715.8,280.2 1718.3,280.8 1734.1,262.3 1732.9,261.9" fill="#ff0000" stroke="#ff0000"/>
<polygon points="1718.3,280.8 1720.7,281.5 1735.4,262.6 1734.1,262.3" fill="#ff0000" stroke="#ff0000"/>
<polygon points="1720.7,281.5 1723.2,282.1 1736.6,263.0 1735.4,262.6" fill="#ff0000" stroke="#ff0000"/>
<polygon points="1723.2,282.1 1725.7,282.8 1737.8,263.3 1736.6,263.0" fill="#ff0000" stroke="#ff0000"/>
<polygon points="1725.7,282.8 1728.2,283.5 1739.1,263.7 1737.8,263.3" fill="#ff0000" stroke="#ff0000"/>
<polygon points="1728.2,283.5 1730.6,284.1 1740.3,264.0 1739.1,263.7" fill="#ff0000" stroke="#ff0000"/>
<polygon points="1730.6,284.1 1733.1,284.8 1741.6,264.4 1740.3,264.0" fill="#ff0000" stroke="#ff0000"/>
<polygon points="1706.9,254.1 1708.1,254.5 1750.0,244.0 1750.0,244.0" fill="#ff0000" stroke="#ff0000"/>
<polygon points="1708.1,254.5 1709.3,254.9 1750.0,244.0 1750.0,244.0" fill="#ff0000" stroke="#ff0000"/>
<polygon points="1709.3,254.9 1710.6,255.3 1750.0,244.0 1750.0,244.0" fill="#ff0000" stroke="#ff0000"/>
<polygon points="1710.6,255.3 1711.8,255.7 1750.0,244.0 1750.0,244.0" fill="#ff0000" stroke="#ff0000"/>
<polygon points="1711.8,255.7 1713.1,256.1 1750.0,244.0 1750.0,244.0" fill="#ff0000" stroke="#ff0000"/>
<polygon points="1713.1,256.1 1714.3,256.4 1750.0,244.0 1750.0,244.0" fill="#ff0000" stroke="#ff0000"/>
<polygon points="1714.3,256.4 1715.5,256.8 1750.0,244.0 1750.0,244.0" fill="#ff0000" stroke="#ff0000"/>
<polygon points="1715.5,256.8 1716.8,257.2 1750.0,244.0 1750.0,244.0" fill="#ff0000" stroke="#ff0000"/>
<polygon points="1716.8,257.2 1718.0,257.6 1750.0,244.0 1750.0,244.0" fill="#ff0000" stroke="#ff0000"/>
<polygon points="1718.0,257.6 1719.2,257.9 1750.0,244.0 1750.0,244.0" fill="#ff0000" stroke="#ff0000"/>
<polygon points="1719.2,257.9 1720.5,258.3 1750.0,244.0 1750.0,244.0" fill="#ff0000" stroke="#ff0000"/>
<polygon points="1720.5,258.3 1721.7,258.7 1750.0,244.0 1750.0,244.0" fill="#ff0000" stroke="#ff0000"/>
<polygon points="1721.7,258.7 1723.0,259.0 1750.0,244.0 1750.0,244.0" fill="#ff0000" stroke="#ff0000"/>
<polygon points="1723.0,259.0 1724.2,259.4 1750.0,244.0 1750.0,244.0" fill="#ff0000" stroke="#ff0000"/>
<polygon points="1724.2,259.4 1725.4,259.8 1750.0,244.0 1750.0,244.0" fill="#ff0000" stroke="#ff0000"/>
<polygon points="1725.4,259.8 1726.7,260.1 1750.0,244.0 1750.0,244.0" fill="#ff0000" stroke="#ff0000"/>
<polygon points="1726.7,260.1 1727.9,260.5 1750.0,244.0 1750.0,244.0" fill="#ff0000" stroke="#ff0000"/>
<polygon points="1727.9,260.5 1729.1,260.9 1750.0,244.0 1750.0,244.0" fill="#ff0000" stroke="#ff0000"/>
<polygon points="1729.1,260.9 1730.4,261.2 1750.0,244.0 1750.0,244.0" fill="#ff0000" stroke="#ff0000"/>
<polygon points="1730.4,261.2 1731.6,261.6 1750.0,244.0 1750.0,244.0" fill="#ff0000" stroke="#ff0000"/>
<polygon points="1731.6,261.6 1732.9,261.9 1750.0,244.0 1750.0,244.0" fill="#ff0000" stroke="#ff0000"/>
<polygon points="1732.9,261.9 1734.1,262.3 1750.0,244.0 1750.0,244.0" fill="#ff0000" stroke="#ff0000"/>
<polygon points="1734.1,262.3 1735.4,262.6 1750.0,244.0 1750.0,244.0" fill="#ff0000" stroke="#ff0000"/>
<polygon points="1735.4,262.6 1736.6,263.0 1750.0,244.0 1750.0,244.0" fill="#ff0000" stroke="#ff0000"/>
<polygon points="1736.6,263.0 1737.8,263.3 1750.0,244.0 1750.0,244.0" fill="#ff0000" stroke="#ff0000"/>
<polygon points="1737.8,263.3 1739.1,263.7 1750.0,244.0 1750.0,244.0" fill="#ff0000" stroke="#ff0000"/>
<polygon points="1739.1,263.7 1740.3,264.0 1750.0,244.0 1750.0,244.0" fill="#ff0000" stroke="#ff0000"/>
<polygon points="1740.3,264.0 1741.6,264.4 1750.0,244.0 1750.0,244.0" fill="#ff0000" stroke="#ff0000"/>
</g>
<g clip-path="url(#cs)"><use href="#sf" filter="url(#bl)"/></g>
<g fill="none" stroke="#101010" stroke-opacity="0.85" stroke-width="1.1" stroke-dasharray="5 2 1.5 2">
<path d="M816.3,885.3 L816.6,905.9 L818.3,926.4 L821.2,946.8 L825.4,967.0 L831.0,986.8 L837.7,1006.3 L845.7,1025.3 L854.9,1043.8 L865.1,1061.7 L876.4,1078.9 L888.7,1095.4 L901.9,1111.3 L916.0,1126.3 L930.9,1140.5 L946.5,1154.0 L962.8,1166.5 L979.7,1178.3 L997.1,1189.2 L1015.0,1199.5 L1033.2,1209.0 L1051.7,1218.0 L1070.5,1226.3 L1089.5,1234.2 L1108.7,1241.6 L1128.0,1248.6 L1147.5,1255.2 L1167.1,1261.5 L1186.7,1267.5"/>
<path d="M942.2,721.6 L952.7,737.4 L964.0,752.7 L975.9,767.5 L988.4,781.8 L1001.5,795.5 L1015.1,808.8 L1029.3,821.5 L1043.8,833.7 L1058.8,845.4 L1074.1,856.6 L1089.8,867.3 L1105.7,877.7 L1121.9,887.6 L1138.4,897.1 L1155.0,906.3 L1171.8,915.2 L1188.7,923.8 L1205.8,932.1 L1223.0,940.2 L1240.3,948.1 L1257.6,955.8 L1275.1,963.3 L1292.6,970.7 L1310.1,978.1 L1327.6,985.3 L1345.2,992.6 L1362.8,999.8 L1380.3,1007.0"/>
<path d="M1040.2,576.1 L1054.3,587.8 L1068.8,599.1 L1083.5,610.0 L1098.6,620.4 L1114.0,630.5 L1129.6,640.1 L1145.4,649.4 L1161.5,658.3 L1177.7,666.9 L1194.1,675.1 L1210.7,683.0 L1227.4,690.6 L1244.2,698.0 L1261.2,705.1 L1278.2,712.0 L1295.3,718.7 L1312.5,725.2 L1329.7,731.5 L1347.0,737.7 L1364.3,743.7 L1381.7,749.7 L1399.1,755.6 L1416.5,761.4 L1433.9,767.2 L1451.4,773.0 L1468.8,778.7 L1486.2,784.5 L1503.6,790.4"/>
<path d="M1197.5,470.8 L1211.1,477.1 L1224.9,483.2 L1238.7,489.0 L1252.7,494.6 L1266.7,500.0 L1280.8,505.2 L1295.0,510.2 L1309.2,515.0 L1323.5,519.7 L1337.8,524.2 L1352.2,528.6 L1366.6,532.8 L1381.1,536.9 L1395.6,541.0 L1410.1,544.9 L1424.6,548.8 L1439.1,552.6 L1453.7,556.4 L1468.2,560.1 L1482.8,563.9 L1497.3,567.6 L1511.9,571.3 L1526.4,575.1 L1541.0,578.9 L1555.5,582.8 L1570.0,586.7 L1584.5,590.7 L1599.0,594.8"/>
<path d="M1414.5,356.2 L1424.0,358.2 L1433.5,360.2 L1443.1,362.1 L1452.6,364.0 L1462.1,366.0 L1471.6,367.9 L1481.2,369.8 L1490.7,371.7 L1500.2,373.5 L1509.8,375.4 L1519.3,377.2 L1528.9,379.1 L1538.4,380.9 L1547.9,382.7 L1557.5,384.5 L1567.0,386.3 L1576.6,388.1 L1586.2,389.8 L1595.7,391.6 L1605.3,393.3 L1614.8,395.1 L1624.4,396.8 L1634.0,398.5 L1643.6,400.2 L1653.1,401.8 L1662.7,403.5 L1672.3,405.1 L1681.9,406.8"/>
</g>
<polygon points="1682,1134 1807.5,1192.5 1680,1189 1675,1184 1673.5,1150" fill="url(#gcr)"/>
<polygon points="276.5,1212 370,1147 381,1141 393,1143 405,1160 407,1198 400,1206" fill="url(#gcl)"/>
<g font-family="'Liberation Sans', sans-serif" font-weight="bold" fill="#000">
<g opacity="0.8">
<text x="294.0" y="1202.0" font-size="47" textLength="105.7" lengthAdjust="spacingAndGlyphs" text-anchor="start">0.02</text>
</g>
<text x="832.0" y="55.8" font-size="47" textLength="189.1" lengthAdjust="spacingAndGlyphs" text-anchor="start">Void [%]</text>
<text x="20.0" y="1255.7" font-size="47" textLength="250.6" lengthAdjust="spacingAndGlyphs" text-anchor="start">Power [J/s]</text>
<text x="1817.0" y="1239.9" font-size="47" textLength="314.1" lengthAdjust="spacingAndGlyphs" text-anchor="start">Speed [mm/s]</text>
<text x="261.0" y="237.0" font-size="47" textLength="83.2" lengthAdjust="spacingAndGlyphs" text-anchor="start">220</text>
<text x="575.0" y="210.5" font-size="47" textLength="82.2" lengthAdjust="spacingAndGlyphs" text-anchor="start">200</text>
<text x="840.0" y="189.5" font-size="47" textLength="81.8" lengthAdjust="spacingAndGlyphs" text-anchor="start">180</text>
<text x="1029.0" y="180.0" font-size="47" textLength="108.2" lengthAdjust="spacingAndGlyphs" text-anchor="start">2800</text>
<text x="1356.5" y="207.5" font-size="47" textLength="109.6" lengthAdjust="spacingAndGlyphs" text-anchor="start">3000</text>
<text x="1753.0" y="242.0" font-size="47" textLength="112.1" lengthAdjust="spacingAndGlyphs" text-anchor="start">3200</text>
<text x="258.0" y="432.5" font-size="47" textLength="96.2" lengthAdjust="spacingAndGlyphs" text-anchor="start">0.12</text>
<text x="300.0" y="595.0" font-size="47" textLength="63.2" lengthAdjust="spacingAndGlyphs" text-anchor="start">0.1</text>
<text x="278.0" y="755.0" font-size="47" textLength="93.2" lengthAdjust="spacingAndGlyphs" text-anchor="start">0.08</text>
<text x="287.0" y="910.0" font-size="47" textLength="95.2" lengthAdjust="spacingAndGlyphs" text-anchor="start">0.06</text>
<text x="293.0" y="1057.0" font-size="47" textLength="97.1" lengthAdjust="spacingAndGlyphs" text-anchor="start">0.04</text>
<text x="292.0" y="1202.0" font-size="47" textLength="107.7" lengthAdjust="spacingAndGlyphs" text-anchor="start">2800</text>
<text x="1744.0" y="398.0" font-size="47" textLength="93.2" lengthAdjust="spacingAndGlyphs" text-anchor="start">0.12</text>
<text x="1731.5" y="559.0" font-size="47" textLength="64.2" lengthAdjust="spacingAndGlyphs" text-anchor="start">0.1</text>
<text x="1720.5" y="712.5" font-size="47" textLength="94.6" lengthAdjust="spacingAndGlyphs" text-anchor="start">0.08</text>
<text x="1710.5" y="865.0" font-size="47" textLength="94.2" lengthAdjust="spacingAndGlyphs" text-anchor="start">0.06</text>
<text x="1698.0" y="1010.0" font-size="47" textLength="95.6" lengthAdjust="spacingAndGlyphs" text-anchor="start">0.04</text>
<text x="1688.5" y="1152.5" font-size="47" textLength="94.2" lengthAdjust="spacingAndGlyphs" text-anchor="start">0.02</text>
<text x="597.0" y="1348.0" font-size="47" textLength="111.1" lengthAdjust="spacingAndGlyphs" text-anchor="start">3000</text>
<text x="983.0" y="1533.5" font-size="47" textLength="107.1" lengthAdjust="spacingAndGlyphs" text-anchor="start">3200</text>
<text x="1089.0" y="1537.0" font-size="47" textLength="82.2" lengthAdjust="spacingAndGlyphs" text-anchor="start">220</text>
<text x="1365.5" y="1377.5" font-size="47" textLength="84.2" lengthAdjust="spacingAndGlyphs" text-anchor="start">200</text>
<text x="1594.0" y="1246.5" font-size="47" textLength="81.4" lengthAdjust="spacingAndGlyphs" text-anchor="start">180</text>
</g>
</svg>
</body></html>
